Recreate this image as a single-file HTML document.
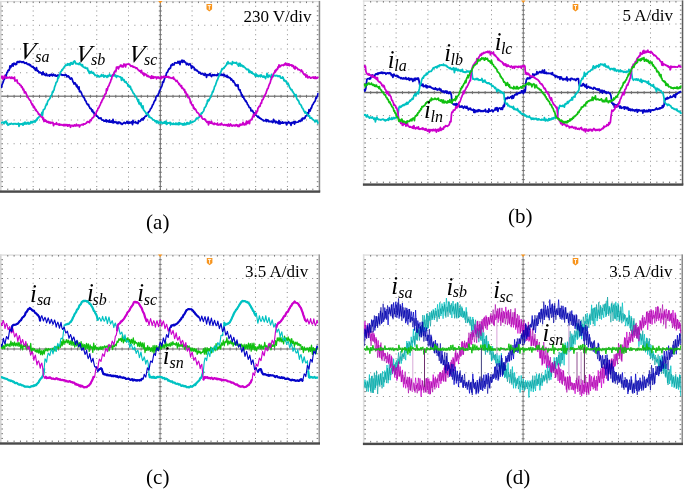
<!DOCTYPE html><html><head><meta charset="utf-8"><style>html,body{margin:0;padding:0;background:#fff;}svg{display:block}</style></head><body>
<svg width="685" height="490" viewBox="0 0 685 490">
<rect width="685" height="490" fill="#fff"/>
<defs><clipPath id="cpa"><rect x="0.9" y="1.5" width="317.8" height="188.7"/></clipPath><clipPath id="cpb"><rect x="363.8" y="1" width="318" height="182.2"/></clipPath><clipPath id="cpc"><rect x="0.9" y="255" width="317.6" height="187.1"/></clipPath><clipPath id="cpd"><rect x="363.8" y="255" width="317.7" height="187.5"/></clipPath></defs>
<path d="M32.68 5.74h1v1h-1zM32.68 10.48h1v1h-1zM32.68 15.23h1v1h-1zM32.68 19.97h1v1h-1zM32.68 24.71h1v1h-1zM32.68 29.45h1v1h-1zM32.68 34.2h1v1h-1zM32.68 38.94h1v1h-1zM32.68 43.68h1v1h-1zM32.68 48.42h1v1h-1zM32.68 53.17h1v1h-1zM32.68 57.91h1v1h-1zM32.68 62.65h1v1h-1zM32.68 67.39h1v1h-1zM32.68 72.14h1v1h-1zM32.68 76.88h1v1h-1zM32.68 81.62h1v1h-1zM32.68 86.36h1v1h-1zM32.68 91.11h1v1h-1zM32.68 95.85h1v1h-1zM32.68 100.59h1v1h-1zM32.68 105.33h1v1h-1zM32.68 110.08h1v1h-1zM32.68 114.82h1v1h-1zM32.68 119.56h1v1h-1zM32.68 124.3h1v1h-1zM32.68 129.05h1v1h-1zM32.68 133.79h1v1h-1zM32.68 138.53h1v1h-1zM32.68 143.28h1v1h-1zM32.68 148.02h1v1h-1zM32.68 152.76h1v1h-1zM32.68 157.5h1v1h-1zM32.68 162.24h1v1h-1zM32.68 166.99h1v1h-1zM32.68 171.73h1v1h-1zM32.68 176.47h1v1h-1zM32.68 181.21h1v1h-1zM32.68 185.96h1v1h-1zM64.46 5.74h1v1h-1zM64.46 10.48h1v1h-1zM64.46 15.23h1v1h-1zM64.46 19.97h1v1h-1zM64.46 24.71h1v1h-1zM64.46 29.45h1v1h-1zM64.46 34.2h1v1h-1zM64.46 38.94h1v1h-1zM64.46 43.68h1v1h-1zM64.46 48.42h1v1h-1zM64.46 53.17h1v1h-1zM64.46 57.91h1v1h-1zM64.46 62.65h1v1h-1zM64.46 67.39h1v1h-1zM64.46 72.14h1v1h-1zM64.46 76.88h1v1h-1zM64.46 81.62h1v1h-1zM64.46 86.36h1v1h-1zM64.46 91.11h1v1h-1zM64.46 95.85h1v1h-1zM64.46 100.59h1v1h-1zM64.46 105.33h1v1h-1zM64.46 110.08h1v1h-1zM64.46 114.82h1v1h-1zM64.46 119.56h1v1h-1zM64.46 124.3h1v1h-1zM64.46 129.05h1v1h-1zM64.46 133.79h1v1h-1zM64.46 138.53h1v1h-1zM64.46 143.28h1v1h-1zM64.46 148.02h1v1h-1zM64.46 152.76h1v1h-1zM64.46 157.5h1v1h-1zM64.46 162.24h1v1h-1zM64.46 166.99h1v1h-1zM64.46 171.73h1v1h-1zM64.46 176.47h1v1h-1zM64.46 181.21h1v1h-1zM64.46 185.96h1v1h-1zM96.24 5.74h1v1h-1zM96.24 10.48h1v1h-1zM96.24 15.23h1v1h-1zM96.24 19.97h1v1h-1zM96.24 24.71h1v1h-1zM96.24 29.45h1v1h-1zM96.24 34.2h1v1h-1zM96.24 38.94h1v1h-1zM96.24 43.68h1v1h-1zM96.24 48.42h1v1h-1zM96.24 53.17h1v1h-1zM96.24 57.91h1v1h-1zM96.24 62.65h1v1h-1zM96.24 67.39h1v1h-1zM96.24 72.14h1v1h-1zM96.24 76.88h1v1h-1zM96.24 81.62h1v1h-1zM96.24 86.36h1v1h-1zM96.24 91.11h1v1h-1zM96.24 95.85h1v1h-1zM96.24 100.59h1v1h-1zM96.24 105.33h1v1h-1zM96.24 110.08h1v1h-1zM96.24 114.82h1v1h-1zM96.24 119.56h1v1h-1zM96.24 124.3h1v1h-1zM96.24 129.05h1v1h-1zM96.24 133.79h1v1h-1zM96.24 138.53h1v1h-1zM96.24 143.28h1v1h-1zM96.24 148.02h1v1h-1zM96.24 152.76h1v1h-1zM96.24 157.5h1v1h-1zM96.24 162.24h1v1h-1zM96.24 166.99h1v1h-1zM96.24 171.73h1v1h-1zM96.24 176.47h1v1h-1zM96.24 181.21h1v1h-1zM96.24 185.96h1v1h-1zM128.02 5.74h1v1h-1zM128.02 10.48h1v1h-1zM128.02 15.23h1v1h-1zM128.02 19.97h1v1h-1zM128.02 24.71h1v1h-1zM128.02 29.45h1v1h-1zM128.02 34.2h1v1h-1zM128.02 38.94h1v1h-1zM128.02 43.68h1v1h-1zM128.02 48.42h1v1h-1zM128.02 53.17h1v1h-1zM128.02 57.91h1v1h-1zM128.02 62.65h1v1h-1zM128.02 67.39h1v1h-1zM128.02 72.14h1v1h-1zM128.02 76.88h1v1h-1zM128.02 81.62h1v1h-1zM128.02 86.36h1v1h-1zM128.02 91.11h1v1h-1zM128.02 95.85h1v1h-1zM128.02 100.59h1v1h-1zM128.02 105.33h1v1h-1zM128.02 110.08h1v1h-1zM128.02 114.82h1v1h-1zM128.02 119.56h1v1h-1zM128.02 124.3h1v1h-1zM128.02 129.05h1v1h-1zM128.02 133.79h1v1h-1zM128.02 138.53h1v1h-1zM128.02 143.28h1v1h-1zM128.02 148.02h1v1h-1zM128.02 152.76h1v1h-1zM128.02 157.5h1v1h-1zM128.02 162.24h1v1h-1zM128.02 166.99h1v1h-1zM128.02 171.73h1v1h-1zM128.02 176.47h1v1h-1zM128.02 181.21h1v1h-1zM128.02 185.96h1v1h-1zM191.58 5.74h1v1h-1zM191.58 10.48h1v1h-1zM191.58 15.23h1v1h-1zM191.58 19.97h1v1h-1zM191.58 24.71h1v1h-1zM191.58 29.45h1v1h-1zM191.58 34.2h1v1h-1zM191.58 38.94h1v1h-1zM191.58 43.68h1v1h-1zM191.58 48.42h1v1h-1zM191.58 53.17h1v1h-1zM191.58 57.91h1v1h-1zM191.58 62.65h1v1h-1zM191.58 67.39h1v1h-1zM191.58 72.14h1v1h-1zM191.58 76.88h1v1h-1zM191.58 81.62h1v1h-1zM191.58 86.36h1v1h-1zM191.58 91.11h1v1h-1zM191.58 95.85h1v1h-1zM191.58 100.59h1v1h-1zM191.58 105.33h1v1h-1zM191.58 110.08h1v1h-1zM191.58 114.82h1v1h-1zM191.58 119.56h1v1h-1zM191.58 124.3h1v1h-1zM191.58 129.05h1v1h-1zM191.58 133.79h1v1h-1zM191.58 138.53h1v1h-1zM191.58 143.28h1v1h-1zM191.58 148.02h1v1h-1zM191.58 152.76h1v1h-1zM191.58 157.5h1v1h-1zM191.58 162.24h1v1h-1zM191.58 166.99h1v1h-1zM191.58 171.73h1v1h-1zM191.58 176.47h1v1h-1zM191.58 181.21h1v1h-1zM191.58 185.96h1v1h-1zM223.36 5.74h1v1h-1zM223.36 10.48h1v1h-1zM223.36 15.23h1v1h-1zM223.36 19.97h1v1h-1zM223.36 24.71h1v1h-1zM223.36 29.45h1v1h-1zM223.36 34.2h1v1h-1zM223.36 38.94h1v1h-1zM223.36 43.68h1v1h-1zM223.36 48.42h1v1h-1zM223.36 53.17h1v1h-1zM223.36 57.91h1v1h-1zM223.36 62.65h1v1h-1zM223.36 67.39h1v1h-1zM223.36 72.14h1v1h-1zM223.36 76.88h1v1h-1zM223.36 81.62h1v1h-1zM223.36 86.36h1v1h-1zM223.36 91.11h1v1h-1zM223.36 95.85h1v1h-1zM223.36 100.59h1v1h-1zM223.36 105.33h1v1h-1zM223.36 110.08h1v1h-1zM223.36 114.82h1v1h-1zM223.36 119.56h1v1h-1zM223.36 124.3h1v1h-1zM223.36 129.05h1v1h-1zM223.36 133.79h1v1h-1zM223.36 138.53h1v1h-1zM223.36 143.28h1v1h-1zM223.36 148.02h1v1h-1zM223.36 152.76h1v1h-1zM223.36 157.5h1v1h-1zM223.36 162.24h1v1h-1zM223.36 166.99h1v1h-1zM223.36 171.73h1v1h-1zM223.36 176.47h1v1h-1zM223.36 181.21h1v1h-1zM223.36 185.96h1v1h-1zM255.14 5.74h1v1h-1zM255.14 10.48h1v1h-1zM255.14 15.23h1v1h-1zM255.14 19.97h1v1h-1zM255.14 24.71h1v1h-1zM255.14 29.45h1v1h-1zM255.14 34.2h1v1h-1zM255.14 38.94h1v1h-1zM255.14 43.68h1v1h-1zM255.14 48.42h1v1h-1zM255.14 53.17h1v1h-1zM255.14 57.91h1v1h-1zM255.14 62.65h1v1h-1zM255.14 67.39h1v1h-1zM255.14 72.14h1v1h-1zM255.14 76.88h1v1h-1zM255.14 81.62h1v1h-1zM255.14 86.36h1v1h-1zM255.14 91.11h1v1h-1zM255.14 95.85h1v1h-1zM255.14 100.59h1v1h-1zM255.14 105.33h1v1h-1zM255.14 110.08h1v1h-1zM255.14 114.82h1v1h-1zM255.14 119.56h1v1h-1zM255.14 124.3h1v1h-1zM255.14 129.05h1v1h-1zM255.14 133.79h1v1h-1zM255.14 138.53h1v1h-1zM255.14 143.28h1v1h-1zM255.14 148.02h1v1h-1zM255.14 152.76h1v1h-1zM255.14 157.5h1v1h-1zM255.14 162.24h1v1h-1zM255.14 166.99h1v1h-1zM255.14 171.73h1v1h-1zM255.14 176.47h1v1h-1zM255.14 181.21h1v1h-1zM255.14 185.96h1v1h-1zM286.92 5.74h1v1h-1zM286.92 10.48h1v1h-1zM286.92 15.23h1v1h-1zM286.92 19.97h1v1h-1zM286.92 24.71h1v1h-1zM286.92 29.45h1v1h-1zM286.92 34.2h1v1h-1zM286.92 38.94h1v1h-1zM286.92 43.68h1v1h-1zM286.92 48.42h1v1h-1zM286.92 53.17h1v1h-1zM286.92 57.91h1v1h-1zM286.92 62.65h1v1h-1zM286.92 67.39h1v1h-1zM286.92 72.14h1v1h-1zM286.92 76.88h1v1h-1zM286.92 81.62h1v1h-1zM286.92 86.36h1v1h-1zM286.92 91.11h1v1h-1zM286.92 95.85h1v1h-1zM286.92 100.59h1v1h-1zM286.92 105.33h1v1h-1zM286.92 110.08h1v1h-1zM286.92 114.82h1v1h-1zM286.92 119.56h1v1h-1zM286.92 124.3h1v1h-1zM286.92 129.05h1v1h-1zM286.92 133.79h1v1h-1zM286.92 138.53h1v1h-1zM286.92 143.28h1v1h-1zM286.92 148.02h1v1h-1zM286.92 152.76h1v1h-1zM286.92 157.5h1v1h-1zM286.92 162.24h1v1h-1zM286.92 166.99h1v1h-1zM286.92 171.73h1v1h-1zM286.92 176.47h1v1h-1zM286.92 181.21h1v1h-1zM286.92 185.96h1v1h-1zM7.26 24.71h1v1h-1zM13.61 24.71h1v1h-1zM19.97 24.71h1v1h-1zM26.32 24.71h1v1h-1zM32.68 24.71h1v1h-1zM39.04 24.71h1v1h-1zM45.39 24.71h1v1h-1zM51.75 24.71h1v1h-1zM58.1 24.71h1v1h-1zM64.46 24.71h1v1h-1zM70.82 24.71h1v1h-1zM77.17 24.71h1v1h-1zM83.53 24.71h1v1h-1zM89.88 24.71h1v1h-1zM96.24 24.71h1v1h-1zM102.6 24.71h1v1h-1zM108.95 24.71h1v1h-1zM115.31 24.71h1v1h-1zM121.66 24.71h1v1h-1zM128.02 24.71h1v1h-1zM134.38 24.71h1v1h-1zM140.73 24.71h1v1h-1zM147.09 24.71h1v1h-1zM153.44 24.71h1v1h-1zM159.8 24.71h1v1h-1zM166.16 24.71h1v1h-1zM172.51 24.71h1v1h-1zM178.87 24.71h1v1h-1zM185.22 24.71h1v1h-1zM191.58 24.71h1v1h-1zM197.94 24.71h1v1h-1zM204.29 24.71h1v1h-1zM210.65 24.71h1v1h-1zM217 24.71h1v1h-1zM223.36 24.71h1v1h-1zM229.72 24.71h1v1h-1zM236.07 24.71h1v1h-1zM242.43 24.71h1v1h-1zM248.78 24.71h1v1h-1zM255.14 24.71h1v1h-1zM261.5 24.71h1v1h-1zM267.85 24.71h1v1h-1zM274.21 24.71h1v1h-1zM280.56 24.71h1v1h-1zM286.92 24.71h1v1h-1zM293.28 24.71h1v1h-1zM299.63 24.71h1v1h-1zM305.99 24.71h1v1h-1zM312.34 24.71h1v1h-1zM7.26 48.42h1v1h-1zM13.61 48.42h1v1h-1zM19.97 48.42h1v1h-1zM26.32 48.42h1v1h-1zM32.68 48.42h1v1h-1zM39.04 48.42h1v1h-1zM45.39 48.42h1v1h-1zM51.75 48.42h1v1h-1zM58.1 48.42h1v1h-1zM64.46 48.42h1v1h-1zM70.82 48.42h1v1h-1zM77.17 48.42h1v1h-1zM83.53 48.42h1v1h-1zM89.88 48.42h1v1h-1zM96.24 48.42h1v1h-1zM102.6 48.42h1v1h-1zM108.95 48.42h1v1h-1zM115.31 48.42h1v1h-1zM121.66 48.42h1v1h-1zM128.02 48.42h1v1h-1zM134.38 48.42h1v1h-1zM140.73 48.42h1v1h-1zM147.09 48.42h1v1h-1zM153.44 48.42h1v1h-1zM159.8 48.42h1v1h-1zM166.16 48.42h1v1h-1zM172.51 48.42h1v1h-1zM178.87 48.42h1v1h-1zM185.22 48.42h1v1h-1zM191.58 48.42h1v1h-1zM197.94 48.42h1v1h-1zM204.29 48.42h1v1h-1zM210.65 48.42h1v1h-1zM217 48.42h1v1h-1zM223.36 48.42h1v1h-1zM229.72 48.42h1v1h-1zM236.07 48.42h1v1h-1zM242.43 48.42h1v1h-1zM248.78 48.42h1v1h-1zM255.14 48.42h1v1h-1zM261.5 48.42h1v1h-1zM267.85 48.42h1v1h-1zM274.21 48.42h1v1h-1zM280.56 48.42h1v1h-1zM286.92 48.42h1v1h-1zM293.28 48.42h1v1h-1zM299.63 48.42h1v1h-1zM305.99 48.42h1v1h-1zM312.34 48.42h1v1h-1zM7.26 72.14h1v1h-1zM13.61 72.14h1v1h-1zM19.97 72.14h1v1h-1zM26.32 72.14h1v1h-1zM32.68 72.14h1v1h-1zM39.04 72.14h1v1h-1zM45.39 72.14h1v1h-1zM51.75 72.14h1v1h-1zM58.1 72.14h1v1h-1zM64.46 72.14h1v1h-1zM70.82 72.14h1v1h-1zM77.17 72.14h1v1h-1zM83.53 72.14h1v1h-1zM89.88 72.14h1v1h-1zM96.24 72.14h1v1h-1zM102.6 72.14h1v1h-1zM108.95 72.14h1v1h-1zM115.31 72.14h1v1h-1zM121.66 72.14h1v1h-1zM128.02 72.14h1v1h-1zM134.38 72.14h1v1h-1zM140.73 72.14h1v1h-1zM147.09 72.14h1v1h-1zM153.44 72.14h1v1h-1zM159.8 72.14h1v1h-1zM166.16 72.14h1v1h-1zM172.51 72.14h1v1h-1zM178.87 72.14h1v1h-1zM185.22 72.14h1v1h-1zM191.58 72.14h1v1h-1zM197.94 72.14h1v1h-1zM204.29 72.14h1v1h-1zM210.65 72.14h1v1h-1zM217 72.14h1v1h-1zM223.36 72.14h1v1h-1zM229.72 72.14h1v1h-1zM236.07 72.14h1v1h-1zM242.43 72.14h1v1h-1zM248.78 72.14h1v1h-1zM255.14 72.14h1v1h-1zM261.5 72.14h1v1h-1zM267.85 72.14h1v1h-1zM274.21 72.14h1v1h-1zM280.56 72.14h1v1h-1zM286.92 72.14h1v1h-1zM293.28 72.14h1v1h-1zM299.63 72.14h1v1h-1zM305.99 72.14h1v1h-1zM312.34 72.14h1v1h-1zM7.26 119.56h1v1h-1zM13.61 119.56h1v1h-1zM19.97 119.56h1v1h-1zM26.32 119.56h1v1h-1zM32.68 119.56h1v1h-1zM39.04 119.56h1v1h-1zM45.39 119.56h1v1h-1zM51.75 119.56h1v1h-1zM58.1 119.56h1v1h-1zM64.46 119.56h1v1h-1zM70.82 119.56h1v1h-1zM77.17 119.56h1v1h-1zM83.53 119.56h1v1h-1zM89.88 119.56h1v1h-1zM96.24 119.56h1v1h-1zM102.6 119.56h1v1h-1zM108.95 119.56h1v1h-1zM115.31 119.56h1v1h-1zM121.66 119.56h1v1h-1zM128.02 119.56h1v1h-1zM134.38 119.56h1v1h-1zM140.73 119.56h1v1h-1zM147.09 119.56h1v1h-1zM153.44 119.56h1v1h-1zM159.8 119.56h1v1h-1zM166.16 119.56h1v1h-1zM172.51 119.56h1v1h-1zM178.87 119.56h1v1h-1zM185.22 119.56h1v1h-1zM191.58 119.56h1v1h-1zM197.94 119.56h1v1h-1zM204.29 119.56h1v1h-1zM210.65 119.56h1v1h-1zM217 119.56h1v1h-1zM223.36 119.56h1v1h-1zM229.72 119.56h1v1h-1zM236.07 119.56h1v1h-1zM242.43 119.56h1v1h-1zM248.78 119.56h1v1h-1zM255.14 119.56h1v1h-1zM261.5 119.56h1v1h-1zM267.85 119.56h1v1h-1zM274.21 119.56h1v1h-1zM280.56 119.56h1v1h-1zM286.92 119.56h1v1h-1zM293.28 119.56h1v1h-1zM299.63 119.56h1v1h-1zM305.99 119.56h1v1h-1zM312.34 119.56h1v1h-1zM7.26 143.27h1v1h-1zM13.61 143.27h1v1h-1zM19.97 143.27h1v1h-1zM26.32 143.27h1v1h-1zM32.68 143.27h1v1h-1zM39.04 143.27h1v1h-1zM45.39 143.27h1v1h-1zM51.75 143.27h1v1h-1zM58.1 143.27h1v1h-1zM64.46 143.27h1v1h-1zM70.82 143.27h1v1h-1zM77.17 143.27h1v1h-1zM83.53 143.27h1v1h-1zM89.88 143.27h1v1h-1zM96.24 143.27h1v1h-1zM102.6 143.27h1v1h-1zM108.95 143.27h1v1h-1zM115.31 143.27h1v1h-1zM121.66 143.27h1v1h-1zM128.02 143.27h1v1h-1zM134.38 143.27h1v1h-1zM140.73 143.27h1v1h-1zM147.09 143.27h1v1h-1zM153.44 143.27h1v1h-1zM159.8 143.27h1v1h-1zM166.16 143.27h1v1h-1zM172.51 143.27h1v1h-1zM178.87 143.27h1v1h-1zM185.22 143.27h1v1h-1zM191.58 143.27h1v1h-1zM197.94 143.27h1v1h-1zM204.29 143.27h1v1h-1zM210.65 143.27h1v1h-1zM217 143.27h1v1h-1zM223.36 143.27h1v1h-1zM229.72 143.27h1v1h-1zM236.07 143.27h1v1h-1zM242.43 143.27h1v1h-1zM248.78 143.27h1v1h-1zM255.14 143.27h1v1h-1zM261.5 143.27h1v1h-1zM267.85 143.27h1v1h-1zM274.21 143.27h1v1h-1zM280.56 143.27h1v1h-1zM286.92 143.27h1v1h-1zM293.28 143.27h1v1h-1zM299.63 143.27h1v1h-1zM305.99 143.27h1v1h-1zM312.34 143.27h1v1h-1zM7.26 166.99h1v1h-1zM13.61 166.99h1v1h-1zM19.97 166.99h1v1h-1zM26.32 166.99h1v1h-1zM32.68 166.99h1v1h-1zM39.04 166.99h1v1h-1zM45.39 166.99h1v1h-1zM51.75 166.99h1v1h-1zM58.1 166.99h1v1h-1zM64.46 166.99h1v1h-1zM70.82 166.99h1v1h-1zM77.17 166.99h1v1h-1zM83.53 166.99h1v1h-1zM89.88 166.99h1v1h-1zM96.24 166.99h1v1h-1zM102.6 166.99h1v1h-1zM108.95 166.99h1v1h-1zM115.31 166.99h1v1h-1zM121.66 166.99h1v1h-1zM128.02 166.99h1v1h-1zM134.38 166.99h1v1h-1zM140.73 166.99h1v1h-1zM147.09 166.99h1v1h-1zM153.44 166.99h1v1h-1zM159.8 166.99h1v1h-1zM166.16 166.99h1v1h-1zM172.51 166.99h1v1h-1zM178.87 166.99h1v1h-1zM185.22 166.99h1v1h-1zM191.58 166.99h1v1h-1zM197.94 166.99h1v1h-1zM204.29 166.99h1v1h-1zM210.65 166.99h1v1h-1zM217 166.99h1v1h-1zM223.36 166.99h1v1h-1zM229.72 166.99h1v1h-1zM236.07 166.99h1v1h-1zM242.43 166.99h1v1h-1zM248.78 166.99h1v1h-1zM255.14 166.99h1v1h-1zM261.5 166.99h1v1h-1zM267.85 166.99h1v1h-1zM274.21 166.99h1v1h-1zM280.56 166.99h1v1h-1zM286.92 166.99h1v1h-1zM293.28 166.99h1v1h-1zM299.63 166.99h1v1h-1zM305.99 166.99h1v1h-1zM312.34 166.99h1v1h-1z" fill="#8a8a8a"/>
<rect x="0" y="0.9" width="1.6" height="190.3" fill="#d4d4d4"/>
<rect x="0" y="0.9" width="319.2" height="1.3" fill="#dcdcdc"/>
<rect x="318.7" y="0.9" width="1.5" height="190.9" fill="#888"/>
<rect x="0" y="190.4" width="320.2" height="2.4" fill="#4a4a4a"/>
<path d="M7.76 1.5v1.6M7.76 190.2v-1.6M14.11 1.5v1.6M14.11 190.2v-1.6M20.47 1.5v1.6M20.47 190.2v-1.6M26.82 1.5v1.6M26.82 190.2v-1.6M33.18 1.5v1.6M33.18 190.2v-1.6M39.54 1.5v1.6M39.54 190.2v-1.6M45.89 1.5v1.6M45.89 190.2v-1.6M52.25 1.5v1.6M52.25 190.2v-1.6M58.6 1.5v1.6M58.6 190.2v-1.6M64.96 1.5v1.6M64.96 190.2v-1.6M71.32 1.5v1.6M71.32 190.2v-1.6M77.67 1.5v1.6M77.67 190.2v-1.6M84.03 1.5v1.6M84.03 190.2v-1.6M90.38 1.5v1.6M90.38 190.2v-1.6M96.74 1.5v1.6M96.74 190.2v-1.6M103.1 1.5v1.6M103.1 190.2v-1.6M109.45 1.5v1.6M109.45 190.2v-1.6M115.81 1.5v1.6M115.81 190.2v-1.6M122.16 1.5v1.6M122.16 190.2v-1.6M128.52 1.5v1.6M128.52 190.2v-1.6M134.88 1.5v1.6M134.88 190.2v-1.6M141.23 1.5v1.6M141.23 190.2v-1.6M147.59 1.5v1.6M147.59 190.2v-1.6M153.94 1.5v1.6M153.94 190.2v-1.6M160.3 1.5v1.6M160.3 190.2v-1.6M166.66 1.5v1.6M166.66 190.2v-1.6M173.01 1.5v1.6M173.01 190.2v-1.6M179.37 1.5v1.6M179.37 190.2v-1.6M185.72 1.5v1.6M185.72 190.2v-1.6M192.08 1.5v1.6M192.08 190.2v-1.6M198.44 1.5v1.6M198.44 190.2v-1.6M204.79 1.5v1.6M204.79 190.2v-1.6M211.15 1.5v1.6M211.15 190.2v-1.6M217.5 1.5v1.6M217.5 190.2v-1.6M223.86 1.5v1.6M223.86 190.2v-1.6M230.22 1.5v1.6M230.22 190.2v-1.6M236.57 1.5v1.6M236.57 190.2v-1.6M242.93 1.5v1.6M242.93 190.2v-1.6M249.28 1.5v1.6M249.28 190.2v-1.6M255.64 1.5v1.6M255.64 190.2v-1.6M262 1.5v1.6M262 190.2v-1.6M268.35 1.5v1.6M268.35 190.2v-1.6M274.71 1.5v1.6M274.71 190.2v-1.6M281.06 1.5v1.6M281.06 190.2v-1.6M287.42 1.5v1.6M287.42 190.2v-1.6M293.78 1.5v1.6M293.78 190.2v-1.6M300.13 1.5v1.6M300.13 190.2v-1.6M306.49 1.5v1.6M306.49 190.2v-1.6M312.84 1.5v1.6M312.84 190.2v-1.6M1.4 6.24h1.6M318.4 6.24h-1.6M1.4 10.98h1.6M318.4 10.98h-1.6M1.4 15.73h1.6M318.4 15.73h-1.6M1.4 20.47h1.6M318.4 20.47h-1.6M1.4 25.21h1.6M318.4 25.21h-1.6M1.4 29.95h1.6M318.4 29.95h-1.6M1.4 34.7h1.6M318.4 34.7h-1.6M1.4 39.44h1.6M318.4 39.44h-1.6M1.4 44.18h1.6M318.4 44.18h-1.6M1.4 48.92h1.6M318.4 48.92h-1.6M1.4 53.67h1.6M318.4 53.67h-1.6M1.4 58.41h1.6M318.4 58.41h-1.6M1.4 63.15h1.6M318.4 63.15h-1.6M1.4 67.89h1.6M318.4 67.89h-1.6M1.4 72.64h1.6M318.4 72.64h-1.6M1.4 77.38h1.6M318.4 77.38h-1.6M1.4 82.12h1.6M318.4 82.12h-1.6M1.4 86.86h1.6M318.4 86.86h-1.6M1.4 91.61h1.6M318.4 91.61h-1.6M1.4 96.35h1.6M318.4 96.35h-1.6M1.4 101.09h1.6M318.4 101.09h-1.6M1.4 105.83h1.6M318.4 105.83h-1.6M1.4 110.58h1.6M318.4 110.58h-1.6M1.4 115.32h1.6M318.4 115.32h-1.6M1.4 120.06h1.6M318.4 120.06h-1.6M1.4 124.8h1.6M318.4 124.8h-1.6M1.4 129.55h1.6M318.4 129.55h-1.6M1.4 134.29h1.6M318.4 134.29h-1.6M1.4 139.03h1.6M318.4 139.03h-1.6M1.4 143.78h1.6M318.4 143.78h-1.6M1.4 148.52h1.6M318.4 148.52h-1.6M1.4 153.26h1.6M318.4 153.26h-1.6M1.4 158h1.6M318.4 158h-1.6M1.4 162.74h1.6M318.4 162.74h-1.6M1.4 167.49h1.6M318.4 167.49h-1.6M1.4 172.23h1.6M318.4 172.23h-1.6M1.4 176.97h1.6M318.4 176.97h-1.6M1.4 181.71h1.6M318.4 181.71h-1.6M1.4 186.46h1.6M318.4 186.46h-1.6" stroke="#777" stroke-width="1" fill="none"/>
<line x1="160.3" y1="1.5" x2="160.3" y2="190.2" stroke="#666" stroke-width="1"/>
<line x1="1.4" y1="96.35" x2="318.4" y2="96.35" stroke="#888" stroke-width="1.5"/>
<path d="M7.76 94.85v3M14.11 94.85v3M20.47 94.85v3M26.82 94.85v3M33.18 94.85v3M39.54 94.85v3M45.89 94.85v3M52.25 94.85v3M58.6 94.85v3M64.96 94.85v3M71.32 94.85v3M77.67 94.85v3M84.03 94.85v3M90.38 94.85v3M96.74 94.85v3M103.1 94.85v3M109.45 94.85v3M115.81 94.85v3M122.16 94.85v3M128.52 94.85v3M134.88 94.85v3M141.23 94.85v3M147.59 94.85v3M153.94 94.85v3M160.3 94.85v3M166.66 94.85v3M173.01 94.85v3M179.37 94.85v3M185.72 94.85v3M192.08 94.85v3M198.44 94.85v3M204.79 94.85v3M211.15 94.85v3M217.5 94.85v3M223.86 94.85v3M230.22 94.85v3M236.57 94.85v3M242.93 94.85v3M249.28 94.85v3M255.64 94.85v3M262 94.85v3M268.35 94.85v3M274.71 94.85v3M281.06 94.85v3M287.42 94.85v3M293.78 94.85v3M300.13 94.85v3M306.49 94.85v3M312.84 94.85v3M158.8 6.24h3M158.8 10.98h3M158.8 15.73h3M158.8 20.47h3M158.8 25.21h3M158.8 29.95h3M158.8 34.7h3M158.8 39.44h3M158.8 44.18h3M158.8 48.92h3M158.8 53.67h3M158.8 58.41h3M158.8 63.15h3M158.8 67.89h3M158.8 72.64h3M158.8 77.38h3M158.8 82.12h3M158.8 86.86h3M158.8 91.61h3M158.8 96.35h3M158.8 101.09h3M158.8 105.83h3M158.8 110.58h3M158.8 115.32h3M158.8 120.06h3M158.8 124.8h3M158.8 129.55h3M158.8 134.29h3M158.8 139.03h3M158.8 143.78h3M158.8 148.52h3M158.8 153.26h3M158.8 158h3M158.8 162.74h3M158.8 167.49h3M158.8 172.23h3M158.8 176.97h3M158.8 181.71h3M158.8 186.46h3" stroke="#707070" stroke-width="1" fill="none"/>
<path d="M158.1 1.1h4.4l-2.2 2.4z" fill="#f7941d"/>
<g clip-path="url(#cpa)">
<polyline points="1,87.22 1.5,87.34 2,84.78 2.5,83.74 3,82.52 3.5,80.9 4,79.29 4.5,79.13 5,77.7 5.5,75.18 6,76.33 6.5,74.4 7,72.36 7.5,72.25 8,70.58 8.5,69.98 9,70.43 9.5,69.25 10,65.82 10.5,67.7 11,66.99 11.5,65.5 12,65.65 12.5,63.83 13,66.18 13.5,64.38 14,63.14 14.5,63.59 15,64.35 15.5,64.62 16,63.39 16.5,64.46 17,62.06 17.5,61.75 18,61.49 18.5,62.44 19,62.44 19.5,61.58 20,61.19 20.5,61.97 21,61.97 21.5,61.74 22,62.56 22.5,61.9 23,62.04 23.5,61.63 24,62.49 24.5,63.34 25,62.84 25.5,63.04 26,63.44 26.5,62.73 27,63.92 27.5,64.18 28,64.49 28.5,64 29,64.9 29.5,64.17 30,65.52 30.5,65.01 31,65.99 31.5,66.63 32,66.47 32.5,67.09 33,66.47 33.5,67.26 34,68.49 34.5,67.86 35,69.25 35.5,70.24 36,69.21 36.5,67.67 37,70.5 37.5,71.17 38,70.65 38.5,71.47 39,72.78 39.5,72 40,72.02 40.5,72.98 41,72.95 41.5,72.98 42,74.68 42.5,74.38 43,71.87 43.5,74.41 44,74.03 44.5,73.67 45,75.31 45.5,75.52 46,74.96 46.5,73.74 47,75.57 47.5,75.68 48,75.31 48.5,75.13 49,74.99 49.5,76.13 50,74.7 50.5,75.44 51,75.13 51.5,74.18 52,75.2 52.5,75.88 53,75.14 53.5,74.28 54,75.23 54.5,75.71 55,75.36 55.5,74.96 56,76.14 56.5,76.1 57,76.18 57.5,75.34 58,75.03 58.5,75.17 59,75.48 59.5,75.09 60,74.66 60.5,74.24 61,74.17 61.5,74.64 62,75.34 62.5,74.94 63,74.9 63.5,75.11 64,75.11 64.5,75.52 65,74.74 65.5,74.42 66,75.43 66.5,75.2 67,76.89 67.5,76.12 68,76.34 68.5,75.95 69,77.33 69.5,77.25 70,78.67 70.5,79.01 71,78.64 71.5,77.92 72,78.65 72.5,80.33 73,81.94 73.5,82.23 74,84.1 74.5,82.94 75,82.8 75.5,83.48 76,85.03 76.5,86.57 77,85.13 77.5,87.4 78,88.13 78.5,89.08 79,86.78 79.5,91.75 80,91.05 80.5,91.34 81,92.12 81.5,93.21 82,94.55 82.5,95.68 83,96.32 83.5,97.22 84,97.65 84.5,98.48 85,100.34 85.5,100.55 86,101.38 86.5,102.77 87,103.77 87.5,104.6 88,104.92 88.5,104.31 89,106.39 89.5,107.06 90,108.44 90.5,108.54 91,108.47 91.5,109.77 92,111.23 92.5,110.02 93,112.02 93.5,112.86 94,112.42 94.5,114.83 95,114.12 95.5,114.64 96,114.61 96.5,116.15 97,116.24 97.5,116.23 98,117.11 98.5,117.78 99,118.48 99.5,118.31 100,118.02 100.5,118.58 101,117.93 101.5,119.07 102,120.13 102.5,120.18 103,120.04 103.5,120.08 104,121.29 104.5,120.72 105,121.2 105.5,121.04 106,119.76 106.5,121.91 107,120.48 107.5,120.61 108,121.12 108.5,121.95 109,121.23 109.5,119.97 110,122.23 110.5,121.79 111,122.02 111.5,121.02 112,121.49 112.5,122.61 113,119.32 113.5,122.78 114,121.62 114.5,122.4 115,121.82 115.5,122.44 116,121.88 116.5,122.27 117,123.38 117.5,122.29 118,123.65 118.5,122.31 119,121.95 119.5,122.67 120,122.44 120.5,123.67 121,123.21 121.5,123.42 122,124.4 122.5,124.19 123,123.3 123.5,123.18 124,122.46 124.5,122.44 125,123.06 125.5,123.52 126,122.76 126.5,122.48 127,121.31 127.5,123.1 128,122.38 128.5,123.26 129,121.71 129.5,123.08 130,122.84 130.5,122.32 131,122.86 131.5,121.76 132,122.35 132.5,124.68 133,120.4 133.5,122.59 134,122.36 134.5,122.29 135,122.54 135.5,121.7 136,122.96 136.5,122.63 137,123.24 137.5,122.64 138,123.57 138.5,120.62 139,121.63 139.5,121.48 140,121.31 140.5,120.82 141,119.53 141.5,119.82 142,118.54 142.5,119.27 143,120.11 143.5,117.82 144,118.6 144.5,117.39 145,116.61 145.5,116.05 146,116.16 146.5,115.93 147,114.59 147.5,114.92 148,112.69 148.5,112.12 149,111.77 149.5,111.18 150,110.33 150.5,108.76 151,108.7 151.5,107.55 152,106.81 152.5,104.99 153,104.67 153.5,103.6 154,102.07 154.5,101.29 155,100.1 155.5,100.17 156,96.76 156.5,96.73 157,95.65 157.5,95.43 158,95.79 158.5,93.47 159,93.07 159.5,90.72 160,90.03 160.5,89.17 161,87.34 161.5,86.84 162,85.44 162.5,83.49 163,81.58 163.5,82.18 164,80.3 164.5,79 165,77.54 165.5,76.25 166,75.49 166.5,73 167,72.43 167.5,72.15 168,70.87 168.5,69.58 169,68.7 169.5,69.05 170,67.99 170.5,68.01 171,65.05 171.5,65.26 172,65.37 172.5,63.85 173,64.73 173.5,64.37 174,64.92 174.5,63.23 175,62.71 175.5,62.77 176,62.79 176.5,62.97 177,63.15 177.5,62.64 178,61.43 178.5,61.69 179,63.08 179.5,61.49 180,64.52 180.5,61.31 181,61.99 181.5,61.84 182,60.06 182.5,62.37 183,61.96 183.5,60.71 184,60.59 184.5,61.89 185,62.4 185.5,62.11 186,63.2 186.5,64.63 187,64.04 187.5,63.41 188,63.76 188.5,64.97 189,64.48 189.5,64.16 190,63.76 190.5,65.12 191,65.47 191.5,68.3 192,66.74 192.5,66.22 193,67.07 193.5,67.1 194,67.44 194.5,69.77 195,69.86 195.5,69.13 196,70.02 196.5,70.58 197,70.28 197.5,71.17 198,71.53 198.5,71.69 199,73.08 199.5,72.33 200,72.34 200.5,73.13 201,74.05 201.5,73.92 202,73.4 202.5,73.46 203,73.67 203.5,74.94 204,74.83 204.5,75.24 205,73.65 205.5,74.97 206,74.41 206.5,77.33 207,75.59 207.5,74.69 208,74.89 208.5,74.64 209,75.4 209.5,74.32 210,73.59 210.5,74.87 211,75.94 211.5,76.59 212,75.29 212.5,74.61 213,75.34 213.5,74.82 214,75.55 214.5,74.67 215,75.04 215.5,75.19 216,75.41 216.5,75.01 217,75.67 217.5,74.96 218,73.82 218.5,75.25 219,74.52 219.5,74.27 220,75.44 220.5,74.05 221,74.66 221.5,74.26 222,75.45 222.5,74.58 223,75 223.5,74.21 224,75.88 224.5,74.63 225,75.86 225.5,76.12 226,76.34 226.5,76.83 227,75.36 227.5,77.29 228,76.55 228.5,77.03 229,77.78 229.5,77.66 230,77.61 230.5,78.49 231,79.91 231.5,78.95 232,80.19 232.5,80.16 233,81.86 233.5,80.89 234,82.17 234.5,82.88 235,83.64 235.5,85.53 236,85.76 236.5,85.04 237,85.96 237.5,86.4 238,84.75 238.5,88.99 239,89.45 239.5,90.46 240,89.81 240.5,92.15 241,92.65 241.5,95.21 242,94.38 242.5,97.21 243,96.64 243.5,96.53 244,98.82 244.5,98.99 245,100.13 245.5,101.27 246,100.88 246.5,102.21 247,102.63 247.5,104.5 248,104.84 248.5,105.66 249,106.96 249.5,107.72 250,107.66 250.5,107.92 251,110.85 251.5,110.97 252,110.42 252.5,110.64 253,111.58 253.5,112.6 254,113.68 254.5,114.18 255,112.92 255.5,114.59 256,115.3 256.5,115.49 257,116.15 257.5,116.5 258,117.28 258.5,116.37 259,117.62 259.5,118.03 260,117.93 260.5,118.79 261,118.62 261.5,119.11 262,119.56 262.5,119.79 263,119.79 263.5,120.87 264,120.53 264.5,120.74 265,120.82 265.5,120.46 266,119.51 266.5,121.52 267,119.92 267.5,120.29 268,120.15 268.5,121.57 269,121.13 269.5,121.57 270,121.39 270.5,121.53 271,121.73 271.5,121.21 272,121.94 272.5,122.56 273,122.46 273.5,119.28 274,121.44 274.5,121.5 275,121.04 275.5,122.8 276,122.55 276.5,121.45 277,122.49 277.5,122.94 278,122.28 278.5,123.61 279,120.5 279.5,123.28 280,123.96 280.5,122 281,122.56 281.5,123.09 282,123.14 282.5,121.85 283,123.17 283.5,123.05 284,122.68 284.5,122.48 285,122.67 285.5,122.81 286,122.29 286.5,124.82 287,123.7 287.5,122.76 288,122.63 288.5,121.65 289,123.01 289.5,122.52 290,122.78 290.5,123.83 291,125.31 291.5,122.65 292,123.26 292.5,122.29 293,122.79 293.5,121.83 294,121.93 294.5,124.08 295,121.36 295.5,122.5 296,122.58 296.5,122.25 297,122.23 297.5,122.1 298,122.1 298.5,121.57 299,120.76 299.5,120.59 300,121.44 300.5,121.29 301,120.55 301.5,119.06 302,120.55 302.5,118.04 303,118.95 303.5,118.59 304,117.94 304.5,118.63 305,118.09 305.5,116.05 306,115.99 306.5,115.7 307,115.64 307.5,112.96 308,114.1 308.5,113.76 309,109.71 309.5,111.21 310,111.08 310.5,109.73 311,107.86 311.5,108.04 312,106.04 312.5,104.79 313,104.52 313.5,103.19 314,102.45 314.5,101.79 315,101.38 315.5,99.54 316,97.44 316.5,98.29 317,96.52 317.5,96.28 318,93.51 318.5,93.85" fill="none" stroke="#0404c8" stroke-width="1.75" stroke-linejoin="round" stroke-opacity="1.0"/>
<polyline points="1,122.76 1.5,122.98 2,122.32 2.5,122.33 3,122.14 3.5,122.97 4,123.76 4.5,121.81 5,122.58 5.5,122.57 6,121.08 6.5,122.23 7,124.14 7.5,123.28 8,125.27 8.5,124.57 9,124.64 9.5,124.24 10,123.61 10.5,124.11 11,123.58 11.5,123.37 12,123.83 12.5,124.03 13,124.27 13.5,123.82 14,123.6 14.5,123.57 15,123.98 15.5,123.57 16,123.69 16.5,124.2 17,124.25 17.5,124.22 18,123.55 18.5,123.19 19,126.32 19.5,124.07 20,123.8 20.5,124.12 21,124.46 21.5,123.87 22,124.19 22.5,123.41 23,125.15 23.5,123.43 24,123.05 24.5,124.05 25,122.21 25.5,123.69 26,124.1 26.5,123.84 27,122.71 27.5,123.64 28,122.43 28.5,122.89 29,124.07 29.5,123.26 30,123.68 30.5,122.26 31,121.54 31.5,122.07 32,122.97 32.5,121.59 33,122.37 33.5,121.44 34,121.2 34.5,120.86 35,122.28 35.5,120.41 36,120.97 36.5,119.49 37,119.9 37.5,118.08 38,117.89 38.5,117.84 39,116.78 39.5,116.31 40,115.86 40.5,115 41,115.45 41.5,114.47 42,112.29 42.5,115.31 43,111.39 43.5,109.61 44,109.51 44.5,109.11 45,108.02 45.5,106.3 46,105.57 46.5,103.77 47,104.47 47.5,101.95 48,100.93 48.5,100.04 49,99.56 49.5,98.96 50,98.31 50.5,96.67 51,95.51 51.5,95.42 52,93.82 52.5,91.7 53,92.33 53.5,90.5 54,90.08 54.5,87.32 55,86 55.5,84.81 56,82.8 56.5,82.12 57,81.75 57.5,80.18 58,77.2 58.5,77.98 59,76.25 59.5,75.34 60,73.82 60.5,71.85 61,71.89 61.5,71.06 62,69.65 62.5,70 63,68.78 63.5,68.16 64,67.47 64.5,66.52 65,66.14 65.5,65.01 66,65.56 66.5,65.31 67,64.77 67.5,63.71 68,65.16 68.5,64.1 69,63.97 69.5,63.62 70,65.42 70.5,63.22 71,62.68 71.5,62.84 72,64.19 72.5,63.61 73,63.99 73.5,61.59 74,61.78 74.5,61.02 75,61.43 75.5,63.57 76,63.78 76.5,63.32 77,63.64 77.5,63.83 78,63.76 78.5,64.43 79,63.66 79.5,62.86 80,64.57 80.5,63.97 81,64.62 81.5,65.7 82,65.95 82.5,64.71 83,66.9 83.5,66.91 84,67.48 84.5,67.35 85,68.05 85.5,67.34 86,68.27 86.5,68.16 87,68.84 87.5,68.08 88,70.81 88.5,70.34 89,72.59 89.5,73.43 90,71.77 90.5,72.95 91,72.6 91.5,71.3 92,72.94 92.5,73.02 93,73.05 93.5,72.52 94,74.12 94.5,74.2 95,75.51 95.5,75.16 96,75.43 96.5,75.52 97,76.3 97.5,75.19 98,76.59 98.5,75.87 99,76.86 99.5,76.86 100,76.38 100.5,75.88 101,76.32 101.5,74.54 102,75.41 102.5,76.05 103,75.87 103.5,74.95 104,77.22 104.5,75.89 105,76.01 105.5,75.59 106,76.46 106.5,76.76 107,77.3 107.5,75.6 108,76.78 108.5,76.13 109,75.75 109.5,74.16 110,75.57 110.5,76.16 111,75.83 111.5,76.41 112,75.41 112.5,74.63 113,75.08 113.5,75.8 114,72.89 114.5,75.26 115,76.02 115.5,75.04 116,76.35 116.5,77.44 117,75.78 117.5,76.21 118,76.1 118.5,76.31 119,76.5 119.5,76.85 120,76.96 120.5,76.81 121,77.81 121.5,80.38 122,77.59 122.5,78.53 123,79.73 123.5,80.1 124,79.68 124.5,81.71 125,82.13 125.5,81.54 126,81.59 126.5,83.16 127,83.27 127.5,83.81 128,86.15 128.5,84.91 129,86.01 129.5,87.11 130,86.2 130.5,86.76 131,89.34 131.5,89.1 132,90.73 132.5,91.24 133,92.72 133.5,93.42 134,93.66 134.5,94.62 135,95.78 135.5,95.84 136,97 136.5,97.35 137,99.09 137.5,99.86 138,101.63 138.5,99.61 139,103.99 139.5,102.32 140,103.83 140.5,104.81 141,103.18 141.5,106.71 142,107.49 142.5,108.21 143,105.95 143.5,109.95 144,110.18 144.5,111.07 145,111.66 145.5,112.2 146,113.5 146.5,114.25 147,113.06 147.5,114.24 148,115.13 148.5,114.55 149,117.03 149.5,116.26 150,117.44 150.5,117.69 151,117.89 151.5,117.87 152,118.63 152.5,119.26 153,120 153.5,119.8 154,120 154.5,120.36 155,121.45 155.5,121.11 156,120.75 156.5,122.75 157,121.21 157.5,121.08 158,121.49 158.5,123.42 159,122.34 159.5,122.2 160,122.41 160.5,123.23 161,121.75 161.5,122.71 162,122.44 162.5,123.68 163,122.75 163.5,122.6 164,123.14 164.5,121.73 165,123.13 165.5,123.41 166,121.17 166.5,124.44 167,124.25 167.5,122.76 168,123.09 168.5,122.92 169,123.06 169.5,123.07 170,122.32 170.5,124.82 171,123.15 171.5,123.79 172,123.57 172.5,124.39 173,124.06 173.5,123.16 174,124.39 174.5,124.25 175,123.84 175.5,124.35 176,123.01 176.5,124.39 177,124.32 177.5,124.12 178,123.25 178.5,124.72 179,122.68 179.5,124.36 180,123.01 180.5,123.92 181,123.65 181.5,123.57 182,123.61 182.5,124.93 183,123.91 183.5,124.08 184,125.03 184.5,123.04 185,124.62 185.5,124.5 186,124.67 186.5,123.4 187,122.58 187.5,122.68 188,124.13 188.5,123.08 189,123.69 189.5,123.78 190,122.84 190.5,121 191,122.93 191.5,122.37 192,122.4 192.5,121.72 193,122.09 193.5,121.41 194,121.28 194.5,121.12 195,120.78 195.5,119.98 196,119.26 196.5,118.13 197,118.84 197.5,118.39 198,118.12 198.5,117.26 199,117.35 199.5,116.76 200,115.46 200.5,115.51 201,114.08 201.5,112.81 202,113.4 202.5,112.24 203,111.9 203.5,111.09 204,109.85 204.5,107.63 205,107.69 205.5,106.7 206,105.98 206.5,103.95 207,103.83 207.5,100.48 208,101.63 208.5,99.76 209,100.56 209.5,99.16 210,98.05 210.5,96.6 211,96.28 211.5,94.85 212,93.45 212.5,91.76 213,92.06 213.5,90.23 214,89.13 214.5,86.66 215,85.96 215.5,85.05 216,83.43 216.5,81.9 217,80.44 217.5,79.89 218,78.3 218.5,77.07 219,75.88 219.5,74.52 220,73.59 220.5,72.42 221,71.85 221.5,70.26 222,68.71 222.5,69.42 223,68.55 223.5,68.01 224,68.36 224.5,67.07 225,66.76 225.5,65.95 226,65.33 226.5,64.7 227,63.02 227.5,63.86 228,61.71 228.5,63.56 229,63.1 229.5,63.24 230,63.57 230.5,63.19 231,63.75 231.5,63.63 232,64.71 232.5,61.7 233,63.01 233.5,62.54 234,63.05 234.5,62.67 235,62.75 235.5,63.17 236,62.48 236.5,62.35 237,63.59 237.5,64.57 238,64.41 238.5,66.05 239,63.43 239.5,65.62 240,63.38 240.5,64.41 241,66.18 241.5,65.12 242,65.18 242.5,65.87 243,66.77 243.5,65.97 244,66.9 244.5,67.19 245,67.75 245.5,68.18 246,68.75 246.5,69.48 247,69.06 247.5,69.38 248,69.9 248.5,69.32 249,72.41 249.5,70.56 250,71.21 250.5,72.28 251,71.67 251.5,73.01 252,72.12 252.5,73.5 253,73.79 253.5,73.66 254,74.06 254.5,74.24 255,75.57 255.5,76.28 256,73.81 256.5,75.62 257,76.22 257.5,75.07 258,75.82 258.5,76.54 259,75.61 259.5,75.63 260,75.41 260.5,76.77 261,74.94 261.5,75.46 262,76.32 262.5,76.43 263,77.17 263.5,76.48 264,75.99 264.5,77.02 265,76.86 265.5,78.61 266,76.88 266.5,76.58 267,73.33 267.5,75.71 268,77.32 268.5,76.22 269,75.13 269.5,76.08 270,76.5 270.5,76.11 271,77.89 271.5,74.48 272,75.71 272.5,75.56 273,76.52 273.5,75.6 274,75.59 274.5,75.41 275,75.64 275.5,75.92 276,75.59 276.5,75.49 277,75.41 277.5,76.28 278,76.16 278.5,76.33 279,75.84 279.5,76.39 280,75.97 280.5,77.72 281,78.11 281.5,78.02 282,78.11 282.5,76.96 283,77.4 283.5,78.82 284,80.7 284.5,80.03 285,81.11 285.5,81.33 286,80.92 286.5,82.43 287,83.8 287.5,84.66 288,83.2 288.5,84.37 289,85.58 289.5,87.14 290,87.98 290.5,88.91 291,89.71 291.5,89.31 292,89.8 292.5,91.66 293,91.88 293.5,92.92 294,93.6 294.5,94.48 295,96.08 295.5,95.92 296,94.55 296.5,97.78 297,99.07 297.5,99.7 298,100.64 298.5,100.48 299,101.93 299.5,103.83 300,103.98 300.5,104.51 301,105.11 301.5,106.15 302,107.62 302.5,108.06 303,108.87 303.5,109.93 304,111.3 304.5,111.46 305,113.06 305.5,111.53 306,112.61 306.5,113.33 307,114.42 307.5,114.64 308,115.29 308.5,116.04 309,116.16 309.5,115.61 310,118.02 310.5,117.96 311,118.02 311.5,117.74 312,118.78 312.5,119.17 313,119.45 313.5,119.95 314,120.45 314.5,120.69 315,121.91 315.5,120.37 316,120.22 316.5,121.45 317,120.72 317.5,121.42 318,123.4 318.5,121.35" fill="none" stroke="#00c2c2" stroke-width="1.75" stroke-linejoin="round" stroke-opacity="1.0"/>
<polyline points="1,77.35 1.5,77.84 2,76.17 2.5,77.51 3,79.2 3.5,77.48 4,78.13 4.5,75.73 5,76.84 5.5,77.28 6,77.62 6.5,78.06 7,77.54 7.5,77.24 8,77.95 8.5,77.75 9,77.43 9.5,77.09 10,77.62 10.5,78.22 11,77.26 11.5,77.12 12,78.43 12.5,77.47 13,77.77 13.5,78.57 14,78.82 14.5,77.2 15,81.12 15.5,80.36 16,80.48 16.5,80.57 17,79.99 17.5,82.75 18,83.05 18.5,83.51 19,83.71 19.5,83.79 20,85.09 20.5,85.38 21,85.3 21.5,87.26 22,86.59 22.5,87.83 23,89.75 23.5,89.07 24,90.36 24.5,92.97 25,91.8 25.5,91.86 26,93.22 26.5,94.34 27,95.53 27.5,96.94 28,97.22 28.5,98.32 29,98.93 29.5,99.83 30,100.28 30.5,100.52 31,102.54 31.5,103.04 32,104.73 32.5,104.07 33,105.62 33.5,107.54 34,106.41 34.5,107.27 35,108.8 35.5,110.33 36,109.46 36.5,110.86 37,111.43 37.5,111.92 38,112.78 38.5,114.26 39,114.33 39.5,114.17 40,115.16 40.5,116.14 41,116.7 41.5,116.78 42,117.42 42.5,116.95 43,119.56 43.5,118.1 44,121.5 44.5,120.98 45,119.91 45.5,121.29 46,121.02 46.5,120.86 47,122.27 47.5,122.21 48,121.58 48.5,121.52 49,123.02 49.5,122.62 50,122.04 50.5,123.29 51,122.34 51.5,122.88 52,122.93 52.5,122.4 53,122.61 53.5,125.62 54,124.14 54.5,124.11 55,123.82 55.5,124.01 56,124.27 56.5,122.74 57,123.99 57.5,124.35 58,124.28 58.5,124.76 59,123.85 59.5,125.18 60,124.39 60.5,124.42 61,125.11 61.5,124.64 62,124.71 62.5,125.13 63,125.13 63.5,125.69 64,124.33 64.5,125.65 65,124.81 65.5,125.48 66,124.43 66.5,125.1 67,124.87 67.5,126.22 68,124.76 68.5,125.94 69,124.9 69.5,124.76 70,125.57 70.5,127.23 71,125.41 71.5,125.79 72,125.6 72.5,125.45 73,126.25 73.5,125.49 74,125.96 74.5,124.83 75,125.35 75.5,125.95 76,125.15 76.5,124.19 77,125.75 77.5,125.62 78,125.1 78.5,125.27 79,124.98 79.5,126.94 80,125.66 80.5,125.17 81,124.89 81.5,124.61 82,124.7 82.5,124.39 83,125.06 83.5,123.79 84,123.86 84.5,124.18 85,123.95 85.5,123.67 86,123.05 86.5,123.13 87,121.97 87.5,121.64 88,121.48 88.5,122.07 89,122.25 89.5,122.64 90,120.34 90.5,120.02 91,120.68 91.5,119.27 92,118.67 92.5,117.74 93,117.73 93.5,117.53 94,116.22 94.5,114.92 95,115.3 95.5,113.75 96,113.9 96.5,111.47 97,111.04 97.5,110.29 98,108.17 98.5,108.16 99,107.39 99.5,105.93 100,105.2 100.5,104.03 101,102.46 101.5,102.34 102,100.58 102.5,99.88 103,98.7 103.5,98.51 104,96.94 104.5,95.95 105,94.01 105.5,93.97 106,93.56 106.5,88.87 107,90.71 107.5,89.13 108,86.81 108.5,86.17 109,85.59 109.5,83.81 110,82.75 110.5,81.89 111,79.83 111.5,79.24 112,76.86 112.5,75.91 113,74.7 113.5,75.01 114,73.86 114.5,71.7 115,71.59 115.5,70.43 116,71.21 116.5,67.1 117,68.08 117.5,67.01 118,67.85 118.5,68.87 119,66.75 119.5,66.82 120,66.42 120.5,65.13 121,65.23 121.5,66.59 122,65.51 122.5,66.28 123,67.12 123.5,65.55 124,63.98 124.5,65.51 125,64.31 125.5,66.96 126,64.73 126.5,64.69 127,64.13 127.5,64.04 128,64.27 128.5,64.22 129,64.16 129.5,64.2 130,65.07 130.5,65.81 131,66.43 131.5,65.98 132,65.7 132.5,66.3 133,67.13 133.5,66.52 134,67.27 134.5,67.22 135,67.38 135.5,67.31 136,68.33 136.5,67.82 137,68.06 137.5,69.13 138,69.81 138.5,70.11 139,70.4 139.5,71.15 140,70.61 140.5,71.68 141,72.59 141.5,70.41 142,72.94 142.5,72.8 143,74.14 143.5,73.04 144,75.55 144.5,73.48 145,74.6 145.5,74.21 146,74.93 146.5,74.51 147,76.28 147.5,76.3 148,75.58 148.5,76.74 149,76.53 149.5,76.5 150,77.21 150.5,77.79 151,78.28 151.5,75.9 152,78.21 152.5,76.57 153,76.32 153.5,78.2 154,76.95 154.5,77.5 155,76.94 155.5,77.03 156,77.32 156.5,78.83 157,77.25 157.5,77.89 158,76.8 158.5,77.68 159,78.35 159.5,78.31 160,77.46 160.5,78.78 161,78.85 161.5,76.28 162,77.58 162.5,77.7 163,76.9 163.5,77.55 164,76.14 164.5,76.99 165,76.71 165.5,76.76 166,77.07 166.5,77.24 167,76.71 167.5,77.16 168,76.38 168.5,77.07 169,77.87 169.5,77.09 170,77.41 170.5,77.69 171,78.28 171.5,78.19 172,78.06 172.5,77.77 173,78.61 173.5,77.12 174,79.18 174.5,78.87 175,80 175.5,80.04 176,81.26 176.5,80.68 177,80.47 177.5,82.09 178,82.36 178.5,83.12 179,84.37 179.5,83.79 180,85.2 180.5,85.91 181,86.63 181.5,85.62 182,88.29 182.5,87.7 183,88.67 183.5,89.09 184,90.09 184.5,89.39 185,92.74 185.5,91.48 186,92.84 186.5,95.06 187,95.69 187.5,94.41 188,97.68 188.5,97.63 189,97.46 189.5,98.36 190,99.87 190.5,102.86 191,101.91 191.5,104 192,104.89 192.5,105.58 193,105.01 193.5,108.31 194,107.34 194.5,109.41 195,108.81 195.5,109.14 196,110.22 196.5,111.34 197,112.41 197.5,112.58 198,112.97 198.5,113.38 199,114.12 199.5,115.81 200,115.92 200.5,116.25 201,115.79 201.5,116.25 202,118.06 202.5,118.49 203,119.2 203.5,119.14 204,119.11 204.5,118.96 205,119.79 205.5,119.42 206,121.19 206.5,121.63 207,122.43 207.5,122.42 208,121.43 208.5,124.81 209,122.76 209.5,121.65 210,122.51 210.5,123.09 211,122.96 211.5,121.32 212,123.44 212.5,123.23 213,123.85 213.5,123.7 214,124.47 214.5,123.13 215,123.88 215.5,123.71 216,124.03 216.5,124.45 217,124.65 217.5,123.2 218,125.06 218.5,124.78 219,124.83 219.5,124.64 220,123.91 220.5,124.93 221,123.77 221.5,123.21 222,124.71 222.5,124.69 223,124.68 223.5,125.3 224,125.23 224.5,124.63 225,124.53 225.5,125.09 226,125.38 226.5,124.68 227,125.42 227.5,124.94 228,126.04 228.5,124.08 229,125.32 229.5,125.99 230,125.19 230.5,124 231,124.95 231.5,125.75 232,125.16 232.5,126.05 233,125.5 233.5,125.17 234,125.22 234.5,125.71 235,125.99 235.5,124.97 236,124.74 236.5,124.72 237,125.58 237.5,126.29 238,124.96 238.5,125.57 239,126.57 239.5,125.61 240,124.23 240.5,125.31 241,124.21 241.5,124.39 242,124.95 242.5,124.52 243,122.44 243.5,124.64 244,124.28 244.5,124.78 245,124.16 245.5,123.04 246,124.72 246.5,121.01 247,122.51 247.5,123.44 248,121.74 248.5,121.12 249,122.31 249.5,123.61 250,120.64 250.5,120.3 251,119.82 251.5,118.93 252,119.56 252.5,116.92 253,116.17 253.5,114.45 254,116.74 254.5,114.76 255,114.16 255.5,113.74 256,111.56 256.5,113.08 257,111.01 257.5,111.11 258,107.82 258.5,107.79 259,106.39 259.5,106.1 260,106.39 260.5,104.16 261,102.89 261.5,103.19 262,100.23 262.5,99.75 263,99.56 263.5,97.92 264,97.25 264.5,95.33 265,95.56 265.5,94.03 266,93.3 266.5,91.27 267,90.18 267.5,88.64 268,88.66 268.5,86.61 269,85.27 269.5,83.92 270,83.23 270.5,81.4 271,79.41 271.5,79.01 272,76.55 272.5,76.93 273,75.19 273.5,73.82 274,73.03 274.5,72.81 275,70.74 275.5,71.83 276,69.73 276.5,70.25 277,68.83 277.5,69.21 278,66.95 278.5,67.69 279,64.89 279.5,66.26 280,66.82 280.5,65.98 281,65.46 281.5,65.53 282,65 282.5,65.11 283,65.03 283.5,65.49 284,64.69 284.5,64.18 285,64.92 285.5,63.04 286,63.8 286.5,63.62 287,65.25 287.5,64.22 288,65.23 288.5,63.87 289,63.96 289.5,65.66 290,64.74 290.5,64.96 291,65.14 291.5,64.89 292,66.24 292.5,65.19 293,66.52 293.5,65.75 294,68.08 294.5,67.31 295,68.98 295.5,66.57 296,68.03 296.5,67.81 297,68.01 297.5,68.36 298,69.63 298.5,69.52 299,69.56 299.5,69.86 300,70.21 300.5,70.66 301,71.2 301.5,70.01 302,71.66 302.5,71.33 303,72.94 303.5,73.66 304,74.38 304.5,74.81 305,73.92 305.5,74.66 306,77.11 306.5,75.37 307,75.09 307.5,76.04 308,77.92 308.5,77.02 309,77.08 309.5,76.76 310,77.37 310.5,78.21 311,78 311.5,77.93 312,77.39 312.5,77.2 313,77.13 313.5,78.16 314,77.01 314.5,77.86 315,78.55 315.5,76.8 316,77.9 316.5,78.43 317,77.66 317.5,78.03 318,77.2 318.5,77.89" fill="none" stroke="#cc00cc" stroke-width="1.75" stroke-linejoin="round" stroke-opacity="1.0"/>
</g>
<path d="M395.6 5.08h1v1h-1zM395.6 9.66h1v1h-1zM395.6 14.24h1v1h-1zM395.6 18.82h1v1h-1zM395.6 23.4h1v1h-1zM395.6 27.98h1v1h-1zM395.6 32.56h1v1h-1zM395.6 37.14h1v1h-1zM395.6 41.72h1v1h-1zM395.6 46.3h1v1h-1zM395.6 50.88h1v1h-1zM395.6 55.46h1v1h-1zM395.6 60.04h1v1h-1zM395.6 64.62h1v1h-1zM395.6 69.2h1v1h-1zM395.6 73.78h1v1h-1zM395.6 78.36h1v1h-1zM395.6 82.94h1v1h-1zM395.6 87.52h1v1h-1zM395.6 92.1h1v1h-1zM395.6 96.68h1v1h-1zM395.6 101.26h1v1h-1zM395.6 105.84h1v1h-1zM395.6 110.42h1v1h-1zM395.6 115h1v1h-1zM395.6 119.58h1v1h-1zM395.6 124.16h1v1h-1zM395.6 128.74h1v1h-1zM395.6 133.32h1v1h-1zM395.6 137.9h1v1h-1zM395.6 142.48h1v1h-1zM395.6 147.06h1v1h-1zM395.6 151.64h1v1h-1zM395.6 156.22h1v1h-1zM395.6 160.8h1v1h-1zM395.6 165.38h1v1h-1zM395.6 169.96h1v1h-1zM395.6 174.54h1v1h-1zM395.6 179.12h1v1h-1zM427.4 5.08h1v1h-1zM427.4 9.66h1v1h-1zM427.4 14.24h1v1h-1zM427.4 18.82h1v1h-1zM427.4 23.4h1v1h-1zM427.4 27.98h1v1h-1zM427.4 32.56h1v1h-1zM427.4 37.14h1v1h-1zM427.4 41.72h1v1h-1zM427.4 46.3h1v1h-1zM427.4 50.88h1v1h-1zM427.4 55.46h1v1h-1zM427.4 60.04h1v1h-1zM427.4 64.62h1v1h-1zM427.4 69.2h1v1h-1zM427.4 73.78h1v1h-1zM427.4 78.36h1v1h-1zM427.4 82.94h1v1h-1zM427.4 87.52h1v1h-1zM427.4 92.1h1v1h-1zM427.4 96.68h1v1h-1zM427.4 101.26h1v1h-1zM427.4 105.84h1v1h-1zM427.4 110.42h1v1h-1zM427.4 115h1v1h-1zM427.4 119.58h1v1h-1zM427.4 124.16h1v1h-1zM427.4 128.74h1v1h-1zM427.4 133.32h1v1h-1zM427.4 137.9h1v1h-1zM427.4 142.48h1v1h-1zM427.4 147.06h1v1h-1zM427.4 151.64h1v1h-1zM427.4 156.22h1v1h-1zM427.4 160.8h1v1h-1zM427.4 165.38h1v1h-1zM427.4 169.96h1v1h-1zM427.4 174.54h1v1h-1zM427.4 179.12h1v1h-1zM459.2 5.08h1v1h-1zM459.2 9.66h1v1h-1zM459.2 14.24h1v1h-1zM459.2 18.82h1v1h-1zM459.2 23.4h1v1h-1zM459.2 27.98h1v1h-1zM459.2 32.56h1v1h-1zM459.2 37.14h1v1h-1zM459.2 41.72h1v1h-1zM459.2 46.3h1v1h-1zM459.2 50.88h1v1h-1zM459.2 55.46h1v1h-1zM459.2 60.04h1v1h-1zM459.2 64.62h1v1h-1zM459.2 69.2h1v1h-1zM459.2 73.78h1v1h-1zM459.2 78.36h1v1h-1zM459.2 82.94h1v1h-1zM459.2 87.52h1v1h-1zM459.2 92.1h1v1h-1zM459.2 96.68h1v1h-1zM459.2 101.26h1v1h-1zM459.2 105.84h1v1h-1zM459.2 110.42h1v1h-1zM459.2 115h1v1h-1zM459.2 119.58h1v1h-1zM459.2 124.16h1v1h-1zM459.2 128.74h1v1h-1zM459.2 133.32h1v1h-1zM459.2 137.9h1v1h-1zM459.2 142.48h1v1h-1zM459.2 147.06h1v1h-1zM459.2 151.64h1v1h-1zM459.2 156.22h1v1h-1zM459.2 160.8h1v1h-1zM459.2 165.38h1v1h-1zM459.2 169.96h1v1h-1zM459.2 174.54h1v1h-1zM459.2 179.12h1v1h-1zM491 5.08h1v1h-1zM491 9.66h1v1h-1zM491 14.24h1v1h-1zM491 18.82h1v1h-1zM491 23.4h1v1h-1zM491 27.98h1v1h-1zM491 32.56h1v1h-1zM491 37.14h1v1h-1zM491 41.72h1v1h-1zM491 46.3h1v1h-1zM491 50.88h1v1h-1zM491 55.46h1v1h-1zM491 60.04h1v1h-1zM491 64.62h1v1h-1zM491 69.2h1v1h-1zM491 73.78h1v1h-1zM491 78.36h1v1h-1zM491 82.94h1v1h-1zM491 87.52h1v1h-1zM491 92.1h1v1h-1zM491 96.68h1v1h-1zM491 101.26h1v1h-1zM491 105.84h1v1h-1zM491 110.42h1v1h-1zM491 115h1v1h-1zM491 119.58h1v1h-1zM491 124.16h1v1h-1zM491 128.74h1v1h-1zM491 133.32h1v1h-1zM491 137.9h1v1h-1zM491 142.48h1v1h-1zM491 147.06h1v1h-1zM491 151.64h1v1h-1zM491 156.22h1v1h-1zM491 160.8h1v1h-1zM491 165.38h1v1h-1zM491 169.96h1v1h-1zM491 174.54h1v1h-1zM491 179.12h1v1h-1zM554.6 5.08h1v1h-1zM554.6 9.66h1v1h-1zM554.6 14.24h1v1h-1zM554.6 18.82h1v1h-1zM554.6 23.4h1v1h-1zM554.6 27.98h1v1h-1zM554.6 32.56h1v1h-1zM554.6 37.14h1v1h-1zM554.6 41.72h1v1h-1zM554.6 46.3h1v1h-1zM554.6 50.88h1v1h-1zM554.6 55.46h1v1h-1zM554.6 60.04h1v1h-1zM554.6 64.62h1v1h-1zM554.6 69.2h1v1h-1zM554.6 73.78h1v1h-1zM554.6 78.36h1v1h-1zM554.6 82.94h1v1h-1zM554.6 87.52h1v1h-1zM554.6 92.1h1v1h-1zM554.6 96.68h1v1h-1zM554.6 101.26h1v1h-1zM554.6 105.84h1v1h-1zM554.6 110.42h1v1h-1zM554.6 115h1v1h-1zM554.6 119.58h1v1h-1zM554.6 124.16h1v1h-1zM554.6 128.74h1v1h-1zM554.6 133.32h1v1h-1zM554.6 137.9h1v1h-1zM554.6 142.48h1v1h-1zM554.6 147.06h1v1h-1zM554.6 151.64h1v1h-1zM554.6 156.22h1v1h-1zM554.6 160.8h1v1h-1zM554.6 165.38h1v1h-1zM554.6 169.96h1v1h-1zM554.6 174.54h1v1h-1zM554.6 179.12h1v1h-1zM586.4 5.08h1v1h-1zM586.4 9.66h1v1h-1zM586.4 14.24h1v1h-1zM586.4 18.82h1v1h-1zM586.4 23.4h1v1h-1zM586.4 27.98h1v1h-1zM586.4 32.56h1v1h-1zM586.4 37.14h1v1h-1zM586.4 41.72h1v1h-1zM586.4 46.3h1v1h-1zM586.4 50.88h1v1h-1zM586.4 55.46h1v1h-1zM586.4 60.04h1v1h-1zM586.4 64.62h1v1h-1zM586.4 69.2h1v1h-1zM586.4 73.78h1v1h-1zM586.4 78.36h1v1h-1zM586.4 82.94h1v1h-1zM586.4 87.52h1v1h-1zM586.4 92.1h1v1h-1zM586.4 96.68h1v1h-1zM586.4 101.26h1v1h-1zM586.4 105.84h1v1h-1zM586.4 110.42h1v1h-1zM586.4 115h1v1h-1zM586.4 119.58h1v1h-1zM586.4 124.16h1v1h-1zM586.4 128.74h1v1h-1zM586.4 133.32h1v1h-1zM586.4 137.9h1v1h-1zM586.4 142.48h1v1h-1zM586.4 147.06h1v1h-1zM586.4 151.64h1v1h-1zM586.4 156.22h1v1h-1zM586.4 160.8h1v1h-1zM586.4 165.38h1v1h-1zM586.4 169.96h1v1h-1zM586.4 174.54h1v1h-1zM586.4 179.12h1v1h-1zM618.2 5.08h1v1h-1zM618.2 9.66h1v1h-1zM618.2 14.24h1v1h-1zM618.2 18.82h1v1h-1zM618.2 23.4h1v1h-1zM618.2 27.98h1v1h-1zM618.2 32.56h1v1h-1zM618.2 37.14h1v1h-1zM618.2 41.72h1v1h-1zM618.2 46.3h1v1h-1zM618.2 50.88h1v1h-1zM618.2 55.46h1v1h-1zM618.2 60.04h1v1h-1zM618.2 64.62h1v1h-1zM618.2 69.2h1v1h-1zM618.2 73.78h1v1h-1zM618.2 78.36h1v1h-1zM618.2 82.94h1v1h-1zM618.2 87.52h1v1h-1zM618.2 92.1h1v1h-1zM618.2 96.68h1v1h-1zM618.2 101.26h1v1h-1zM618.2 105.84h1v1h-1zM618.2 110.42h1v1h-1zM618.2 115h1v1h-1zM618.2 119.58h1v1h-1zM618.2 124.16h1v1h-1zM618.2 128.74h1v1h-1zM618.2 133.32h1v1h-1zM618.2 137.9h1v1h-1zM618.2 142.48h1v1h-1zM618.2 147.06h1v1h-1zM618.2 151.64h1v1h-1zM618.2 156.22h1v1h-1zM618.2 160.8h1v1h-1zM618.2 165.38h1v1h-1zM618.2 169.96h1v1h-1zM618.2 174.54h1v1h-1zM618.2 179.12h1v1h-1zM650 5.08h1v1h-1zM650 9.66h1v1h-1zM650 14.24h1v1h-1zM650 18.82h1v1h-1zM650 23.4h1v1h-1zM650 27.98h1v1h-1zM650 32.56h1v1h-1zM650 37.14h1v1h-1zM650 41.72h1v1h-1zM650 46.3h1v1h-1zM650 50.88h1v1h-1zM650 55.46h1v1h-1zM650 60.04h1v1h-1zM650 64.62h1v1h-1zM650 69.2h1v1h-1zM650 73.78h1v1h-1zM650 78.36h1v1h-1zM650 82.94h1v1h-1zM650 87.52h1v1h-1zM650 92.1h1v1h-1zM650 96.68h1v1h-1zM650 101.26h1v1h-1zM650 105.84h1v1h-1zM650 110.42h1v1h-1zM650 115h1v1h-1zM650 119.58h1v1h-1zM650 124.16h1v1h-1zM650 128.74h1v1h-1zM650 133.32h1v1h-1zM650 137.9h1v1h-1zM650 142.48h1v1h-1zM650 147.06h1v1h-1zM650 151.64h1v1h-1zM650 156.22h1v1h-1zM650 160.8h1v1h-1zM650 165.38h1v1h-1zM650 169.96h1v1h-1zM650 174.54h1v1h-1zM650 179.12h1v1h-1zM370.16 23.4h1v1h-1zM376.52 23.4h1v1h-1zM382.88 23.4h1v1h-1zM389.24 23.4h1v1h-1zM395.6 23.4h1v1h-1zM401.96 23.4h1v1h-1zM408.32 23.4h1v1h-1zM414.68 23.4h1v1h-1zM421.04 23.4h1v1h-1zM427.4 23.4h1v1h-1zM433.76 23.4h1v1h-1zM440.12 23.4h1v1h-1zM446.48 23.4h1v1h-1zM452.84 23.4h1v1h-1zM459.2 23.4h1v1h-1zM465.56 23.4h1v1h-1zM471.92 23.4h1v1h-1zM478.28 23.4h1v1h-1zM484.64 23.4h1v1h-1zM491 23.4h1v1h-1zM497.36 23.4h1v1h-1zM503.72 23.4h1v1h-1zM510.08 23.4h1v1h-1zM516.44 23.4h1v1h-1zM522.8 23.4h1v1h-1zM529.16 23.4h1v1h-1zM535.52 23.4h1v1h-1zM541.88 23.4h1v1h-1zM548.24 23.4h1v1h-1zM554.6 23.4h1v1h-1zM560.96 23.4h1v1h-1zM567.32 23.4h1v1h-1zM573.68 23.4h1v1h-1zM580.04 23.4h1v1h-1zM586.4 23.4h1v1h-1zM592.76 23.4h1v1h-1zM599.12 23.4h1v1h-1zM605.48 23.4h1v1h-1zM611.84 23.4h1v1h-1zM618.2 23.4h1v1h-1zM624.56 23.4h1v1h-1zM630.92 23.4h1v1h-1zM637.28 23.4h1v1h-1zM643.64 23.4h1v1h-1zM650 23.4h1v1h-1zM656.36 23.4h1v1h-1zM662.72 23.4h1v1h-1zM669.08 23.4h1v1h-1zM675.44 23.4h1v1h-1zM370.16 46.3h1v1h-1zM376.52 46.3h1v1h-1zM382.88 46.3h1v1h-1zM389.24 46.3h1v1h-1zM395.6 46.3h1v1h-1zM401.96 46.3h1v1h-1zM408.32 46.3h1v1h-1zM414.68 46.3h1v1h-1zM421.04 46.3h1v1h-1zM427.4 46.3h1v1h-1zM433.76 46.3h1v1h-1zM440.12 46.3h1v1h-1zM446.48 46.3h1v1h-1zM452.84 46.3h1v1h-1zM459.2 46.3h1v1h-1zM465.56 46.3h1v1h-1zM471.92 46.3h1v1h-1zM478.28 46.3h1v1h-1zM484.64 46.3h1v1h-1zM491 46.3h1v1h-1zM497.36 46.3h1v1h-1zM503.72 46.3h1v1h-1zM510.08 46.3h1v1h-1zM516.44 46.3h1v1h-1zM522.8 46.3h1v1h-1zM529.16 46.3h1v1h-1zM535.52 46.3h1v1h-1zM541.88 46.3h1v1h-1zM548.24 46.3h1v1h-1zM554.6 46.3h1v1h-1zM560.96 46.3h1v1h-1zM567.32 46.3h1v1h-1zM573.68 46.3h1v1h-1zM580.04 46.3h1v1h-1zM586.4 46.3h1v1h-1zM592.76 46.3h1v1h-1zM599.12 46.3h1v1h-1zM605.48 46.3h1v1h-1zM611.84 46.3h1v1h-1zM618.2 46.3h1v1h-1zM624.56 46.3h1v1h-1zM630.92 46.3h1v1h-1zM637.28 46.3h1v1h-1zM643.64 46.3h1v1h-1zM650 46.3h1v1h-1zM656.36 46.3h1v1h-1zM662.72 46.3h1v1h-1zM669.08 46.3h1v1h-1zM675.44 46.3h1v1h-1zM370.16 69.2h1v1h-1zM376.52 69.2h1v1h-1zM382.88 69.2h1v1h-1zM389.24 69.2h1v1h-1zM395.6 69.2h1v1h-1zM401.96 69.2h1v1h-1zM408.32 69.2h1v1h-1zM414.68 69.2h1v1h-1zM421.04 69.2h1v1h-1zM427.4 69.2h1v1h-1zM433.76 69.2h1v1h-1zM440.12 69.2h1v1h-1zM446.48 69.2h1v1h-1zM452.84 69.2h1v1h-1zM459.2 69.2h1v1h-1zM465.56 69.2h1v1h-1zM471.92 69.2h1v1h-1zM478.28 69.2h1v1h-1zM484.64 69.2h1v1h-1zM491 69.2h1v1h-1zM497.36 69.2h1v1h-1zM503.72 69.2h1v1h-1zM510.08 69.2h1v1h-1zM516.44 69.2h1v1h-1zM522.8 69.2h1v1h-1zM529.16 69.2h1v1h-1zM535.52 69.2h1v1h-1zM541.88 69.2h1v1h-1zM548.24 69.2h1v1h-1zM554.6 69.2h1v1h-1zM560.96 69.2h1v1h-1zM567.32 69.2h1v1h-1zM573.68 69.2h1v1h-1zM580.04 69.2h1v1h-1zM586.4 69.2h1v1h-1zM592.76 69.2h1v1h-1zM599.12 69.2h1v1h-1zM605.48 69.2h1v1h-1zM611.84 69.2h1v1h-1zM618.2 69.2h1v1h-1zM624.56 69.2h1v1h-1zM630.92 69.2h1v1h-1zM637.28 69.2h1v1h-1zM643.64 69.2h1v1h-1zM650 69.2h1v1h-1zM656.36 69.2h1v1h-1zM662.72 69.2h1v1h-1zM669.08 69.2h1v1h-1zM675.44 69.2h1v1h-1zM370.16 115h1v1h-1zM376.52 115h1v1h-1zM382.88 115h1v1h-1zM389.24 115h1v1h-1zM395.6 115h1v1h-1zM401.96 115h1v1h-1zM408.32 115h1v1h-1zM414.68 115h1v1h-1zM421.04 115h1v1h-1zM427.4 115h1v1h-1zM433.76 115h1v1h-1zM440.12 115h1v1h-1zM446.48 115h1v1h-1zM452.84 115h1v1h-1zM459.2 115h1v1h-1zM465.56 115h1v1h-1zM471.92 115h1v1h-1zM478.28 115h1v1h-1zM484.64 115h1v1h-1zM491 115h1v1h-1zM497.36 115h1v1h-1zM503.72 115h1v1h-1zM510.08 115h1v1h-1zM516.44 115h1v1h-1zM522.8 115h1v1h-1zM529.16 115h1v1h-1zM535.52 115h1v1h-1zM541.88 115h1v1h-1zM548.24 115h1v1h-1zM554.6 115h1v1h-1zM560.96 115h1v1h-1zM567.32 115h1v1h-1zM573.68 115h1v1h-1zM580.04 115h1v1h-1zM586.4 115h1v1h-1zM592.76 115h1v1h-1zM599.12 115h1v1h-1zM605.48 115h1v1h-1zM611.84 115h1v1h-1zM618.2 115h1v1h-1zM624.56 115h1v1h-1zM630.92 115h1v1h-1zM637.28 115h1v1h-1zM643.64 115h1v1h-1zM650 115h1v1h-1zM656.36 115h1v1h-1zM662.72 115h1v1h-1zM669.08 115h1v1h-1zM675.44 115h1v1h-1zM370.16 137.9h1v1h-1zM376.52 137.9h1v1h-1zM382.88 137.9h1v1h-1zM389.24 137.9h1v1h-1zM395.6 137.9h1v1h-1zM401.96 137.9h1v1h-1zM408.32 137.9h1v1h-1zM414.68 137.9h1v1h-1zM421.04 137.9h1v1h-1zM427.4 137.9h1v1h-1zM433.76 137.9h1v1h-1zM440.12 137.9h1v1h-1zM446.48 137.9h1v1h-1zM452.84 137.9h1v1h-1zM459.2 137.9h1v1h-1zM465.56 137.9h1v1h-1zM471.92 137.9h1v1h-1zM478.28 137.9h1v1h-1zM484.64 137.9h1v1h-1zM491 137.9h1v1h-1zM497.36 137.9h1v1h-1zM503.72 137.9h1v1h-1zM510.08 137.9h1v1h-1zM516.44 137.9h1v1h-1zM522.8 137.9h1v1h-1zM529.16 137.9h1v1h-1zM535.52 137.9h1v1h-1zM541.88 137.9h1v1h-1zM548.24 137.9h1v1h-1zM554.6 137.9h1v1h-1zM560.96 137.9h1v1h-1zM567.32 137.9h1v1h-1zM573.68 137.9h1v1h-1zM580.04 137.9h1v1h-1zM586.4 137.9h1v1h-1zM592.76 137.9h1v1h-1zM599.12 137.9h1v1h-1zM605.48 137.9h1v1h-1zM611.84 137.9h1v1h-1zM618.2 137.9h1v1h-1zM624.56 137.9h1v1h-1zM630.92 137.9h1v1h-1zM637.28 137.9h1v1h-1zM643.64 137.9h1v1h-1zM650 137.9h1v1h-1zM656.36 137.9h1v1h-1zM662.72 137.9h1v1h-1zM669.08 137.9h1v1h-1zM675.44 137.9h1v1h-1zM370.16 160.8h1v1h-1zM376.52 160.8h1v1h-1zM382.88 160.8h1v1h-1zM389.24 160.8h1v1h-1zM395.6 160.8h1v1h-1zM401.96 160.8h1v1h-1zM408.32 160.8h1v1h-1zM414.68 160.8h1v1h-1zM421.04 160.8h1v1h-1zM427.4 160.8h1v1h-1zM433.76 160.8h1v1h-1zM440.12 160.8h1v1h-1zM446.48 160.8h1v1h-1zM452.84 160.8h1v1h-1zM459.2 160.8h1v1h-1zM465.56 160.8h1v1h-1zM471.92 160.8h1v1h-1zM478.28 160.8h1v1h-1zM484.64 160.8h1v1h-1zM491 160.8h1v1h-1zM497.36 160.8h1v1h-1zM503.72 160.8h1v1h-1zM510.08 160.8h1v1h-1zM516.44 160.8h1v1h-1zM522.8 160.8h1v1h-1zM529.16 160.8h1v1h-1zM535.52 160.8h1v1h-1zM541.88 160.8h1v1h-1zM548.24 160.8h1v1h-1zM554.6 160.8h1v1h-1zM560.96 160.8h1v1h-1zM567.32 160.8h1v1h-1zM573.68 160.8h1v1h-1zM580.04 160.8h1v1h-1zM586.4 160.8h1v1h-1zM592.76 160.8h1v1h-1zM599.12 160.8h1v1h-1zM605.48 160.8h1v1h-1zM611.84 160.8h1v1h-1zM618.2 160.8h1v1h-1zM624.56 160.8h1v1h-1zM630.92 160.8h1v1h-1zM637.28 160.8h1v1h-1zM643.64 160.8h1v1h-1zM650 160.8h1v1h-1zM656.36 160.8h1v1h-1zM662.72 160.8h1v1h-1zM669.08 160.8h1v1h-1zM675.44 160.8h1v1h-1z" fill="#8a8a8a"/>
<rect x="362.9" y="0.4" width="1.6" height="183.8" fill="#e6e6e6"/>
<rect x="362.9" y="0.4" width="319.4" height="1.3" fill="#dcdcdc"/>
<rect x="681.8" y="0.4" width="1.5" height="184.4" fill="#5c5c5c"/>
<rect x="362.9" y="183.4" width="320.4" height="2.4" fill="#4a4a4a"/>
<path d="M370.66 1v1.6M370.66 183.2v-1.6M377.02 1v1.6M377.02 183.2v-1.6M383.38 1v1.6M383.38 183.2v-1.6M389.74 1v1.6M389.74 183.2v-1.6M396.1 1v1.6M396.1 183.2v-1.6M402.46 1v1.6M402.46 183.2v-1.6M408.82 1v1.6M408.82 183.2v-1.6M415.18 1v1.6M415.18 183.2v-1.6M421.54 1v1.6M421.54 183.2v-1.6M427.9 1v1.6M427.9 183.2v-1.6M434.26 1v1.6M434.26 183.2v-1.6M440.62 1v1.6M440.62 183.2v-1.6M446.98 1v1.6M446.98 183.2v-1.6M453.34 1v1.6M453.34 183.2v-1.6M459.7 1v1.6M459.7 183.2v-1.6M466.06 1v1.6M466.06 183.2v-1.6M472.42 1v1.6M472.42 183.2v-1.6M478.78 1v1.6M478.78 183.2v-1.6M485.14 1v1.6M485.14 183.2v-1.6M491.5 1v1.6M491.5 183.2v-1.6M497.86 1v1.6M497.86 183.2v-1.6M504.22 1v1.6M504.22 183.2v-1.6M510.58 1v1.6M510.58 183.2v-1.6M516.94 1v1.6M516.94 183.2v-1.6M523.3 1v1.6M523.3 183.2v-1.6M529.66 1v1.6M529.66 183.2v-1.6M536.02 1v1.6M536.02 183.2v-1.6M542.38 1v1.6M542.38 183.2v-1.6M548.74 1v1.6M548.74 183.2v-1.6M555.1 1v1.6M555.1 183.2v-1.6M561.46 1v1.6M561.46 183.2v-1.6M567.82 1v1.6M567.82 183.2v-1.6M574.18 1v1.6M574.18 183.2v-1.6M580.54 1v1.6M580.54 183.2v-1.6M586.9 1v1.6M586.9 183.2v-1.6M593.26 1v1.6M593.26 183.2v-1.6M599.62 1v1.6M599.62 183.2v-1.6M605.98 1v1.6M605.98 183.2v-1.6M612.34 1v1.6M612.34 183.2v-1.6M618.7 1v1.6M618.7 183.2v-1.6M625.06 1v1.6M625.06 183.2v-1.6M631.42 1v1.6M631.42 183.2v-1.6M637.78 1v1.6M637.78 183.2v-1.6M644.14 1v1.6M644.14 183.2v-1.6M650.5 1v1.6M650.5 183.2v-1.6M656.86 1v1.6M656.86 183.2v-1.6M663.22 1v1.6M663.22 183.2v-1.6M669.58 1v1.6M669.58 183.2v-1.6M675.94 1v1.6M675.94 183.2v-1.6M364.3 5.58h1.6M681.5 5.58h-1.6M364.3 10.16h1.6M681.5 10.16h-1.6M364.3 14.74h1.6M681.5 14.74h-1.6M364.3 19.32h1.6M681.5 19.32h-1.6M364.3 23.9h1.6M681.5 23.9h-1.6M364.3 28.48h1.6M681.5 28.48h-1.6M364.3 33.06h1.6M681.5 33.06h-1.6M364.3 37.64h1.6M681.5 37.64h-1.6M364.3 42.22h1.6M681.5 42.22h-1.6M364.3 46.8h1.6M681.5 46.8h-1.6M364.3 51.38h1.6M681.5 51.38h-1.6M364.3 55.96h1.6M681.5 55.96h-1.6M364.3 60.54h1.6M681.5 60.54h-1.6M364.3 65.12h1.6M681.5 65.12h-1.6M364.3 69.7h1.6M681.5 69.7h-1.6M364.3 74.28h1.6M681.5 74.28h-1.6M364.3 78.86h1.6M681.5 78.86h-1.6M364.3 83.44h1.6M681.5 83.44h-1.6M364.3 88.02h1.6M681.5 88.02h-1.6M364.3 92.6h1.6M681.5 92.6h-1.6M364.3 97.18h1.6M681.5 97.18h-1.6M364.3 101.76h1.6M681.5 101.76h-1.6M364.3 106.34h1.6M681.5 106.34h-1.6M364.3 110.92h1.6M681.5 110.92h-1.6M364.3 115.5h1.6M681.5 115.5h-1.6M364.3 120.08h1.6M681.5 120.08h-1.6M364.3 124.66h1.6M681.5 124.66h-1.6M364.3 129.24h1.6M681.5 129.24h-1.6M364.3 133.82h1.6M681.5 133.82h-1.6M364.3 138.4h1.6M681.5 138.4h-1.6M364.3 142.98h1.6M681.5 142.98h-1.6M364.3 147.56h1.6M681.5 147.56h-1.6M364.3 152.14h1.6M681.5 152.14h-1.6M364.3 156.72h1.6M681.5 156.72h-1.6M364.3 161.3h1.6M681.5 161.3h-1.6M364.3 165.88h1.6M681.5 165.88h-1.6M364.3 170.46h1.6M681.5 170.46h-1.6M364.3 175.04h1.6M681.5 175.04h-1.6M364.3 179.62h1.6M681.5 179.62h-1.6" stroke="#777" stroke-width="1" fill="none"/>
<line x1="523.3" y1="1" x2="523.3" y2="183.2" stroke="#777" stroke-width="1"/>
<line x1="364.3" y1="92.6" x2="681.5" y2="92.6" stroke="#6a6a6a" stroke-width="1.5"/>
<path d="M370.66 91.1v3M377.02 91.1v3M383.38 91.1v3M389.74 91.1v3M396.1 91.1v3M402.46 91.1v3M408.82 91.1v3M415.18 91.1v3M421.54 91.1v3M427.9 91.1v3M434.26 91.1v3M440.62 91.1v3M446.98 91.1v3M453.34 91.1v3M459.7 91.1v3M466.06 91.1v3M472.42 91.1v3M478.78 91.1v3M485.14 91.1v3M491.5 91.1v3M497.86 91.1v3M504.22 91.1v3M510.58 91.1v3M516.94 91.1v3M523.3 91.1v3M529.66 91.1v3M536.02 91.1v3M542.38 91.1v3M548.74 91.1v3M555.1 91.1v3M561.46 91.1v3M567.82 91.1v3M574.18 91.1v3M580.54 91.1v3M586.9 91.1v3M593.26 91.1v3M599.62 91.1v3M605.98 91.1v3M612.34 91.1v3M618.7 91.1v3M625.06 91.1v3M631.42 91.1v3M637.78 91.1v3M644.14 91.1v3M650.5 91.1v3M656.86 91.1v3M663.22 91.1v3M669.58 91.1v3M675.94 91.1v3M521.8 5.58h3M521.8 10.16h3M521.8 14.74h3M521.8 19.32h3M521.8 23.9h3M521.8 28.48h3M521.8 33.06h3M521.8 37.64h3M521.8 42.22h3M521.8 46.8h3M521.8 51.38h3M521.8 55.96h3M521.8 60.54h3M521.8 65.12h3M521.8 69.7h3M521.8 74.28h3M521.8 78.86h3M521.8 83.44h3M521.8 88.02h3M521.8 92.6h3M521.8 97.18h3M521.8 101.76h3M521.8 106.34h3M521.8 110.92h3M521.8 115.5h3M521.8 120.08h3M521.8 124.66h3M521.8 129.24h3M521.8 133.82h3M521.8 138.4h3M521.8 142.98h3M521.8 147.56h3M521.8 152.14h3M521.8 156.72h3M521.8 161.3h3M521.8 165.88h3M521.8 170.46h3M521.8 175.04h3M521.8 179.62h3" stroke="#707070" stroke-width="1" fill="none"/>
<path d="M521.1 0.6h4.4l-2.2 2.4z" fill="#f7941d"/>
<g clip-path="url(#cpb)">
<polyline points="363.9,88.94 364.4,90.43 364.9,91.13 365.4,89.94 365.9,88.01 366.4,83.39 366.9,79.48 367.4,78.75 367.9,78.71 368.4,78.56 368.9,78.67 369.4,78.98 369.9,77.98 370.4,78.85 370.9,77.71 371.4,76.16 371.9,75.11 372.4,74.94 372.9,76.89 373.4,75.58 373.9,75.62 374.4,76.63 374.9,75.22 375.4,74.39 375.9,73.81 376.4,74.14 376.9,74.32 377.4,73.25 377.9,74.36 378.4,72.96 378.9,73.21 379.4,73.33 379.9,72.84 380.4,72.57 380.9,73.33 381.4,72.27 381.9,72.99 382.4,72.32 382.9,73.54 383.4,72.67 383.9,72.72 384.4,73.07 384.9,72.75 385.4,73.1 385.9,74.26 386.4,73.31 386.9,73.06 387.4,72.79 387.9,73.48 388.4,73.52 388.9,72.8 389.4,73.36 389.9,72.75 390.4,73.89 390.9,73.33 391.4,75.5 391.9,74.5 392.4,75.1 392.9,77.31 393.4,75.32 393.9,74.12 394.4,75.1 394.9,75.76 395.4,75.95 395.9,76.06 396.4,75.71 396.9,75.4 397.4,76.86 397.9,75.74 398.4,76.86 398.9,77.65 399.4,77.27 399.9,77.68 400.4,77.62 400.9,78.55 401.4,77.72 401.9,78.41 402.4,78.91 402.9,78.49 403.4,77.91 403.9,78.87 404.4,78.63 404.9,78.1 405.4,78.76 405.9,77.53 406.4,79.29 406.9,78.72 407.4,79.05 407.9,79.34 408.4,77.97 408.9,79.54 409.4,80.2 409.9,78.46 410.4,79.08 410.9,79.57 411.4,78.63 411.9,78.7 412.4,79.75 412.9,81.38 413.4,80.09 413.9,79 414.4,78.43 414.9,80.55 415.4,78.68 415.9,78.26 416.4,78.99 416.9,79.4 417.4,78.08 417.9,79.44 418.4,78.12 418.9,80.18 419.4,83.3 419.9,85.59 420.4,85.26 420.9,85.39 421.4,83.84 421.9,85.13 422.4,85.66 422.9,84.03 423.4,86.68 423.9,85.87 424.4,86.4 424.9,85.75 425.4,86.53 425.9,85.1 426.4,87.7 426.9,85.87 427.4,87.73 427.9,86.15 428.4,86.98 428.9,86.83 429.4,87.1 429.9,86.29 430.4,87.34 430.9,86.99 431.4,87.67 431.9,88.06 432.4,88.08 432.9,88.12 433.4,89.07 433.9,88.61 434.4,88.88 434.9,89.42 435.4,87.94 435.9,88.99 436.4,89.43 436.9,89.05 437.4,90.02 437.9,89.14 438.4,89.51 438.9,89.71 439.4,88.3 439.9,90.11 440.4,90.04 440.9,89.19 441.4,91.32 441.9,90.66 442.4,91.51 442.9,91.9 443.4,91.84 443.9,91.02 444.4,92.72 444.9,92.05 445.4,92.06 445.9,90.88 446.4,91.32 446.9,93.2 447.4,91.46 447.9,92.49 448.4,92.66 448.9,93.59 449.4,93.01 449.9,91.92 450.4,93.31 450.9,93.47 451.4,95.53 451.9,102.41 452.4,103.26 452.9,103.96 453.4,104.1 453.9,104.7 454.4,104.83 454.9,103.83 455.4,104.2 455.9,105.25 456.4,103.65 456.9,105.28 457.4,104.59 457.9,103.91 458.4,104.22 458.9,105.22 459.4,105.54 459.9,107.25 460.4,106.55 460.9,106.71 461.4,107.01 461.9,105.8 462.4,106.89 462.9,106.97 463.4,108.27 463.9,106.97 464.4,106.7 464.9,106.25 465.4,107.69 465.9,107.99 466.4,108.2 466.9,106.45 467.4,107.99 467.9,108.23 468.4,109.87 468.9,108.38 469.4,109.12 469.9,108.41 470.4,108.13 470.9,109.68 471.4,109.4 471.9,110.12 472.4,110.07 472.9,109.73 473.4,109.27 473.9,112.31 474.4,109.91 474.9,112.41 475.4,110.44 475.9,110.64 476.4,111.64 476.9,110.55 477.4,110.26 477.9,111.72 478.4,110.02 478.9,109.73 479.4,110.77 479.9,110.3 480.4,111.24 480.9,110.66 481.4,111.45 481.9,110.9 482.4,111.32 482.9,110.76 483.4,111.35 483.9,110.67 484.4,110.58 484.9,110.97 485.4,109.33 485.9,111.77 486.4,111.34 486.9,111.58 487.4,111 487.9,112.1 488.4,112.26 488.9,108.78 489.4,111.12 489.9,110.87 490.4,111.06 490.9,110.65 491.4,110.38 491.9,109.99 492.4,110.34 492.9,111.8 493.4,110.97 493.9,110.58 494.4,109.9 494.9,109.61 495.4,107.98 495.9,110.01 496.4,109.51 496.9,107.53 497.4,108.47 497.9,111.41 498.4,108.72 498.9,108.49 499.4,107.99 499.9,108.09 500.4,108.57 500.9,109.45 501.4,107.87 501.9,108.05 502.4,109.46 502.9,107.51 503.4,105.38 503.9,106.76 504.4,105.89 504.9,99.74 505.4,99.86 505.9,98.07 506.4,98.45 506.9,98.31 507.4,98.63 507.9,97.12 508.4,97.89 508.9,97.57 509.4,98.04 509.9,97.57 510.4,97.14 510.9,96.57 511.4,96.59 511.9,98.54 512.4,95.72 512.9,96.39 513.4,98.09 513.9,96.43 514.4,95.16 514.9,94.74 515.4,94.95 515.9,94.52 516.4,93.04 516.9,94.83 517.4,94.02 517.9,93.67 518.4,92.85 518.9,93.2 519.4,92.55 519.9,93.29 520.4,92.53 520.9,92.66 521.4,90.96 521.9,90.93 522.4,92.38 522.9,90.8 523.4,93.65 523.9,91.04 524.4,90.01 524.9,91.96 525.4,89.92 525.9,82.61 526.4,79.56 526.9,78.75 527.4,77.89 527.9,78.85 528.4,78.56 528.9,78.49 529.4,77.43 529.9,78.61 530.4,76.7 530.9,77.35 531.4,77.37 531.9,76.79 532.4,76.96 532.9,73.83 533.4,75.49 533.9,74.99 534.4,75.67 534.9,74.23 535.4,74.45 535.9,74.4 536.4,74.49 536.9,71.63 537.4,73.13 537.9,73.72 538.4,72.56 538.9,72.59 539.4,71.72 539.9,71.7 540.4,72.68 540.9,71.61 541.4,72.44 541.9,72.88 542.4,70.3 542.9,71.7 543.4,72.6 543.9,73.02 544.4,69.81 544.9,73.25 545.4,72.8 545.9,73.4 546.4,72.39 546.9,73.53 547.4,73.27 547.9,73.61 548.4,73.34 548.9,73.11 549.4,73.5 549.9,73.51 550.4,73.35 550.9,73.23 551.4,74.29 551.9,74.24 552.4,72.56 552.9,74.67 553.4,75.23 553.9,75.28 554.4,75.15 554.9,76.1 555.4,77.04 555.9,75.63 556.4,76.09 556.9,76.86 557.4,76.4 557.9,77.58 558.4,76.88 558.9,76.82 559.4,77.16 559.9,79.3 560.4,76.92 560.9,78.23 561.4,77.1 561.9,78.76 562.4,78.67 562.9,79.86 563.4,79.79 563.9,78.67 564.4,79.41 564.9,79.17 565.4,79.48 565.9,78.54 566.4,79.6 566.9,77 567.4,80.93 567.9,79.56 568.4,79.08 568.9,79.38 569.4,79.35 569.9,79.19 570.4,80.53 570.9,78.61 571.4,78.33 571.9,78.35 572.4,78.94 572.9,79.05 573.4,79.43 573.9,79.57 574.4,79.13 574.9,79.03 575.4,80.26 575.9,80.58 576.4,79.56 576.9,78.7 577.4,79.12 577.9,78.36 578.4,78.69 578.9,83.16 579.4,85.73 579.9,84.58 580.4,85.49 580.9,86 581.4,85.73 581.9,85.94 582.4,84.25 582.9,85.2 583.4,83.62 583.9,85.44 584.4,84.67 584.9,86.66 585.4,86.33 585.9,87.13 586.4,84.49 586.9,88.28 587.4,87.27 587.9,87.26 588.4,86.48 588.9,86.83 589.4,87.46 589.9,88.02 590.4,87.38 590.9,87.42 591.4,88.21 591.9,88.1 592.4,88.91 592.9,88.54 593.4,88.95 593.9,87.44 594.4,87.9 594.9,87.93 595.4,88.52 595.9,89.21 596.4,89 596.9,89.57 597.4,89.01 597.9,90.11 598.4,90.19 598.9,88.93 599.4,89.46 599.9,89.89 600.4,92.2 600.9,91.05 601.4,91.81 601.9,90.19 602.4,93.13 602.9,91.43 603.4,91.49 603.9,90.59 604.4,90.9 604.9,92.39 605.4,92.15 605.9,91.81 606.4,93.39 606.9,92.31 607.4,92.91 607.9,92.5 608.4,92.15 608.9,92.92 609.4,93.55 609.9,93.08 610.4,94.25 610.9,95.55 611.4,98.99 611.9,103.2 612.4,103.29 612.9,104.51 613.4,103.45 613.9,103.81 614.4,107.3 614.9,104.83 615.4,104.98 615.9,104.64 616.4,106.5 616.9,106.8 617.4,105.15 617.9,104.13 618.4,105.43 618.9,106.03 619.4,106.7 619.9,108.05 620.4,106.19 620.9,106.73 621.4,108.27 621.9,107.4 622.4,107.83 622.9,107.52 623.4,107.3 623.9,106.9 624.4,109.03 624.9,106.87 625.4,107.33 625.9,107.58 626.4,108.62 626.9,107.41 627.4,108.71 627.9,107.49 628.4,110.18 628.9,108.52 629.4,109.04 629.9,110.05 630.4,109.07 630.9,110.68 631.4,109.46 631.9,109.79 632.4,109.29 632.9,110.64 633.4,110.39 633.9,109.92 634.4,110.61 634.9,111.3 635.4,109.79 635.9,110.1 636.4,110.5 636.9,109.43 637.4,112.25 637.9,110.68 638.4,109.86 638.9,110.72 639.4,109.96 639.9,110.74 640.4,110.63 640.9,110.91 641.4,110.35 641.9,110.71 642.4,110.31 642.9,112.99 643.4,110.1 643.9,110.46 644.4,110.05 644.9,111.79 645.4,111.43 645.9,111.52 646.4,110.39 646.9,111.61 647.4,110.59 647.9,111.69 648.4,110.91 648.9,109.61 649.4,110.81 649.9,110.31 650.4,112.12 650.9,109.94 651.4,110.46 651.9,110.39 652.4,109.98 652.9,109.93 653.4,110.18 653.9,110.27 654.4,109.67 654.9,109.6 655.4,109.58 655.9,108.87 656.4,107.99 656.9,109.07 657.4,109.46 657.9,109.1 658.4,108.87 658.9,108.99 659.4,107.93 659.9,108.91 660.4,107.95 660.9,107.95 661.4,107.65 661.9,108.05 662.4,105.63 662.9,107.46 663.4,106.56 663.9,106.02 664.4,101.99 664.9,98.93 665.4,99.7 665.9,98.33 666.4,98.25 666.9,99.03 667.4,97.39 667.9,98.63 668.4,98.05 668.9,97.95 669.4,97.86 669.9,97.03 670.4,96.13 670.9,97.39 671.4,97.21 671.9,97.06 672.4,96.89 672.9,96.27 673.4,95.31 673.9,94.85 674.4,96.56 674.9,94.79 675.4,97.36 675.9,93.78 676.4,94.03 676.9,94.27 677.4,93.45 677.9,93.2 678.4,92.45 678.9,92.85 679.4,92.14 679.9,91.79 680.4,91.69 680.9,91.87 681.4,91.98" fill="none" stroke="#0404c8" stroke-width="1.75" stroke-linejoin="round" stroke-opacity="1.0"/>
<polyline points="363.9,114.59 364.4,114.74 364.9,115.2 365.4,114.79 365.9,115.72 366.4,116.87 366.9,115.68 367.4,114.97 367.9,116.73 368.4,116.79 368.9,117.1 369.4,118.12 369.9,117.29 370.4,117.71 370.9,117.11 371.4,117.56 371.9,117.98 372.4,117.04 372.9,117.86 373.4,118.24 373.9,119.37 374.4,119.52 374.9,117.96 375.4,121.83 375.9,118.57 376.4,119.47 376.9,117.08 377.4,118.97 377.9,118.8 378.4,119.68 378.9,119.4 379.4,119.58 379.9,119.6 380.4,119.54 380.9,119.98 381.4,119.59 381.9,119.51 382.4,119.25 382.9,119.14 383.4,119.38 383.9,119.9 384.4,120.29 384.9,119.69 385.4,120.87 385.9,120.48 386.4,119.83 386.9,120.01 387.4,119.81 387.9,118.81 388.4,120.24 388.9,119.87 389.4,117.38 389.9,119.05 390.4,119.24 390.9,119.31 391.4,119.34 391.9,117.66 392.4,119.28 392.9,118.65 393.4,118.7 393.9,117.48 394.4,118.6 394.9,118.06 395.4,117.83 395.9,117.97 396.4,117.81 396.9,116.67 397.4,116.45 397.9,115.92 398.4,111.53 398.9,107.96 399.4,106.45 399.9,107.08 400.4,107.28 400.9,106.17 401.4,106.76 401.9,105.54 402.4,105.92 402.9,104.74 403.4,104.66 403.9,105.54 404.4,104.36 404.9,104.93 405.4,104.01 405.9,103.39 406.4,104.36 406.9,102.37 407.4,102.72 407.9,104.01 408.4,102.41 408.9,102.17 409.4,101.53 409.9,100.37 410.4,101.06 410.9,100.09 411.4,99.8 411.9,99.11 412.4,98.3 412.9,99.28 413.4,97.67 413.9,95.57 414.4,95.4 414.9,93.94 415.4,95.26 415.9,95.94 416.4,93.46 416.9,93.51 417.4,92.08 417.9,92.34 418.4,93.96 418.9,90.51 419.4,88.76 419.9,85.68 420.4,83.48 420.9,83.91 421.4,81.13 421.9,79.2 422.4,78.18 422.9,77.38 423.4,78.01 423.9,76.27 424.4,75.44 424.9,75.51 425.4,75.18 425.9,74.88 426.4,73.22 426.9,74.49 427.4,73.73 427.9,72.94 428.4,72.41 428.9,71.47 429.4,71.84 429.9,71.4 430.4,71.44 430.9,71.47 431.4,71.2 431.9,70.14 432.4,69.61 432.9,68.66 433.4,67.66 433.9,68.39 434.4,67.51 434.9,67.38 435.4,66.98 435.9,67.24 436.4,66.56 436.9,67.91 437.4,66.88 437.9,65.91 438.4,66.21 438.9,66.6 439.4,64.98 439.9,65.6 440.4,65.04 440.9,65.25 441.4,64.83 441.9,65.13 442.4,65.23 442.9,65.3 443.4,64.15 443.9,65.45 444.4,65.21 444.9,65.02 445.4,65.55 445.9,65.26 446.4,66.01 446.9,65.9 447.4,67.07 447.9,66.85 448.4,67.63 448.9,67.65 449.4,68.5 449.9,67.59 450.4,67.89 450.9,68.88 451.4,69.37 451.9,68.69 452.4,69.39 452.9,69.12 453.4,67.76 453.9,68.21 454.4,72.62 454.9,70.07 455.4,68.3 455.9,70.16 456.4,68.39 456.9,69.46 457.4,69.87 457.9,70.75 458.4,69.34 458.9,70.51 459.4,70.68 459.9,70.68 460.4,71.31 460.9,70 461.4,70.53 461.9,71.31 462.4,69.33 462.9,71.74 463.4,71.55 463.9,72.07 464.4,71.82 464.9,72.29 465.4,71.97 465.9,72.36 466.4,71.72 466.9,70.87 467.4,71.78 467.9,71.69 468.4,71.28 468.9,71.99 469.4,71.59 469.9,72.01 470.4,70.79 470.9,70.51 471.4,70.66 471.9,71.04 472.4,76.6 472.9,79.08 473.4,78.89 473.9,78.82 474.4,79.54 474.9,79.56 475.4,79.5 475.9,78.78 476.4,79.2 476.9,78.36 477.4,79.7 477.9,78.8 478.4,79.5 478.9,80.25 479.4,79.78 479.9,80.13 480.4,79.81 480.9,80.16 481.4,79.74 481.9,78.49 482.4,80.56 482.9,82.21 483.4,80.56 483.9,81.04 484.4,81.6 484.9,80.14 485.4,82.02 485.9,81.96 486.4,82.86 486.9,83.14 487.4,82.85 487.9,83.48 488.4,82.79 488.9,82.8 489.4,83.59 489.9,84.12 490.4,84.13 490.9,83.96 491.4,85.27 491.9,86.21 492.4,85.47 492.9,85.64 493.4,86.52 493.9,86.77 494.4,87.37 494.9,88.41 495.4,87.41 495.9,88.69 496.4,89.41 496.9,91.65 497.4,89.47 497.9,89.45 498.4,90.61 498.9,90.16 499.4,90.67 499.9,90.65 500.4,92.63 500.9,91.51 501.4,91.61 501.9,92.18 502.4,93.27 502.9,93.21 503.4,92.77 503.9,93.5 504.4,99.39 504.9,101.13 505.4,102.93 505.9,103.1 506.4,104.13 506.9,104 507.4,103.41 507.9,105.76 508.4,105.19 508.9,105.34 509.4,106.53 509.9,106.32 510.4,106.87 510.9,106.47 511.4,106.96 511.9,107.44 512.4,107.14 512.9,108.22 513.4,106.39 513.9,109.28 514.4,108.37 514.9,109.36 515.4,109.08 515.9,109.7 516.4,109.95 516.9,110 517.4,108.65 517.9,109.56 518.4,111.51 518.9,111.04 519.4,111.35 519.9,112.54 520.4,111.73 520.9,113.42 521.4,113.39 521.9,114.19 522.4,113.76 522.9,114.22 523.4,114.68 523.9,113.97 524.4,114.6 524.9,115.96 525.4,115.21 525.9,115.29 526.4,116.22 526.9,117 527.4,116.4 527.9,116.47 528.4,116.78 528.9,117.2 529.4,116.26 529.9,117.49 530.4,117.67 530.9,118.18 531.4,119.38 531.9,118.27 532.4,119.17 532.9,118.22 533.4,118.3 533.9,119.39 534.4,118.69 534.9,118.43 535.4,118.56 535.9,118.97 536.4,118.33 536.9,119.71 537.4,119.42 537.9,120.03 538.4,118.83 538.9,119.25 539.4,119.14 539.9,119.83 540.4,119.8 540.9,120.04 541.4,120.06 541.9,119.12 542.4,119.9 542.9,119.83 543.4,119.81 543.9,120.12 544.4,117.73 544.9,119.51 545.4,120.93 545.9,119.46 546.4,119.29 546.9,120.44 547.4,120.4 547.9,120.84 548.4,119.36 548.9,118.55 549.4,120.1 549.9,119.47 550.4,118.96 550.9,119.72 551.4,119.25 551.9,118.21 552.4,119.04 552.9,117.92 553.4,118.92 553.9,117.74 554.4,117.37 554.9,117.08 555.4,118.24 555.9,117.25 556.4,116.27 556.9,116.52 557.4,115.28 557.9,113.33 558.4,108.1 558.9,108.69 559.4,106.78 559.9,105.39 560.4,105.99 560.9,106.06 561.4,105.91 561.9,106.3 562.4,105.81 562.9,105.29 563.4,106.41 563.9,105.31 564.4,107.12 564.9,104.37 565.4,103.58 565.9,104.3 566.4,103.5 566.9,103.47 567.4,101.68 567.9,103.38 568.4,102.05 568.9,102.02 569.4,100.53 569.9,100.69 570.4,100.24 570.9,100.27 571.4,99.6 571.9,97.56 572.4,99.97 572.9,97.66 573.4,96.84 573.9,96.54 574.4,96.14 574.9,97.09 575.4,93.99 575.9,94.49 576.4,93.42 576.9,93.23 577.4,91.92 577.9,91.98 578.4,90.61 578.9,90.07 579.4,85.53 579.9,83.97 580.4,83 580.9,80.66 581.4,80.36 581.9,78.47 582.4,78.78 582.9,78.88 583.4,76.4 583.9,76.31 584.4,72.34 584.9,75.65 585.4,76.08 585.9,73.87 586.4,74.08 586.9,74.2 587.4,72.58 587.9,72.69 588.4,71.75 588.9,71.5 589.4,71.37 589.9,71.43 590.4,70.67 590.9,70.13 591.4,69.66 591.9,69.96 592.4,69.27 592.9,67.43 593.4,65.86 593.9,67.83 594.4,67.06 594.9,68.32 595.4,66.38 595.9,67.68 596.4,66.23 596.9,65.65 597.4,65.85 597.9,66.45 598.4,67.02 598.9,64.73 599.4,66.31 599.9,65.24 600.4,64.07 600.9,63.98 601.4,64.42 601.9,64.71 602.4,64.83 602.9,64.24 603.4,64.89 603.9,65.79 604.4,65.85 604.9,63.96 605.4,65.33 605.9,66.88 606.4,66.74 606.9,66.11 607.4,67.49 607.9,67.04 608.4,66.21 608.9,67.95 609.4,68.27 609.9,68.95 610.4,69.67 610.9,68.66 611.4,68.67 611.9,68.72 612.4,69.14 612.9,69.36 613.4,68.46 613.9,69.37 614.4,70.72 614.9,68.5 615.4,70.36 615.9,69.89 616.4,71.26 616.9,70.56 617.4,70.22 617.9,70.13 618.4,70.95 618.9,71.8 619.4,70.6 619.9,70.54 620.4,69.93 620.9,71.72 621.4,70.87 621.9,71.18 622.4,71.12 622.9,71.33 623.4,72.33 623.9,71.55 624.4,72.11 624.9,71.63 625.4,71.81 625.9,72.34 626.4,72.27 626.9,71.19 627.4,71.75 627.9,71.1 628.4,71.88 628.9,69.32 629.4,70.69 629.9,71.51 630.4,70.5 630.9,70.52 631.4,70.62 631.9,75.04 632.4,78.6 632.9,79.22 633.4,80.22 633.9,79.35 634.4,79.46 634.9,79.1 635.4,79.1 635.9,80 636.4,78.86 636.9,78.98 637.4,80.3 637.9,79.18 638.4,79.05 638.9,80.14 639.4,80.56 639.9,81.11 640.4,81.48 640.9,79.13 641.4,80.38 641.9,82.44 642.4,80.91 642.9,80.35 643.4,80.97 643.9,81.25 644.4,81.36 644.9,80.97 645.4,81.8 645.9,81.43 646.4,81.71 646.9,82.32 647.4,83.19 647.9,81.92 648.4,81.17 648.9,84.36 649.4,83.97 649.9,83.88 650.4,84.61 650.9,85.65 651.4,85 651.9,85.02 652.4,86.17 652.9,85.95 653.4,84.61 653.9,87.33 654.4,86.81 654.9,87.52 655.4,88.83 655.9,88.56 656.4,91.55 656.9,88.18 657.4,88.63 657.9,89.3 658.4,89.93 658.9,89.2 659.4,90.67 659.9,90.55 660.4,90.9 660.9,90.55 661.4,91.8 661.9,92.75 662.4,92.63 662.9,92.74 663.4,95.06 663.9,97.32 664.4,101.64 664.9,102.26 665.4,103.32 665.9,103.97 666.4,104.2 666.9,104.03 667.4,105.51 667.9,105.11 668.4,104.31 668.9,104.33 669.4,105.22 669.9,105.51 670.4,105.56 670.9,106.26 671.4,107.28 671.9,108.08 672.4,107.8 672.9,108.14 673.4,108.86 673.9,108.54 674.4,109.43 674.9,109.42 675.4,109.31 675.9,109.14 676.4,110.25 676.9,109.15 677.4,110.82 677.9,110.67 678.4,111.62 678.9,111.58 679.4,111.63 679.9,111.2 680.4,112.93 680.9,112.61 681.4,113.97" fill="none" stroke="#00c2c2" stroke-width="1.75" stroke-linejoin="round" stroke-opacity="1.0"/>
<polyline points="363.9,65.2 364.4,65.67 364.9,67.22 365.4,66.19 365.9,71.42 366.4,72.77 366.9,73.43 367.4,74.49 367.9,74.46 368.4,74.76 368.9,73.71 369.4,75.16 369.9,74.58 370.4,74.96 370.9,75.98 371.4,76.23 371.9,76.84 372.4,76.43 372.9,75.2 373.4,76.89 373.9,77.15 374.4,77.87 374.9,77.77 375.4,76.8 375.9,78.81 376.4,77.7 376.9,79.54 377.4,77.52 377.9,80.65 378.4,81.38 378.9,81.4 379.4,82.34 379.9,82.21 380.4,82.22 380.9,83.39 381.4,83.65 381.9,85.56 382.4,85.82 382.9,85.11 383.4,86.94 383.9,85.52 384.4,86.82 384.9,88.95 385.4,89.35 385.9,90.17 386.4,92.55 386.9,93.67 387.4,92.64 387.9,91.47 388.4,94.03 388.9,95.17 389.4,95.45 389.9,94.92 390.4,96.33 390.9,96.58 391.4,99.17 391.9,100.45 392.4,100.35 392.9,101.74 393.4,103.01 393.9,105.22 394.4,104.54 394.9,105.49 395.4,105.58 395.9,107.87 396.4,107.51 396.9,108.67 397.4,110.33 397.9,112.19 398.4,116.97 398.9,119.28 399.4,120.05 399.9,121.73 400.4,121.47 400.9,123.41 401.4,122.7 401.9,122.47 402.4,125.25 402.9,125.4 403.4,121.96 403.9,124.31 404.4,124.22 404.9,124.18 405.4,123.36 405.9,126.05 406.4,123.36 406.9,125.52 407.4,123.41 407.9,125.6 408.4,126.33 408.9,126.14 409.4,127.13 409.9,127.19 410.4,126.56 410.9,126.9 411.4,127.46 411.9,127.43 412.4,128.02 412.9,126.49 413.4,128.36 413.9,125.56 414.4,127.93 414.9,127.56 415.4,128.86 415.9,128.1 416.4,128.35 416.9,127.25 417.4,128.18 417.9,128.48 418.4,126.92 418.9,129.05 419.4,128.64 419.9,129.38 420.4,128.83 420.9,128.87 421.4,129.03 421.9,128.19 422.4,127.96 422.9,129.34 423.4,128.35 423.9,129.03 424.4,129.76 424.9,129.15 425.4,130.21 425.9,128.62 426.4,129.84 426.9,130.18 427.4,131.11 427.9,130.8 428.4,129.66 428.9,129.63 429.4,132.42 429.9,129.53 430.4,129.92 430.9,130.78 431.4,130.04 431.9,129.68 432.4,129.85 432.9,130.83 433.4,129.31 433.9,130.35 434.4,130.39 434.9,130.68 435.4,129.26 435.9,129.46 436.4,132.04 436.9,130.1 437.4,129.9 437.9,129.31 438.4,131.06 438.9,129.12 439.4,130.68 439.9,130.19 440.4,127.38 440.9,130.34 441.4,128.93 441.9,129.56 442.4,129.04 442.9,128.4 443.4,128.99 443.9,126.98 444.4,127.31 444.9,126.93 445.4,125.77 445.9,125.59 446.4,126.21 446.9,126.05 447.4,126.29 447.9,125.75 448.4,125.41 448.9,125.21 449.4,124.2 449.9,122.09 450.4,121.35 450.9,121.77 451.4,114.92 451.9,112.1 452.4,112.22 452.9,112.13 453.4,110.02 453.9,110.3 454.4,110.21 454.9,110 455.4,108.74 455.9,106.69 456.4,107.7 456.9,107.87 457.4,106.09 457.9,106.46 458.4,106.52 458.9,102.36 459.4,102.55 459.9,101.83 460.4,100.47 460.9,98.93 461.4,97.55 461.9,96.39 462.4,94.97 462.9,94.41 463.4,91.07 463.9,93.57 464.4,91.65 464.9,90.48 465.4,89.58 465.9,88.82 466.4,87.09 466.9,87.12 467.4,85.97 467.9,85.3 468.4,83.88 468.9,82.91 469.4,81.91 469.9,80.49 470.4,80.66 470.9,75.67 471.4,71.93 471.9,69.44 472.4,67.24 472.9,65.95 473.4,64.87 473.9,65.32 474.4,63.54 474.9,63.17 475.4,62 475.9,61.81 476.4,61.57 476.9,58.56 477.4,59.39 477.9,58.49 478.4,59.29 478.9,57.07 479.4,56.44 479.9,55.82 480.4,54.38 480.9,55.42 481.4,55.28 481.9,53.51 482.4,54 482.9,53.2 483.4,53.68 483.9,52.42 484.4,52.74 484.9,53.01 485.4,52.43 485.9,52.1 486.4,51.84 486.9,52.29 487.4,51.79 487.9,51.2 488.4,52.61 488.9,52.12 489.4,51.86 489.9,51.3 490.4,54.84 490.9,53.15 491.4,52.89 491.9,53.33 492.4,53.6 492.9,53.47 493.4,51.99 493.9,54.43 494.4,55.5 494.9,55.06 495.4,55.03 495.9,56.39 496.4,56.87 496.9,57.28 497.4,57.95 497.9,59.77 498.4,58.49 498.9,60.32 499.4,59.93 499.9,60.71 500.4,61.26 500.9,61.43 501.4,61.69 501.9,61.7 502.4,62.39 502.9,63.74 503.4,63.09 503.9,64.99 504.4,64.52 504.9,64.05 505.4,65.51 505.9,63.98 506.4,65.74 506.9,66.65 507.4,65.83 507.9,64.8 508.4,66.12 508.9,65.95 509.4,66.49 509.9,66.73 510.4,67.22 510.9,66.18 511.4,65.96 511.9,66.63 512.4,68.09 512.9,67.12 513.4,67.3 513.9,66.43 514.4,68.25 514.9,66.38 515.4,66.48 515.9,66.8 516.4,66.89 516.9,66.38 517.4,66.79 517.9,67.49 518.4,67.45 518.9,66.2 519.4,66.43 519.9,67 520.4,67.19 520.9,66.04 521.4,68.2 521.9,66.25 522.4,66.18 522.9,65.82 523.4,66.7 523.9,65.43 524.4,65.88 524.9,66.02 525.4,72.86 525.9,74 526.4,72.76 526.9,74.46 527.4,73.32 527.9,73.13 528.4,74.65 528.9,73.97 529.4,74.81 529.9,75.4 530.4,76.56 530.9,76.09 531.4,76.51 531.9,76.14 532.4,76.48 532.9,76.22 533.4,77.06 533.9,77.41 534.4,77.8 534.9,77.7 535.4,78.34 535.9,78.54 536.4,79.26 536.9,79.16 537.4,79.58 537.9,79.86 538.4,80.43 538.9,81.13 539.4,81.26 539.9,82.99 540.4,83.43 540.9,83.65 541.4,84.46 541.9,84.05 542.4,85.03 542.9,85.82 543.4,86.92 543.9,87.95 544.4,88.73 544.9,88.26 545.4,88.93 545.9,91.14 546.4,91.21 546.9,92.39 547.4,92.07 547.9,93.8 548.4,94.47 548.9,94.39 549.4,96.7 549.9,97.86 550.4,98.42 550.9,99.99 551.4,97.97 551.9,100.28 552.4,101.84 552.9,102.68 553.4,104.1 553.9,104.14 554.4,105.36 554.9,105.47 555.4,106 555.9,107.28 556.4,107.95 556.9,107.15 557.4,112.33 557.9,116.95 558.4,118.66 558.9,119.71 559.4,120.83 559.9,121.11 560.4,122.34 560.9,123.71 561.4,121.99 561.9,122.55 562.4,125.13 562.9,124.69 563.4,124.16 563.9,123.45 564.4,123.96 564.9,124.78 565.4,124.85 565.9,125.25 566.4,126.46 566.9,125.07 567.4,125.3 567.9,125.98 568.4,126.21 568.9,126.48 569.4,127.96 569.9,126.68 570.4,127.4 570.9,127.08 571.4,127.33 571.9,126.35 572.4,126.93 572.9,127.3 573.4,127.97 573.9,127.4 574.4,127.34 574.9,127.56 575.4,128.96 575.9,127.37 576.4,128.37 576.9,128.37 577.4,129.18 577.9,128.88 578.4,128.42 578.9,129.12 579.4,129.44 579.9,128.64 580.4,128.02 580.9,128.34 581.4,127.47 581.9,129.52 582.4,129.25 582.9,129.84 583.4,129.43 583.9,130.54 584.4,129.4 584.9,128.91 585.4,131.93 585.9,130.25 586.4,129.08 586.9,130.13 587.4,130.84 587.9,130.14 588.4,131.05 588.9,129.34 589.4,130.47 589.9,129.31 590.4,129.27 590.9,129.42 591.4,130.74 591.9,130.34 592.4,130.91 592.9,129.71 593.4,129.25 593.9,128.45 594.4,129.75 594.9,129.29 595.4,130.48 595.9,130.6 596.4,129.62 596.9,130.08 597.4,130.26 597.9,129.44 598.4,129.47 598.9,130.02 599.4,130.7 599.9,129.27 600.4,130.14 600.9,129.86 601.4,129.43 601.9,128.94 602.4,128.27 602.9,128.72 603.4,127.93 603.9,126.27 604.4,127.39 604.9,126.42 605.4,126.43 605.9,126.34 606.4,126.18 606.9,124.65 607.4,125.3 607.9,124.64 608.4,125.45 608.9,122.68 609.4,124.21 609.9,123.22 610.4,122.11 610.9,117.23 611.4,113.98 611.9,110.17 612.4,111.29 612.9,111.13 613.4,110.62 613.9,109.83 614.4,109.6 614.9,108.81 615.4,105.72 615.9,106.45 616.4,107.14 616.9,106.84 617.4,105.87 617.9,105.69 618.4,104 618.9,102.62 619.4,103.4 619.9,100.34 620.4,99.01 620.9,98.57 621.4,96.78 621.9,95.64 622.4,94.31 622.9,92.88 623.4,92.66 623.9,94.79 624.4,91.99 624.9,89.66 625.4,89.07 625.9,88.79 626.4,86.4 626.9,85.8 627.4,84.39 627.9,85.12 628.4,82.88 628.9,81.87 629.4,80.7 629.9,78.64 630.4,77.94 630.9,73.51 631.4,71.25 631.9,66.85 632.4,67.01 632.9,65.48 633.4,64.13 633.9,64.08 634.4,64.25 634.9,63.31 635.4,61.62 635.9,63 636.4,60.92 636.9,59.04 637.4,58.24 637.9,57.6 638.4,57.21 638.9,56.34 639.4,55.72 639.9,56.07 640.4,52.67 640.9,54.61 641.4,53.73 641.9,53.52 642.4,53.95 642.9,51.13 643.4,53.2 643.9,50.44 644.4,53 644.9,52.19 645.4,52.68 645.9,51.2 646.4,52.43 646.9,51.99 647.4,51.21 647.9,50.2 648.4,52.21 648.9,51.76 649.4,52.15 649.9,51.92 650.4,52.97 650.9,51.39 651.4,52.67 651.9,52.35 652.4,53.09 652.9,54.24 653.4,54.21 653.9,55.52 654.4,55 654.9,55.33 655.4,56.02 655.9,55.83 656.4,56.68 656.9,57.64 657.4,58.73 657.9,58.2 658.4,58.78 658.9,58.91 659.4,59.49 659.9,60.67 660.4,61.16 660.9,61.76 661.4,61.87 661.9,65.08 662.4,61.9 662.9,65.38 663.4,64.03 663.9,63.88 664.4,64.66 664.9,64.63 665.4,64.85 665.9,65.42 666.4,65.21 666.9,65.77 667.4,66.34 667.9,65.61 668.4,66.8 668.9,67.27 669.4,67.71 669.9,66.79 670.4,69.75 670.9,66.19 671.4,66.53 671.9,67.35 672.4,66.7 672.9,66.79 673.4,66.72 673.9,67.08 674.4,66.86 674.9,66.65 675.4,67.1 675.9,66.78 676.4,67.02 676.9,67.13 677.4,67.2 677.9,66.71 678.4,66.53 678.9,65.33 679.4,66.02 679.9,66.79 680.4,66.42 680.9,66.92 681.4,66.39" fill="none" stroke="#cc00cc" stroke-width="1.75" stroke-linejoin="round" stroke-opacity="1.0"/>
<polyline points="363.9,85.58 364.4,84.26 364.9,85.35 365.4,86.88 365.9,84.52 366.4,84.91 366.9,84.29 367.4,84.79 367.9,83.46 368.4,83.89 368.9,83.03 369.4,83.82 369.9,84.31 370.4,84.27 370.9,84.12 371.4,83.07 371.9,84.55 372.4,84.5 372.9,85.3 373.4,84.44 373.9,84.71 374.4,86 374.9,85.04 375.4,86.41 375.9,86.29 376.4,85.09 376.9,86.55 377.4,86.91 377.9,86.81 378.4,86.89 378.9,88.37 379.4,86.7 379.9,88.85 380.4,89.17 380.9,90.06 381.4,90.04 381.9,91.7 382.4,92.1 382.9,92.19 383.4,92.88 383.9,93.92 384.4,94.95 384.9,94.92 385.4,94.98 385.9,96.59 386.4,97.53 386.9,97.68 387.4,99.34 387.9,99.17 388.4,100.18 388.9,101.97 389.4,102.6 389.9,101.87 390.4,103.66 390.9,104.68 391.4,105.13 391.9,106.75 392.4,106.84 392.9,107.58 393.4,108.55 393.9,111.19 394.4,110.65 394.9,112.62 395.4,113.5 395.9,113.05 396.4,116.64 396.9,116.96 397.4,116.85 397.9,117.53 398.4,119.19 398.9,121.41 399.4,119.72 399.9,120.72 400.4,121.34 400.9,121.07 401.4,119.27 401.9,119.06 402.4,120.88 402.9,122.17 403.4,121.63 403.9,121.24 404.4,121.72 404.9,121.94 405.4,122.74 405.9,121.8 406.4,123.1 406.9,121.11 407.4,121.97 407.9,120.95 408.4,121.57 408.9,121.26 409.4,121.29 409.9,120.26 410.4,120.51 410.9,119.25 411.4,119.23 411.9,120.74 412.4,118.83 412.9,118.28 413.4,118.81 413.9,117.8 414.4,120.65 414.9,116.98 415.4,116.77 415.9,115.62 416.4,115.77 416.9,114.5 417.4,115.35 417.9,112.79 418.4,112.83 418.9,112.38 419.4,110.72 419.9,110.44 420.4,110.65 420.9,108.57 421.4,109.06 421.9,106.67 422.4,106.94 422.9,106.4 423.4,106.55 423.9,105.67 424.4,105.7 424.9,105.18 425.4,104.02 425.9,102.85 426.4,103.31 426.9,102.04 427.4,101.82 427.9,101.59 428.4,102.02 428.9,102.34 429.4,101.29 429.9,100.14 430.4,100.74 430.9,100.76 431.4,98.12 431.9,99.82 432.4,99.23 432.9,99.15 433.4,99.46 433.9,99.44 434.4,98.9 434.9,98.29 435.4,98.67 435.9,99.3 436.4,99.53 436.9,99.24 437.4,98.71 437.9,99.21 438.4,98.2 438.9,100.3 439.4,100.38 439.9,100.5 440.4,101.01 440.9,99.9 441.4,100.89 441.9,99.91 442.4,102.56 442.9,101.1 443.4,100.11 443.9,102.94 444.4,101.45 444.9,102.65 445.4,101.3 445.9,101.69 446.4,102.31 446.9,103.15 447.4,102.27 447.9,100.91 448.4,101.07 448.9,102.32 449.4,102.02 449.9,99.71 450.4,102.46 450.9,101.78 451.4,101.42 451.9,103.05 452.4,99.33 452.9,100.44 453.4,100.62 453.9,99.73 454.4,99.79 454.9,98.91 455.4,100.61 455.9,96.36 456.4,98.84 456.9,97.42 457.4,96.25 457.9,95.82 458.4,95.36 458.9,94.27 459.4,93.46 459.9,91.14 460.4,90.66 460.9,88.3 461.4,88.73 461.9,86.71 462.4,87.32 462.9,85.96 463.4,84.82 463.9,83.76 464.4,83.37 464.9,82.07 465.4,80.75 465.9,82.51 466.4,79.35 466.9,77.82 467.4,77.61 467.9,75.1 468.4,77.65 468.9,75.86 469.4,75.27 469.9,73.47 470.4,72.53 470.9,71.46 471.4,71.49 471.9,69.77 472.4,68.56 472.9,67.66 473.4,66.94 473.9,65.59 474.4,65.45 474.9,64.79 475.4,64.87 475.9,64.08 476.4,63.46 476.9,63.62 477.4,62.02 477.9,59.41 478.4,60.32 478.9,60.79 479.4,60.62 479.9,60.71 480.4,59.12 480.9,58.94 481.4,59.33 481.9,57.75 482.4,58.27 482.9,58.8 483.4,58.08 483.9,58.67 484.4,60.16 484.9,59.39 485.4,57.78 485.9,59.23 486.4,58.79 486.9,59.11 487.4,58.36 487.9,60.17 488.4,61.02 488.9,60.75 489.4,60.92 489.9,61.64 490.4,62.66 490.9,63.11 491.4,60.17 491.9,62.56 492.4,64.23 492.9,64.36 493.4,64.88 493.9,66.35 494.4,66.67 494.9,66.81 495.4,68.12 495.9,68.06 496.4,68.91 496.9,69.88 497.4,71.8 497.9,71.92 498.4,72.31 498.9,73.13 499.4,73.54 499.9,74.35 500.4,76.49 500.9,76.27 501.4,77.65 501.9,78.31 502.4,78.39 502.9,79.36 503.4,80.93 503.9,82.22 504.4,81.81 504.9,82.28 505.4,83.27 505.9,85.44 506.4,83.31 506.9,85.16 507.4,82.54 507.9,84.91 508.4,84.29 508.9,86.43 509.4,84.94 509.9,87.48 510.4,87.77 510.9,87.5 511.4,87.49 511.9,88 512.4,88.28 512.9,87.83 513.4,88.71 513.9,86.48 514.4,88.5 514.9,88.48 515.4,88.61 515.9,88.01 516.4,86.58 516.9,88.77 517.4,86.66 517.9,88.26 518.4,88.9 518.9,88.19 519.4,87.8 519.9,87.95 520.4,87.14 520.9,86.75 521.4,87.04 521.9,88.04 522.4,86.73 522.9,85.71 523.4,86.07 523.9,85.73 524.4,86.32 524.9,85.39 525.4,84.82 525.9,84.77 526.4,83.96 526.9,84.33 527.4,83.21 527.9,83.38 528.4,84.77 528.9,82.76 529.4,84.73 529.9,83.22 530.4,84.6 530.9,84.4 531.4,84.14 531.9,86.74 532.4,84.97 532.9,84.35 533.4,84.27 533.9,83.78 534.4,85.03 534.9,87.91 535.4,85.13 535.9,86.3 536.4,85.06 536.9,87.44 537.4,87.87 537.9,88.05 538.4,88.67 538.9,88.36 539.4,89.34 539.9,89.92 540.4,89.6 540.9,89.75 541.4,91.3 541.9,91.96 542.4,92.13 542.9,92.82 543.4,93.74 543.9,94.19 544.4,95.14 544.9,94.79 545.4,96.81 545.9,96.58 546.4,98.36 546.9,99.24 547.4,98.93 547.9,100.16 548.4,101 548.9,101.29 549.4,101.84 549.9,103.53 550.4,104.64 550.9,104.5 551.4,105.3 551.9,106.65 552.4,107.93 552.9,108.04 553.4,109.46 553.9,111.4 554.4,111.67 554.9,112.79 555.4,115.26 555.9,116.14 556.4,117.54 556.9,117.58 557.4,118.32 557.9,118.81 558.4,118.66 558.9,118.65 559.4,120.08 559.9,119.95 560.4,120.97 560.9,121.37 561.4,120.17 561.9,120.43 562.4,121.52 562.9,122.37 563.4,122.64 563.9,121.53 564.4,122.08 564.9,122.92 565.4,121.72 565.9,121.53 566.4,122.73 566.9,122.78 567.4,120.95 567.9,122.29 568.4,120.93 568.9,120.72 569.4,121.04 569.9,119.12 570.4,120.62 570.9,120.01 571.4,118.74 571.9,119.43 572.4,118.98 572.9,117.46 573.4,118.19 573.9,116.83 574.4,116.67 574.9,116.6 575.4,115.86 575.9,115.5 576.4,114.63 576.9,114.26 577.4,114.37 577.9,112.12 578.4,112.74 578.9,112.55 579.4,110.66 579.9,110.09 580.4,109.61 580.9,109.31 581.4,107.1 581.9,107.63 582.4,107.19 582.9,106.61 583.4,106.73 583.9,105.02 584.4,105.14 584.9,104.54 585.4,105.74 585.9,103.14 586.4,102.15 586.9,103.04 587.4,101.92 587.9,101.46 588.4,100.83 588.9,101.34 589.4,100.57 589.9,100.34 590.4,100.04 590.9,100.55 591.4,100.11 591.9,98.75 592.4,97.05 592.9,100.4 593.4,98.63 593.9,97.67 594.4,98.71 594.9,98.52 595.4,95.8 595.9,99.52 596.4,99.66 596.9,99.35 597.4,99.35 597.9,98.92 598.4,99.71 598.9,99.66 599.4,100.07 599.9,99.73 600.4,99.91 600.9,99.58 601.4,98.82 601.9,99.69 602.4,101.59 602.9,101.25 603.4,100.47 603.9,101.74 604.4,101.58 604.9,101.75 605.4,99.38 605.9,100.7 606.4,97.94 606.9,101.53 607.4,101.37 607.9,101.16 608.4,102.68 608.9,101.85 609.4,100.77 609.9,101.52 610.4,101.79 610.9,100.64 611.4,101.21 611.9,100.61 612.4,99.66 612.9,100.37 613.4,100.18 613.9,98 614.4,99.28 614.9,98.25 615.4,97.86 615.9,96.57 616.4,96.34 616.9,97.23 617.4,95.97 617.9,94.77 618.4,94.05 618.9,92.53 619.4,91.83 619.9,90.31 620.4,89.85 620.9,88.09 621.4,87.9 621.9,87.32 622.4,85.83 622.9,85.25 623.4,82.66 623.9,83.13 624.4,81.79 624.9,82.3 625.4,80.89 625.9,79.83 626.4,79.85 626.9,77.86 627.4,77.18 627.9,76.21 628.4,74.03 628.9,74.72 629.4,73.48 629.9,73.55 630.4,71.33 630.9,71.3 631.4,69.1 631.9,68.5 632.4,67.88 632.9,66.58 633.4,66.68 633.9,67.28 634.4,64.52 634.9,64.63 635.4,63.24 635.9,63.46 636.4,63.21 636.9,62.59 637.4,62.49 637.9,59.03 638.4,60.18 638.9,60.26 639.4,59.32 639.9,59.86 640.4,60.8 640.9,58.95 641.4,60.25 641.9,58.3 642.4,58.24 642.9,59.11 643.4,58.57 643.9,57.62 644.4,61.03 644.9,61.05 645.4,59.6 645.9,60.09 646.4,59.36 646.9,61.16 647.4,60.81 647.9,60.16 648.4,62.1 648.9,61.26 649.4,63.37 649.9,62.51 650.4,62.01 650.9,62.45 651.4,63.32 651.9,62.15 652.4,64.35 652.9,65.81 653.4,65.05 653.9,66.37 654.4,66.68 654.9,68.14 655.4,67.73 655.9,68.47 656.4,69.74 656.9,71.74 657.4,70.93 657.9,71.36 658.4,72.6 658.9,72.49 659.4,75.33 659.9,75.59 660.4,76.54 660.9,74.48 661.4,78.05 661.9,78.45 662.4,80.36 662.9,80.48 663.4,81.19 663.9,81.01 664.4,82.02 664.9,81.44 665.4,82.49 665.9,85.25 666.4,83.46 666.9,84.02 667.4,85.62 667.9,84.21 668.4,85.57 668.9,86.81 669.4,86.57 669.9,86.72 670.4,86.95 670.9,87.9 671.4,87.44 671.9,88.22 672.4,87.98 672.9,88.07 673.4,88.68 673.9,87.81 674.4,87.55 674.9,88.06 675.4,88.21 675.9,87.97 676.4,87.14 676.9,88.43 677.4,87.05 677.9,88.64 678.4,88.32 678.9,88.48 679.4,87.32 679.9,86.84 680.4,87.85 680.9,86.16 681.4,86.67" fill="none" stroke="#10c010" stroke-width="1.75" stroke-linejoin="round" stroke-opacity="1.0"/>
</g>
<path d="M32.66 259.2h1v1h-1zM32.66 263.9h1v1h-1zM32.66 268.61h1v1h-1zM32.66 273.31h1v1h-1zM32.66 278.01h1v1h-1zM32.66 282.72h1v1h-1zM32.66 287.42h1v1h-1zM32.66 292.12h1v1h-1zM32.66 296.82h1v1h-1zM32.66 301.52h1v1h-1zM32.66 306.23h1v1h-1zM32.66 310.93h1v1h-1zM32.66 315.63h1v1h-1zM32.66 320.34h1v1h-1zM32.66 325.04h1v1h-1zM32.66 329.74h1v1h-1zM32.66 334.44h1v1h-1zM32.66 339.14h1v1h-1zM32.66 343.85h1v1h-1zM32.66 348.55h1v1h-1zM32.66 353.25h1v1h-1zM32.66 357.96h1v1h-1zM32.66 362.66h1v1h-1zM32.66 367.36h1v1h-1zM32.66 372.06h1v1h-1zM32.66 376.76h1v1h-1zM32.66 381.47h1v1h-1zM32.66 386.17h1v1h-1zM32.66 390.87h1v1h-1zM32.66 395.58h1v1h-1zM32.66 400.28h1v1h-1zM32.66 404.98h1v1h-1zM32.66 409.68h1v1h-1zM32.66 414.38h1v1h-1zM32.66 419.09h1v1h-1zM32.66 423.79h1v1h-1zM32.66 428.49h1v1h-1zM32.66 433.2h1v1h-1zM32.66 437.9h1v1h-1zM64.42 259.2h1v1h-1zM64.42 263.9h1v1h-1zM64.42 268.61h1v1h-1zM64.42 273.31h1v1h-1zM64.42 278.01h1v1h-1zM64.42 282.72h1v1h-1zM64.42 287.42h1v1h-1zM64.42 292.12h1v1h-1zM64.42 296.82h1v1h-1zM64.42 301.52h1v1h-1zM64.42 306.23h1v1h-1zM64.42 310.93h1v1h-1zM64.42 315.63h1v1h-1zM64.42 320.34h1v1h-1zM64.42 325.04h1v1h-1zM64.42 329.74h1v1h-1zM64.42 334.44h1v1h-1zM64.42 339.14h1v1h-1zM64.42 343.85h1v1h-1zM64.42 348.55h1v1h-1zM64.42 353.25h1v1h-1zM64.42 357.96h1v1h-1zM64.42 362.66h1v1h-1zM64.42 367.36h1v1h-1zM64.42 372.06h1v1h-1zM64.42 376.76h1v1h-1zM64.42 381.47h1v1h-1zM64.42 386.17h1v1h-1zM64.42 390.87h1v1h-1zM64.42 395.58h1v1h-1zM64.42 400.28h1v1h-1zM64.42 404.98h1v1h-1zM64.42 409.68h1v1h-1zM64.42 414.38h1v1h-1zM64.42 419.09h1v1h-1zM64.42 423.79h1v1h-1zM64.42 428.49h1v1h-1zM64.42 433.2h1v1h-1zM64.42 437.9h1v1h-1zM96.18 259.2h1v1h-1zM96.18 263.9h1v1h-1zM96.18 268.61h1v1h-1zM96.18 273.31h1v1h-1zM96.18 278.01h1v1h-1zM96.18 282.72h1v1h-1zM96.18 287.42h1v1h-1zM96.18 292.12h1v1h-1zM96.18 296.82h1v1h-1zM96.18 301.52h1v1h-1zM96.18 306.23h1v1h-1zM96.18 310.93h1v1h-1zM96.18 315.63h1v1h-1zM96.18 320.34h1v1h-1zM96.18 325.04h1v1h-1zM96.18 329.74h1v1h-1zM96.18 334.44h1v1h-1zM96.18 339.14h1v1h-1zM96.18 343.85h1v1h-1zM96.18 348.55h1v1h-1zM96.18 353.25h1v1h-1zM96.18 357.96h1v1h-1zM96.18 362.66h1v1h-1zM96.18 367.36h1v1h-1zM96.18 372.06h1v1h-1zM96.18 376.76h1v1h-1zM96.18 381.47h1v1h-1zM96.18 386.17h1v1h-1zM96.18 390.87h1v1h-1zM96.18 395.58h1v1h-1zM96.18 400.28h1v1h-1zM96.18 404.98h1v1h-1zM96.18 409.68h1v1h-1zM96.18 414.38h1v1h-1zM96.18 419.09h1v1h-1zM96.18 423.79h1v1h-1zM96.18 428.49h1v1h-1zM96.18 433.2h1v1h-1zM96.18 437.9h1v1h-1zM127.94 259.2h1v1h-1zM127.94 263.9h1v1h-1zM127.94 268.61h1v1h-1zM127.94 273.31h1v1h-1zM127.94 278.01h1v1h-1zM127.94 282.72h1v1h-1zM127.94 287.42h1v1h-1zM127.94 292.12h1v1h-1zM127.94 296.82h1v1h-1zM127.94 301.52h1v1h-1zM127.94 306.23h1v1h-1zM127.94 310.93h1v1h-1zM127.94 315.63h1v1h-1zM127.94 320.34h1v1h-1zM127.94 325.04h1v1h-1zM127.94 329.74h1v1h-1zM127.94 334.44h1v1h-1zM127.94 339.14h1v1h-1zM127.94 343.85h1v1h-1zM127.94 348.55h1v1h-1zM127.94 353.25h1v1h-1zM127.94 357.96h1v1h-1zM127.94 362.66h1v1h-1zM127.94 367.36h1v1h-1zM127.94 372.06h1v1h-1zM127.94 376.76h1v1h-1zM127.94 381.47h1v1h-1zM127.94 386.17h1v1h-1zM127.94 390.87h1v1h-1zM127.94 395.58h1v1h-1zM127.94 400.28h1v1h-1zM127.94 404.98h1v1h-1zM127.94 409.68h1v1h-1zM127.94 414.38h1v1h-1zM127.94 419.09h1v1h-1zM127.94 423.79h1v1h-1zM127.94 428.49h1v1h-1zM127.94 433.2h1v1h-1zM127.94 437.9h1v1h-1zM191.46 259.2h1v1h-1zM191.46 263.9h1v1h-1zM191.46 268.61h1v1h-1zM191.46 273.31h1v1h-1zM191.46 278.01h1v1h-1zM191.46 282.72h1v1h-1zM191.46 287.42h1v1h-1zM191.46 292.12h1v1h-1zM191.46 296.82h1v1h-1zM191.46 301.52h1v1h-1zM191.46 306.23h1v1h-1zM191.46 310.93h1v1h-1zM191.46 315.63h1v1h-1zM191.46 320.34h1v1h-1zM191.46 325.04h1v1h-1zM191.46 329.74h1v1h-1zM191.46 334.44h1v1h-1zM191.46 339.14h1v1h-1zM191.46 343.85h1v1h-1zM191.46 348.55h1v1h-1zM191.46 353.25h1v1h-1zM191.46 357.96h1v1h-1zM191.46 362.66h1v1h-1zM191.46 367.36h1v1h-1zM191.46 372.06h1v1h-1zM191.46 376.76h1v1h-1zM191.46 381.47h1v1h-1zM191.46 386.17h1v1h-1zM191.46 390.87h1v1h-1zM191.46 395.58h1v1h-1zM191.46 400.28h1v1h-1zM191.46 404.98h1v1h-1zM191.46 409.68h1v1h-1zM191.46 414.38h1v1h-1zM191.46 419.09h1v1h-1zM191.46 423.79h1v1h-1zM191.46 428.49h1v1h-1zM191.46 433.2h1v1h-1zM191.46 437.9h1v1h-1zM223.22 259.2h1v1h-1zM223.22 263.9h1v1h-1zM223.22 268.61h1v1h-1zM223.22 273.31h1v1h-1zM223.22 278.01h1v1h-1zM223.22 282.72h1v1h-1zM223.22 287.42h1v1h-1zM223.22 292.12h1v1h-1zM223.22 296.82h1v1h-1zM223.22 301.52h1v1h-1zM223.22 306.23h1v1h-1zM223.22 310.93h1v1h-1zM223.22 315.63h1v1h-1zM223.22 320.34h1v1h-1zM223.22 325.04h1v1h-1zM223.22 329.74h1v1h-1zM223.22 334.44h1v1h-1zM223.22 339.14h1v1h-1zM223.22 343.85h1v1h-1zM223.22 348.55h1v1h-1zM223.22 353.25h1v1h-1zM223.22 357.96h1v1h-1zM223.22 362.66h1v1h-1zM223.22 367.36h1v1h-1zM223.22 372.06h1v1h-1zM223.22 376.76h1v1h-1zM223.22 381.47h1v1h-1zM223.22 386.17h1v1h-1zM223.22 390.87h1v1h-1zM223.22 395.58h1v1h-1zM223.22 400.28h1v1h-1zM223.22 404.98h1v1h-1zM223.22 409.68h1v1h-1zM223.22 414.38h1v1h-1zM223.22 419.09h1v1h-1zM223.22 423.79h1v1h-1zM223.22 428.49h1v1h-1zM223.22 433.2h1v1h-1zM223.22 437.9h1v1h-1zM254.98 259.2h1v1h-1zM254.98 263.9h1v1h-1zM254.98 268.61h1v1h-1zM254.98 273.31h1v1h-1zM254.98 278.01h1v1h-1zM254.98 282.72h1v1h-1zM254.98 287.42h1v1h-1zM254.98 292.12h1v1h-1zM254.98 296.82h1v1h-1zM254.98 301.52h1v1h-1zM254.98 306.23h1v1h-1zM254.98 310.93h1v1h-1zM254.98 315.63h1v1h-1zM254.98 320.34h1v1h-1zM254.98 325.04h1v1h-1zM254.98 329.74h1v1h-1zM254.98 334.44h1v1h-1zM254.98 339.14h1v1h-1zM254.98 343.85h1v1h-1zM254.98 348.55h1v1h-1zM254.98 353.25h1v1h-1zM254.98 357.96h1v1h-1zM254.98 362.66h1v1h-1zM254.98 367.36h1v1h-1zM254.98 372.06h1v1h-1zM254.98 376.76h1v1h-1zM254.98 381.47h1v1h-1zM254.98 386.17h1v1h-1zM254.98 390.87h1v1h-1zM254.98 395.58h1v1h-1zM254.98 400.28h1v1h-1zM254.98 404.98h1v1h-1zM254.98 409.68h1v1h-1zM254.98 414.38h1v1h-1zM254.98 419.09h1v1h-1zM254.98 423.79h1v1h-1zM254.98 428.49h1v1h-1zM254.98 433.2h1v1h-1zM254.98 437.9h1v1h-1zM286.74 259.2h1v1h-1zM286.74 263.9h1v1h-1zM286.74 268.61h1v1h-1zM286.74 273.31h1v1h-1zM286.74 278.01h1v1h-1zM286.74 282.72h1v1h-1zM286.74 287.42h1v1h-1zM286.74 292.12h1v1h-1zM286.74 296.82h1v1h-1zM286.74 301.52h1v1h-1zM286.74 306.23h1v1h-1zM286.74 310.93h1v1h-1zM286.74 315.63h1v1h-1zM286.74 320.34h1v1h-1zM286.74 325.04h1v1h-1zM286.74 329.74h1v1h-1zM286.74 334.44h1v1h-1zM286.74 339.14h1v1h-1zM286.74 343.85h1v1h-1zM286.74 348.55h1v1h-1zM286.74 353.25h1v1h-1zM286.74 357.96h1v1h-1zM286.74 362.66h1v1h-1zM286.74 367.36h1v1h-1zM286.74 372.06h1v1h-1zM286.74 376.76h1v1h-1zM286.74 381.47h1v1h-1zM286.74 386.17h1v1h-1zM286.74 390.87h1v1h-1zM286.74 395.58h1v1h-1zM286.74 400.28h1v1h-1zM286.74 404.98h1v1h-1zM286.74 409.68h1v1h-1zM286.74 414.38h1v1h-1zM286.74 419.09h1v1h-1zM286.74 423.79h1v1h-1zM286.74 428.49h1v1h-1zM286.74 433.2h1v1h-1zM286.74 437.9h1v1h-1zM7.25 278.01h1v1h-1zM13.6 278.01h1v1h-1zM19.96 278.01h1v1h-1zM26.31 278.01h1v1h-1zM32.66 278.01h1v1h-1zM39.01 278.01h1v1h-1zM45.36 278.01h1v1h-1zM51.72 278.01h1v1h-1zM58.07 278.01h1v1h-1zM64.42 278.01h1v1h-1zM70.77 278.01h1v1h-1zM77.12 278.01h1v1h-1zM83.48 278.01h1v1h-1zM89.83 278.01h1v1h-1zM96.18 278.01h1v1h-1zM102.53 278.01h1v1h-1zM108.88 278.01h1v1h-1zM115.24 278.01h1v1h-1zM121.59 278.01h1v1h-1zM127.94 278.01h1v1h-1zM134.29 278.01h1v1h-1zM140.64 278.01h1v1h-1zM147 278.01h1v1h-1zM153.35 278.01h1v1h-1zM159.7 278.01h1v1h-1zM166.05 278.01h1v1h-1zM172.4 278.01h1v1h-1zM178.76 278.01h1v1h-1zM185.11 278.01h1v1h-1zM191.46 278.01h1v1h-1zM197.81 278.01h1v1h-1zM204.16 278.01h1v1h-1zM210.52 278.01h1v1h-1zM216.87 278.01h1v1h-1zM223.22 278.01h1v1h-1zM229.57 278.01h1v1h-1zM235.92 278.01h1v1h-1zM242.28 278.01h1v1h-1zM248.63 278.01h1v1h-1zM254.98 278.01h1v1h-1zM261.33 278.01h1v1h-1zM267.68 278.01h1v1h-1zM274.04 278.01h1v1h-1zM280.39 278.01h1v1h-1zM286.74 278.01h1v1h-1zM293.09 278.01h1v1h-1zM299.44 278.01h1v1h-1zM305.8 278.01h1v1h-1zM312.15 278.01h1v1h-1zM7.25 301.52h1v1h-1zM13.6 301.52h1v1h-1zM19.96 301.52h1v1h-1zM26.31 301.52h1v1h-1zM32.66 301.52h1v1h-1zM39.01 301.52h1v1h-1zM45.36 301.52h1v1h-1zM51.72 301.52h1v1h-1zM58.07 301.52h1v1h-1zM64.42 301.52h1v1h-1zM70.77 301.52h1v1h-1zM77.12 301.52h1v1h-1zM83.48 301.52h1v1h-1zM89.83 301.52h1v1h-1zM96.18 301.52h1v1h-1zM102.53 301.52h1v1h-1zM108.88 301.52h1v1h-1zM115.24 301.52h1v1h-1zM121.59 301.52h1v1h-1zM127.94 301.52h1v1h-1zM134.29 301.52h1v1h-1zM140.64 301.52h1v1h-1zM147 301.52h1v1h-1zM153.35 301.52h1v1h-1zM159.7 301.52h1v1h-1zM166.05 301.52h1v1h-1zM172.4 301.52h1v1h-1zM178.76 301.52h1v1h-1zM185.11 301.52h1v1h-1zM191.46 301.52h1v1h-1zM197.81 301.52h1v1h-1zM204.16 301.52h1v1h-1zM210.52 301.52h1v1h-1zM216.87 301.52h1v1h-1zM223.22 301.52h1v1h-1zM229.57 301.52h1v1h-1zM235.92 301.52h1v1h-1zM242.28 301.52h1v1h-1zM248.63 301.52h1v1h-1zM254.98 301.52h1v1h-1zM261.33 301.52h1v1h-1zM267.68 301.52h1v1h-1zM274.04 301.52h1v1h-1zM280.39 301.52h1v1h-1zM286.74 301.52h1v1h-1zM293.09 301.52h1v1h-1zM299.44 301.52h1v1h-1zM305.8 301.52h1v1h-1zM312.15 301.52h1v1h-1zM7.25 325.04h1v1h-1zM13.6 325.04h1v1h-1zM19.96 325.04h1v1h-1zM26.31 325.04h1v1h-1zM32.66 325.04h1v1h-1zM39.01 325.04h1v1h-1zM45.36 325.04h1v1h-1zM51.72 325.04h1v1h-1zM58.07 325.04h1v1h-1zM64.42 325.04h1v1h-1zM70.77 325.04h1v1h-1zM77.12 325.04h1v1h-1zM83.48 325.04h1v1h-1zM89.83 325.04h1v1h-1zM96.18 325.04h1v1h-1zM102.53 325.04h1v1h-1zM108.88 325.04h1v1h-1zM115.24 325.04h1v1h-1zM121.59 325.04h1v1h-1zM127.94 325.04h1v1h-1zM134.29 325.04h1v1h-1zM140.64 325.04h1v1h-1zM147 325.04h1v1h-1zM153.35 325.04h1v1h-1zM159.7 325.04h1v1h-1zM166.05 325.04h1v1h-1zM172.4 325.04h1v1h-1zM178.76 325.04h1v1h-1zM185.11 325.04h1v1h-1zM191.46 325.04h1v1h-1zM197.81 325.04h1v1h-1zM204.16 325.04h1v1h-1zM210.52 325.04h1v1h-1zM216.87 325.04h1v1h-1zM223.22 325.04h1v1h-1zM229.57 325.04h1v1h-1zM235.92 325.04h1v1h-1zM242.28 325.04h1v1h-1zM248.63 325.04h1v1h-1zM254.98 325.04h1v1h-1zM261.33 325.04h1v1h-1zM267.68 325.04h1v1h-1zM274.04 325.04h1v1h-1zM280.39 325.04h1v1h-1zM286.74 325.04h1v1h-1zM293.09 325.04h1v1h-1zM299.44 325.04h1v1h-1zM305.8 325.04h1v1h-1zM312.15 325.04h1v1h-1zM7.25 372.06h1v1h-1zM13.6 372.06h1v1h-1zM19.96 372.06h1v1h-1zM26.31 372.06h1v1h-1zM32.66 372.06h1v1h-1zM39.01 372.06h1v1h-1zM45.36 372.06h1v1h-1zM51.72 372.06h1v1h-1zM58.07 372.06h1v1h-1zM64.42 372.06h1v1h-1zM70.77 372.06h1v1h-1zM77.12 372.06h1v1h-1zM83.48 372.06h1v1h-1zM89.83 372.06h1v1h-1zM96.18 372.06h1v1h-1zM102.53 372.06h1v1h-1zM108.88 372.06h1v1h-1zM115.24 372.06h1v1h-1zM121.59 372.06h1v1h-1zM127.94 372.06h1v1h-1zM134.29 372.06h1v1h-1zM140.64 372.06h1v1h-1zM147 372.06h1v1h-1zM153.35 372.06h1v1h-1zM159.7 372.06h1v1h-1zM166.05 372.06h1v1h-1zM172.4 372.06h1v1h-1zM178.76 372.06h1v1h-1zM185.11 372.06h1v1h-1zM191.46 372.06h1v1h-1zM197.81 372.06h1v1h-1zM204.16 372.06h1v1h-1zM210.52 372.06h1v1h-1zM216.87 372.06h1v1h-1zM223.22 372.06h1v1h-1zM229.57 372.06h1v1h-1zM235.92 372.06h1v1h-1zM242.28 372.06h1v1h-1zM248.63 372.06h1v1h-1zM254.98 372.06h1v1h-1zM261.33 372.06h1v1h-1zM267.68 372.06h1v1h-1zM274.04 372.06h1v1h-1zM280.39 372.06h1v1h-1zM286.74 372.06h1v1h-1zM293.09 372.06h1v1h-1zM299.44 372.06h1v1h-1zM305.8 372.06h1v1h-1zM312.15 372.06h1v1h-1zM7.25 395.58h1v1h-1zM13.6 395.58h1v1h-1zM19.96 395.58h1v1h-1zM26.31 395.58h1v1h-1zM32.66 395.58h1v1h-1zM39.01 395.58h1v1h-1zM45.36 395.58h1v1h-1zM51.72 395.58h1v1h-1zM58.07 395.58h1v1h-1zM64.42 395.58h1v1h-1zM70.77 395.58h1v1h-1zM77.12 395.58h1v1h-1zM83.48 395.58h1v1h-1zM89.83 395.58h1v1h-1zM96.18 395.58h1v1h-1zM102.53 395.58h1v1h-1zM108.88 395.58h1v1h-1zM115.24 395.58h1v1h-1zM121.59 395.58h1v1h-1zM127.94 395.58h1v1h-1zM134.29 395.58h1v1h-1zM140.64 395.58h1v1h-1zM147 395.58h1v1h-1zM153.35 395.58h1v1h-1zM159.7 395.58h1v1h-1zM166.05 395.58h1v1h-1zM172.4 395.58h1v1h-1zM178.76 395.58h1v1h-1zM185.11 395.58h1v1h-1zM191.46 395.58h1v1h-1zM197.81 395.58h1v1h-1zM204.16 395.58h1v1h-1zM210.52 395.58h1v1h-1zM216.87 395.58h1v1h-1zM223.22 395.58h1v1h-1zM229.57 395.58h1v1h-1zM235.92 395.58h1v1h-1zM242.28 395.58h1v1h-1zM248.63 395.58h1v1h-1zM254.98 395.58h1v1h-1zM261.33 395.58h1v1h-1zM267.68 395.58h1v1h-1zM274.04 395.58h1v1h-1zM280.39 395.58h1v1h-1zM286.74 395.58h1v1h-1zM293.09 395.58h1v1h-1zM299.44 395.58h1v1h-1zM305.8 395.58h1v1h-1zM312.15 395.58h1v1h-1zM7.25 419.09h1v1h-1zM13.6 419.09h1v1h-1zM19.96 419.09h1v1h-1zM26.31 419.09h1v1h-1zM32.66 419.09h1v1h-1zM39.01 419.09h1v1h-1zM45.36 419.09h1v1h-1zM51.72 419.09h1v1h-1zM58.07 419.09h1v1h-1zM64.42 419.09h1v1h-1zM70.77 419.09h1v1h-1zM77.12 419.09h1v1h-1zM83.48 419.09h1v1h-1zM89.83 419.09h1v1h-1zM96.18 419.09h1v1h-1zM102.53 419.09h1v1h-1zM108.88 419.09h1v1h-1zM115.24 419.09h1v1h-1zM121.59 419.09h1v1h-1zM127.94 419.09h1v1h-1zM134.29 419.09h1v1h-1zM140.64 419.09h1v1h-1zM147 419.09h1v1h-1zM153.35 419.09h1v1h-1zM159.7 419.09h1v1h-1zM166.05 419.09h1v1h-1zM172.4 419.09h1v1h-1zM178.76 419.09h1v1h-1zM185.11 419.09h1v1h-1zM191.46 419.09h1v1h-1zM197.81 419.09h1v1h-1zM204.16 419.09h1v1h-1zM210.52 419.09h1v1h-1zM216.87 419.09h1v1h-1zM223.22 419.09h1v1h-1zM229.57 419.09h1v1h-1zM235.92 419.09h1v1h-1zM242.28 419.09h1v1h-1zM248.63 419.09h1v1h-1zM254.98 419.09h1v1h-1zM261.33 419.09h1v1h-1zM267.68 419.09h1v1h-1zM274.04 419.09h1v1h-1zM280.39 419.09h1v1h-1zM286.74 419.09h1v1h-1zM293.09 419.09h1v1h-1zM299.44 419.09h1v1h-1zM305.8 419.09h1v1h-1zM312.15 419.09h1v1h-1z" fill="#8a8a8a"/>
<rect x="0" y="254.4" width="1.6" height="188.7" fill="#d4d4d4"/>
<rect x="0" y="254.4" width="319" height="1.3" fill="#dcdcdc"/>
<rect x="318.5" y="254.4" width="1.5" height="189.3" fill="#999"/>
<rect x="0" y="442.3" width="320" height="2.4" fill="#4a4a4a"/>
<path d="M7.75 255v1.6M7.75 442.1v-1.6M14.1 255v1.6M14.1 442.1v-1.6M20.46 255v1.6M20.46 442.1v-1.6M26.81 255v1.6M26.81 442.1v-1.6M33.16 255v1.6M33.16 442.1v-1.6M39.51 255v1.6M39.51 442.1v-1.6M45.86 255v1.6M45.86 442.1v-1.6M52.22 255v1.6M52.22 442.1v-1.6M58.57 255v1.6M58.57 442.1v-1.6M64.92 255v1.6M64.92 442.1v-1.6M71.27 255v1.6M71.27 442.1v-1.6M77.62 255v1.6M77.62 442.1v-1.6M83.98 255v1.6M83.98 442.1v-1.6M90.33 255v1.6M90.33 442.1v-1.6M96.68 255v1.6M96.68 442.1v-1.6M103.03 255v1.6M103.03 442.1v-1.6M109.38 255v1.6M109.38 442.1v-1.6M115.74 255v1.6M115.74 442.1v-1.6M122.09 255v1.6M122.09 442.1v-1.6M128.44 255v1.6M128.44 442.1v-1.6M134.79 255v1.6M134.79 442.1v-1.6M141.14 255v1.6M141.14 442.1v-1.6M147.5 255v1.6M147.5 442.1v-1.6M153.85 255v1.6M153.85 442.1v-1.6M160.2 255v1.6M160.2 442.1v-1.6M166.55 255v1.6M166.55 442.1v-1.6M172.9 255v1.6M172.9 442.1v-1.6M179.26 255v1.6M179.26 442.1v-1.6M185.61 255v1.6M185.61 442.1v-1.6M191.96 255v1.6M191.96 442.1v-1.6M198.31 255v1.6M198.31 442.1v-1.6M204.66 255v1.6M204.66 442.1v-1.6M211.02 255v1.6M211.02 442.1v-1.6M217.37 255v1.6M217.37 442.1v-1.6M223.72 255v1.6M223.72 442.1v-1.6M230.07 255v1.6M230.07 442.1v-1.6M236.42 255v1.6M236.42 442.1v-1.6M242.78 255v1.6M242.78 442.1v-1.6M249.13 255v1.6M249.13 442.1v-1.6M255.48 255v1.6M255.48 442.1v-1.6M261.83 255v1.6M261.83 442.1v-1.6M268.18 255v1.6M268.18 442.1v-1.6M274.54 255v1.6M274.54 442.1v-1.6M280.89 255v1.6M280.89 442.1v-1.6M287.24 255v1.6M287.24 442.1v-1.6M293.59 255v1.6M293.59 442.1v-1.6M299.94 255v1.6M299.94 442.1v-1.6M306.3 255v1.6M306.3 442.1v-1.6M312.65 255v1.6M312.65 442.1v-1.6M1.4 259.7h1.6M318.2 259.7h-1.6M1.4 264.4h1.6M318.2 264.4h-1.6M1.4 269.11h1.6M318.2 269.11h-1.6M1.4 273.81h1.6M318.2 273.81h-1.6M1.4 278.51h1.6M318.2 278.51h-1.6M1.4 283.22h1.6M318.2 283.22h-1.6M1.4 287.92h1.6M318.2 287.92h-1.6M1.4 292.62h1.6M318.2 292.62h-1.6M1.4 297.32h1.6M318.2 297.32h-1.6M1.4 302.02h1.6M318.2 302.02h-1.6M1.4 306.73h1.6M318.2 306.73h-1.6M1.4 311.43h1.6M318.2 311.43h-1.6M1.4 316.13h1.6M318.2 316.13h-1.6M1.4 320.84h1.6M318.2 320.84h-1.6M1.4 325.54h1.6M318.2 325.54h-1.6M1.4 330.24h1.6M318.2 330.24h-1.6M1.4 334.94h1.6M318.2 334.94h-1.6M1.4 339.64h1.6M318.2 339.64h-1.6M1.4 344.35h1.6M318.2 344.35h-1.6M1.4 349.05h1.6M318.2 349.05h-1.6M1.4 353.75h1.6M318.2 353.75h-1.6M1.4 358.46h1.6M318.2 358.46h-1.6M1.4 363.16h1.6M318.2 363.16h-1.6M1.4 367.86h1.6M318.2 367.86h-1.6M1.4 372.56h1.6M318.2 372.56h-1.6M1.4 377.26h1.6M318.2 377.26h-1.6M1.4 381.97h1.6M318.2 381.97h-1.6M1.4 386.67h1.6M318.2 386.67h-1.6M1.4 391.37h1.6M318.2 391.37h-1.6M1.4 396.08h1.6M318.2 396.08h-1.6M1.4 400.78h1.6M318.2 400.78h-1.6M1.4 405.48h1.6M318.2 405.48h-1.6M1.4 410.18h1.6M318.2 410.18h-1.6M1.4 414.88h1.6M318.2 414.88h-1.6M1.4 419.59h1.6M318.2 419.59h-1.6M1.4 424.29h1.6M318.2 424.29h-1.6M1.4 428.99h1.6M318.2 428.99h-1.6M1.4 433.7h1.6M318.2 433.7h-1.6M1.4 438.4h1.6M318.2 438.4h-1.6" stroke="#777" stroke-width="1" fill="none"/>
<line x1="160.2" y1="255" x2="160.2" y2="442.1" stroke="#b4b4b4" stroke-width="1.7"/>
<line x1="1.4" y1="349.05" x2="318.2" y2="349.05" stroke="#999" stroke-width="1.5"/>
<path d="M7.75 347.55v3M14.1 347.55v3M20.46 347.55v3M26.81 347.55v3M33.16 347.55v3M39.51 347.55v3M45.86 347.55v3M52.22 347.55v3M58.57 347.55v3M64.92 347.55v3M71.27 347.55v3M77.62 347.55v3M83.98 347.55v3M90.33 347.55v3M96.68 347.55v3M103.03 347.55v3M109.38 347.55v3M115.74 347.55v3M122.09 347.55v3M128.44 347.55v3M134.79 347.55v3M141.14 347.55v3M147.5 347.55v3M153.85 347.55v3M160.2 347.55v3M166.55 347.55v3M172.9 347.55v3M179.26 347.55v3M185.61 347.55v3M191.96 347.55v3M198.31 347.55v3M204.66 347.55v3M211.02 347.55v3M217.37 347.55v3M223.72 347.55v3M230.07 347.55v3M236.42 347.55v3M242.78 347.55v3M249.13 347.55v3M255.48 347.55v3M261.83 347.55v3M268.18 347.55v3M274.54 347.55v3M280.89 347.55v3M287.24 347.55v3M293.59 347.55v3M299.94 347.55v3M306.3 347.55v3M312.65 347.55v3M158.7 259.7h3M158.7 264.4h3M158.7 269.11h3M158.7 273.81h3M158.7 278.51h3M158.7 283.22h3M158.7 287.92h3M158.7 292.62h3M158.7 297.32h3M158.7 302.02h3M158.7 306.73h3M158.7 311.43h3M158.7 316.13h3M158.7 320.84h3M158.7 325.54h3M158.7 330.24h3M158.7 334.94h3M158.7 339.64h3M158.7 344.35h3M158.7 349.05h3M158.7 353.75h3M158.7 358.46h3M158.7 363.16h3M158.7 367.86h3M158.7 372.56h3M158.7 377.26h3M158.7 381.97h3M158.7 386.67h3M158.7 391.37h3M158.7 396.08h3M158.7 400.78h3M158.7 405.48h3M158.7 410.18h3M158.7 414.88h3M158.7 419.59h3M158.7 424.29h3M158.7 428.99h3M158.7 433.7h3M158.7 438.4h3" stroke="#707070" stroke-width="1" fill="none"/>
<path d="M158 254.6h4.4l-2.2 2.4z" fill="#f7941d"/>
<g clip-path="url(#cpc)">
<polyline points="1,348.93 1.9,344.3 2.8,348.82 3.7,345.7 4.6,348.95 5.5,343.55 6.4,346.21 7.3,343.99 8.2,346.01 9.1,343.87 10,346.69 10.9,341.18 11.8,345.71 12.7,342.67 13.6,345.99 14.5,341.99 15.4,345.85 16.3,343.21 17.2,345.96 18.1,342.12 19,346.4 19.9,342.53 20.8,348.37 21.7,344.48 22.6,349.96 23.5,345.21 24.4,346.66 25.3,344.85 26.2,348.99 27.1,343.77 28,348.79 28.9,346.18 29.8,351.19 30.7,343.46 31.6,352.52 32.5,348.38 33.4,350.15 34.3,348.65 35.2,351.66 36.1,349.8 37,352.53 37.9,349.55 38.8,353.23 39.7,349.17 40.6,354.66 41.5,350.75 42.4,354.82 43.3,350.24 44.2,354.11 45.1,348.92 46,350.73 46.9,348.6 47.8,351.05 48.7,348.51 49.6,349.95 50.5,348.84 51.4,350.48 52.3,348.68 53.2,349.91 54.1,347.39 55,350.98 55.9,346.33 56.8,349.09 57.7,345.63 58.6,348.53 59.5,345.06 60.4,347.39 61.3,341.61 62.2,345.78 63.1,339.04 64,344.43 64.9,340.91 65.8,342.91 66.7,339.52 67.6,342.84 68.5,340.09 69.4,344.49 70.3,340.9 71.2,345.05 72.1,338.83 73,345.31 73.9,342.21 74.8,347.02 75.7,341.46 76.6,345.94 77.5,341.2 78.4,346.93 79.3,342.65 80.2,347.38 81.1,341.66 82,349.14 82.9,343.87 83.8,347.78 84.7,344.53 85.6,349.31 86.5,343.38 87.4,348.33 88.3,343.77 89.2,351.49 90.1,344.83 91,348.1 91.9,346.67 92.8,352.36 93.7,343.19 94.6,349.99 95.5,345.71 96.4,348.88 97.3,347.45 98.2,350.16 99.1,347 100,349.59 100.9,346.37 101.8,349.47 102.7,346.6 103.6,347.95 104.5,345.89 105.4,347.76 106.3,346.03 107.2,347.28 108.1,345.19 109,350.84 109.9,345.5 110.8,347.52 111.7,344.7 112.6,349.59 113.5,344.75 114.4,346.65 115.3,344.27 116.2,345.83 117.1,341.03 118,342.45 118.9,338.64 119.8,340.33 120.7,338.46 121.6,341.55 122.5,334.93 123.4,342.9 124.3,338.38 125.2,341.34 126.1,338.39 127,340.68 127.9,337.65 128.8,342.14 129.7,339.44 130.6,343.82 131.5,339.45 132.4,343.26 133.3,337.81 134.2,344.84 135.1,340.99 136,343.24 136.9,342.6 137.8,346.35 138.7,342.3 139.6,346.58 140.5,341.99 141.4,346.88 142.3,342.81 143.2,348.69 144.1,342.87 145,352.61 145.9,347.56 146.8,350.46 147.7,345.62 148.6,350.03 149.5,347.25 150.4,351.31 151.3,347.6 152.2,351.8 153.1,345.66 154,353.43 154.9,345.3 155.8,351.08 156.7,345.67 157.6,350.46 158.5,346.94 159.4,348.86 160.3,345.51 161.2,349.31 162.1,343.36 163,347.99 163.9,344.75 164.8,348.08 165.7,341.5 166.6,346.69 167.5,344.1 168.4,345.93 169.3,343.43 170.2,346.49 171.1,342.33 172,345.66 172.9,341.67 173.8,344.67 174.7,343.53 175.6,345.07 176.5,342.48 177.4,348.04 178.3,342.93 179.2,346.61 180.1,344.52 181,346.46 181.9,343.77 182.8,347.02 183.7,344.57 184.6,349.22 185.5,345.58 186.4,347.87 187.3,345.69 188.2,348.29 189.1,345.93 190,351.11 190.9,347.74 191.8,351.23 192.7,348.02 193.6,351.23 194.5,348.5 195.4,351.76 196.3,348.97 197.2,354.41 198.1,350.56 199,353.03 199.9,351.01 200.8,353.94 201.7,352.17 202.6,352.46 203.5,348.74 204.4,354.23 205.3,347.87 206.2,354.32 207.1,347.57 208,351.53 208.9,348.52 209.8,351.13 210.7,347.07 211.6,352.79 212.5,348.21 213.4,350.11 214.3,346.93 215.2,350.78 216.1,343.65 217,349.79 217.9,347.01 218.8,348.75 219.7,344.45 220.6,349.17 221.5,342.98 222.4,345.25 223.3,340.49 224.2,345.76 225.1,341.47 226,342.57 226.9,337.74 227.8,345 228.7,340.93 229.6,343.74 230.5,340.93 231.4,343.95 232.3,341.01 233.2,346.18 234.1,342.53 235,344.38 235.9,341.6 236.8,345.46 237.7,343.49 238.6,346.93 239.5,344.18 240.4,345.66 241.3,343.96 242.2,347.24 243.1,344.8 244,350.53 244.9,344.25 245.8,348.68 246.7,344.62 247.6,348.77 248.5,343.23 249.4,348.72 250.3,343.68 251.2,351.23 252.1,343.25 253,349.67 253.9,343.19 254.8,350.19 255.7,346.63 256.6,350.88 257.5,346.93 258.4,348.48 259.3,344.29 260.2,349.02 261.1,344.84 262,348.54 262.9,346.1 263.8,349.01 264.7,342.48 265.6,347.25 266.5,345.72 267.4,350.16 268.3,344.98 269.2,347.9 270.1,343.07 271,349.96 271.9,344.48 272.8,346.38 273.7,344.51 274.6,347.3 275.5,340.68 276.4,345.49 277.3,337.87 278.2,340.84 279.1,337.48 280,341.73 280.9,337.29 281.8,341.89 282.7,338.83 283.6,343.9 284.5,336.11 285.4,341.02 286.3,337.82 287.2,340.83 288.1,336.88 289,340.97 289.9,339.06 290.8,345.02 291.7,338.66 292.6,343.5 293.5,341.17 294.4,346.36 295.3,342.19 296.2,344.13 297.1,342.07 298,345.48 298.9,343.51 299.8,345.76 300.7,344.54 301.6,349.49 302.5,346.49 303.4,352.52 304.3,346.88 305.2,350.33 306.1,348.21 307,349.93 307.9,347.74 308.8,351.77 309.7,347.27 310.6,351.32 311.5,345.18 312.4,354.3 313.3,347.54 314.2,350.64 315.1,348.45 316,353.59 316.9,346.96 317.8,349.2" fill="none" stroke="#10c010" stroke-width="1.25" stroke-linejoin="round" stroke-opacity="1.0"/>
<polyline points="1,377.83 1.8,377.11 2.6,377.76 3.4,377.8 4.2,378.3 5,378.38 5.8,378.74 6.6,378.82 7.4,379.23 8.2,379.91 9,380.46 9.8,380.29 10.6,381.1 11.4,380.71 12.2,381.17 13,381.76 13.8,381.63 14.6,382.8 15.4,383.19 16.2,382.81 17,383.05 17.8,383.85 18.6,384.52 19.4,384.66 20.2,384.38 21,384.7 21.8,385.31 22.6,385.33 23.4,385.71 24.2,386.22 25,386.73 25.8,386.52 26.6,386.56 27.4,386.57 28.2,386.65 29,386.99 29.8,387.22 30.6,386.58 31.4,386.34 32.2,386.13 33,386.16 33.8,385.39 34.6,385.8 35.4,384.75 36.2,385.09 37,383.87 37.8,383.2 38.6,382.3 39.4,380.57 40.2,379.45 41,378.34 41.8,377.78 42.6,376.39 43.4,374.66 44.2,368.27 45,358.94 45.8,359.93 46.6,362.24 47.4,356.51 48.2,353.16 49,354.04 49.8,355.54 50.6,352.1 51.4,348.93 52.2,350.84 53,353.82 53.8,349.9 54.6,346.24 55.4,348.54 56.2,351.53 57,347.02 57.8,343.37 58.6,345.42 59.4,346.68 60.2,342.71 61,338.37 61.8,338.28 62.6,338.79 63.4,332.94 64.2,324.92 65,324.96 65.8,324.51 66.6,324.5 67.4,323.88 68.2,324.05 69,323.74 69.8,322.5 70.6,322.08 71.4,320.81 72.2,319.55 73,317.51 73.8,316.25 74.6,314.12 75.4,313.03 76.2,311.93 77,309.56 77.8,309.2 78.6,307.8 79.4,305.52 80.2,304.96 81,303.82 81.8,301.95 82.6,301.53 83.4,300.9 84.2,300.9 85,300.77 85.8,300.83 86.6,301.53 87.4,301.09 88.2,302.07 89,302.92 89.8,304.02 90.6,304.34 91.4,305.86 92.2,306.97 93,308.62 93.8,310.79 94.6,311.39 95.4,313.31 96.2,314.48 97,316.75 97.8,320.45 98.6,318.99 99.4,317.61 100.2,319.04 101,321.23 101.8,319.75 102.6,316.42 103.4,319.3 104.2,321.24 105,319.93 105.8,316.5 106.6,319.48 107.4,323.61 108.2,320.1 109,316.98 109.8,320.99 110.6,324.04 111.4,322.37 112.2,320.65 113,323.63 113.8,327.56 114.6,324.6 115.4,323.03 116.2,326.21 117,329.63 117.8,328.32 118.6,327.16 119.4,330.8 120.2,334.19 121,333.32 121.8,332.09 122.6,335.07 123.4,339.03 124.2,338.1 125,334.73 125.8,339.82 126.6,342.34 127.4,341.08 128.2,340.59 129,342.91 129.8,347.74 130.6,344.86 131.4,344.13 132.2,347 133,349.66 133.8,348.44 134.6,346.96 135.4,350.09 136.2,353.48 137,351.12 137.8,350.26 138.6,353 139.4,357.57 140.2,354.94 141,352.02 141.8,357.38 142.6,360.66 143.4,359.41 144.2,356.89 145,359.93 145.8,364.08 146.6,360.77 147.4,360.22 148.2,363.63 149,373.66 149.8,377.24 150.6,376.88 151.4,377.54 152.2,376.8 153,377.71 153.8,376.76 154.6,377.88 155.4,377.69 156.2,377.87 157,377.02 157.8,376.85 158.6,377.12 159.4,376.72 160.2,376.98 161,376.94 161.8,377.17 162.6,378.21 163.4,378.04 164.2,377.87 165,379.22 165.8,378.64 166.6,378.89 167.4,379.32 168.2,380.58 169,380.44 169.8,381.05 170.6,381.54 171.4,381.62 172.2,381.31 173,382.58 173.8,382.5 174.6,382.52 175.4,383.51 176.2,383.79 177,383.74 177.8,383.59 178.6,384.57 179.4,384.33 180.2,384.64 181,385.71 181.8,385.95 182.6,385.41 183.4,385.8 184.2,386.42 185,385.92 185.8,386.21 186.6,387.26 187.4,387.27 188.2,386.97 189,387.42 189.8,387.07 190.6,386.21 191.4,386.58 192.2,386.57 193,385.84 193.8,385.39 194.6,384.51 195.4,385.02 196.2,383.31 197,382.59 197.8,381.7 198.6,380.91 199.4,380.42 200.2,378.22 201,377.88 201.8,376.51 202.6,373.56 203.4,370.83 204.2,362.44 205,357.96 205.8,358.22 206.6,360.6 207.4,355.75 208.2,351.33 209,353.88 209.8,356.56 210.6,351.42 211.4,347.53 212.2,350.11 213,352.36 213.8,348.45 214.6,345.85 215.4,347.25 216.2,349.68 217,345.93 217.8,342.51 218.6,344.04 219.4,345.53 220.2,341.1 221,335.29 221.8,335.29 222.6,335.64 223.4,327.78 224.2,322.17 225,325.21 225.8,324.3 226.6,324.43 227.4,323.62 228.2,323.67 229,322.91 229.8,322.34 230.6,320.68 231.4,319.26 232.2,317.37 233,315.72 233.8,313.76 234.6,312.16 235.4,311.03 236.2,309.67 237,309.08 237.8,307.53 238.6,306.28 239.4,304.83 240.2,303.68 241,302.33 241.8,301.38 242.6,300.86 243.4,301.17 244.2,301.16 245,301.14 245.8,301.56 246.6,302.19 247.4,301.92 248.2,302.92 249,303.37 249.8,304.92 250.6,306.07 251.4,307.8 252.2,308.77 253,310.85 253.8,311.39 254.6,313.82 255.4,315.35 256.2,313.03 257,317.92 257.8,323.28 258.6,319.75 259.4,315.73 260.2,319.55 261,321.56 261.8,319.98 262.6,316.44 263.4,319.37 264.2,321.94 265,319.78 265.8,315.69 266.6,320.38 267.4,322.55 268.2,320.35 269,317.49 269.8,322.01 270.6,325.19 271.4,322.63 272.2,319.79 273,323.58 273.8,327.17 274.6,325.8 275.4,323.51 276.2,327.8 277,332.3 277.8,330.1 278.6,329.07 279.4,332.18 280.2,336.9 281,334.1 281.8,331.87 282.6,336.75 283.4,340.84 284.2,338.73 285,337.75 285.8,340.37 286.6,344.37 287.4,342.47 288.2,341.32 289,344.38 289.8,347.83 290.6,345.76 291.4,343.45 292.2,346.94 293,351.41 293.8,349.27 294.6,347.58 295.4,350.92 296.2,353 297,352.67 297.8,349.56 298.6,354.59 299.4,359.34 300.2,355.83 301,354.6 301.8,358.43 302.6,362.81 303.4,359.97 304.2,356.73 305,360.75 305.8,362.95 306.6,362.51 307.4,360.72 308.2,370.74 309,377.23 309.8,377.68 310.6,376.81 311.4,377.15 312.2,377.36 313,377.63 313.8,377.45 314.6,376.9 315.4,377.89 316.2,377.76 317,377.67 317.8,377.28" fill="none" stroke="#00c2c2" stroke-width="1.15" stroke-linejoin="round" stroke-opacity="1.0"/>
<polyline points="1,377.83 1.8,377.11 2.6,377.76 3.4,377.8 4.2,378.3 5,378.38 5.8,378.74 6.6,378.82 7.4,379.23 8.2,379.91 9,380.46 9.8,380.29 10.6,381.1 11.4,380.71 12.2,381.17 13,381.76 13.8,381.63 14.6,382.8 15.4,383.19 16.2,382.81 17,383.05 17.8,383.85 18.6,384.52 19.4,384.66 20.2,384.38 21,384.7 21.8,385.31 22.6,385.33 23.4,385.71 24.2,386.22 25,386.73 25.8,386.52 26.6,386.56 27.4,386.57 28.2,386.65 29,386.99 29.8,387.22 30.6,386.58 31.4,386.34 32.2,386.13 33,386.16 33.8,385.39 34.6,385.8 35.4,384.75 36.2,385.09 37,383.87 37.8,383.2 38.6,382.3 39.4,380.57 40.2,379.45 41,378.34 41.8,377.78 42.6,376.39 43.4,374.66 44.2,368.27" fill="none" stroke="#00c2c2" stroke-width="2.2" stroke-linejoin="round" stroke-opacity="1.0"/>
<polyline points="65,324.96 65.8,324.51 66.6,324.5 67.4,323.88 68.2,324.05 69,323.74 69.8,322.5 70.6,322.08 71.4,320.81 72.2,319.55 73,317.51 73.8,316.25 74.6,314.12 75.4,313.03 76.2,311.93 77,309.56 77.8,309.2 78.6,307.8 79.4,305.52 80.2,304.96 81,303.82 81.8,301.95 82.6,301.53 83.4,300.9 84.2,300.9 85,300.77 85.8,300.83 86.6,301.53 87.4,301.09 88.2,302.07 89,302.92 89.8,304.02 90.6,304.34 91.4,305.86 92.2,306.97 93,308.62 93.8,310.79 94.6,311.39 95.4,313.31 96.2,314.48 97,316.75 97.8,320.45" fill="none" stroke="#00c2c2" stroke-width="2.2" stroke-linejoin="round" stroke-opacity="1.0"/>
<polyline points="149,373.66 149.8,377.24 150.6,376.88 151.4,377.54 152.2,376.8 153,377.71 153.8,376.76 154.6,377.88 155.4,377.69 156.2,377.87 157,377.02 157.8,376.85 158.6,377.12 159.4,376.72 160.2,376.98 161,376.94 161.8,377.17 162.6,378.21 163.4,378.04 164.2,377.87 165,379.22 165.8,378.64 166.6,378.89 167.4,379.32 168.2,380.58 169,380.44 169.8,381.05 170.6,381.54 171.4,381.62 172.2,381.31 173,382.58 173.8,382.5 174.6,382.52 175.4,383.51 176.2,383.79 177,383.74 177.8,383.59 178.6,384.57 179.4,384.33 180.2,384.64 181,385.71 181.8,385.95 182.6,385.41 183.4,385.8 184.2,386.42 185,385.92 185.8,386.21 186.6,387.26 187.4,387.27 188.2,386.97 189,387.42 189.8,387.07 190.6,386.21 191.4,386.58 192.2,386.57 193,385.84 193.8,385.39 194.6,384.51 195.4,385.02 196.2,383.31 197,382.59 197.8,381.7 198.6,380.91 199.4,380.42 200.2,378.22 201,377.88 201.8,376.51 202.6,373.56 203.4,370.83" fill="none" stroke="#00c2c2" stroke-width="2.2" stroke-linejoin="round" stroke-opacity="1.0"/>
<polyline points="224.2,322.17 225,325.21 225.8,324.3 226.6,324.43 227.4,323.62 228.2,323.67 229,322.91 229.8,322.34 230.6,320.68 231.4,319.26 232.2,317.37 233,315.72 233.8,313.76 234.6,312.16 235.4,311.03 236.2,309.67 237,309.08 237.8,307.53 238.6,306.28 239.4,304.83 240.2,303.68 241,302.33 241.8,301.38 242.6,300.86 243.4,301.17 244.2,301.16 245,301.14 245.8,301.56 246.6,302.19 247.4,301.92 248.2,302.92 249,303.37 249.8,304.92 250.6,306.07 251.4,307.8 252.2,308.77 253,310.85 253.8,311.39 254.6,313.82 255.4,315.35 256.2,313.03" fill="none" stroke="#00c2c2" stroke-width="2.2" stroke-linejoin="round" stroke-opacity="1.0"/>
<polyline points="308.2,370.74 309,377.23 309.8,377.68 310.6,376.81 311.4,377.15 312.2,377.36 313,377.63 313.8,377.45 314.6,376.9 315.4,377.89 316.2,377.76 317,377.67 317.8,377.28" fill="none" stroke="#00c2c2" stroke-width="2.2" stroke-linejoin="round" stroke-opacity="1.0"/>
<polyline points="1,322.57 1.8,325.55 2.6,322.57 3.4,320.53 4.2,323.72 5,328.52 5.8,325.1 6.6,323.44 7.4,326.57 8.2,329.74 9,328.09 9.8,326.64 10.6,330.49 11.4,332.96 12.2,332.08 13,328.79 13.8,333.11 14.6,336.94 15.4,335.39 16.2,333.31 17,336.34 17.8,341.31 18.6,338.14 19.4,335.66 20.2,339.44 21,344.13 21.8,341.64 22.6,339.47 23.4,342.81 24.2,345.68 25,344.66 25.8,341.46 26.6,346.03 27.4,348.87 28.2,348.72 29,346.14 29.8,350.47 30.6,355.18 31.4,353.45 32.2,351.43 33,354.99 33.8,360.3 34.6,357.19 35.4,355.07 36.2,360.03 37,364.97 37.8,361.69 38.6,360.98 39.4,363.61 40.2,368.26 41,364.48 41.8,363.1 42.6,367.22 43.4,375.7 44.2,377.22 45,377.69 45.8,376.76 46.6,378.05 47.4,377.88 48.2,377.72 49,378.02 49.8,377.33 50.6,377.65 51.4,378.64 52.2,378.57 53,378.47 53.8,378.83 54.6,379.07 55.4,379.15 56.2,378.22 57,378.43 57.8,379.3 58.6,378.93 59.4,379.73 60.2,379.26 61,380.06 61.8,379.97 62.6,379.81 63.4,380.5 64.2,380.13 65,380.49 65.8,381.08 66.6,380.86 67.4,381.54 68.2,381.7 69,381.38 69.8,381.13 70.6,381.79 71.4,382.22 72.2,382.17 73,382.74 73.8,382.58 74.6,383.02 75.4,384.31 76.2,383.86 77,384.88 77.8,384.65 78.6,384.76 79.4,386.17 80.2,385.33 81,386.57 81.8,385.71 82.6,386.11 83.4,387.17 84.2,387.46 85,387.1 85.8,387.16 86.6,387.22 87.4,386.32 88.2,385.82 89,385.51 89.8,384.39 90.6,383.45 91.4,381.67 92.2,380.25 93,378.41 93.8,376.22 94.6,377.29 95.4,371.91 96.2,366.81 97,367.07 97.8,368.67 98.6,362.93 99.4,359.1 100.2,360.4 101,361.49 101.8,357.75 102.6,353.84 103.4,355.01 104.2,356.49 105,352.37 105.8,348.31 106.6,349.72 107.4,351.6 108.2,347.49 109,344.29 109.8,345.8 110.6,347.23 111.4,344.36 112.2,341.1 113,342.46 113.8,345.11 114.6,341.36 115.4,336.18 116.2,335.4 117,331.4 117.8,325.36 118.6,324.04 119.4,323.61 120.2,322.91 121,321.37 121.8,321.3 122.6,320.28 123.4,319.39 124.2,318.45 125,316.93 125.8,315.75 126.6,314.64 127.4,312.53 128.2,311.72 129,310.99 129.8,309.67 130.6,307.81 131.4,306.8 132.2,305.71 133,304.53 133.8,302.45 134.6,301.78 135.4,301.94 136.2,302.53 137,302.08 137.8,302.65 138.6,303.19 139.4,304.53 140.2,305.86 141,307.15 141.8,308.33 142.6,310.85 143.4,312.59 144.2,314.05 145,317.15 145.8,319.06 146.6,321.25 147.4,319.08 148.2,321.36 149,325.32 149.8,321.66 150.6,318.53 151.4,321.81 152.2,325.69 153,322.64 153.8,320.68 154.6,322.77 155.4,327.14 156.2,323.3 157,320.75 157.8,323.9 158.6,326.61 159.4,322.63 160.2,319.66 161,322.42 161.8,326.12 162.6,322.89 163.4,320.97 164.2,324.16 165,328.66 165.8,326.46 166.6,324.22 167.4,327.47 168.2,331.24 169,328.81 169.8,327.26 170.6,330.86 171.4,334.35 172.2,332.71 173,330.33 173.8,333.98 174.6,338.78 175.4,336.18 176.2,332.92 177,337.8 177.8,340.24 178.6,338.47 179.4,336.61 180.2,340.87 181,344.25 181.8,341.67 182.6,340.38 183.4,343.21 184.2,347.1 185,345.02 185.8,342.64 186.6,347.33 187.4,351.18 188.2,349.44 189,347.65 189.8,351.98 190.6,357.06 191.4,353.95 192.2,352.11 193,356.36 193.8,360.45 194.6,358.83 195.4,357.44 196.2,361.03 197,364.91 197.8,362.59 198.6,361.04 199.4,363.99 200.2,368.59 201,365.48 201.8,364.34 202.6,372.46 203.4,380.1 204.2,377.25 205,376.89 205.8,377.96 206.6,377.3 207.4,377.14 208.2,378.24 209,377.89 209.8,377.98 210.6,378.53 211.4,377.67 212.2,378.41 213,379 213.8,378.42 214.6,378.08 215.4,378.73 216.2,378.43 217,379.39 217.8,378.61 218.6,379.25 219.4,379.07 220.2,379.72 221,379.31 221.8,380.51 222.6,379.77 223.4,379.82 224.2,380.12 225,380.23 225.8,380.22 226.6,380.45 227.4,380.95 228.2,381.52 229,381.52 229.8,381.57 230.6,381.75 231.4,382.67 232.2,382.51 233,382.58 233.8,383.15 234.6,384 235.4,384.23 236.2,384.76 237,384.43 237.8,385.15 238.6,386.18 239.4,385.95 240.2,386.64 241,386.63 241.8,386.42 242.6,386.18 243.4,386.91 244.2,387.2 245,386.95 245.8,386.94 246.6,386.35 247.4,385.72 248.2,385.11 249,384.84 249.8,383.12 250.6,382.7 251.4,380.51 252.2,379.21 253,372.73 253.8,374.27 254.6,375.52 255.4,369.14 256.2,363.97 257,365.06 257.8,366.22 258.6,361.79 259.4,358.14 260.2,359.41 261,360.63 261.8,356.15 262.6,351.45 263.4,354.16 264.2,355.66 265,350.85 265.8,347.42 266.6,349.23 267.4,350.83 268.2,346.81 269,343.24 269.8,345.01 270.6,347.73 271.4,343.83 272.2,340.12 273,341.82 273.8,344.38 274.6,339.37 275.4,332.37 276.2,327.68 277,325.09 277.8,323.92 278.6,322.59 279.4,322.9 280.2,321.91 281,321.07 281.8,319.83 282.6,318.92 283.4,317.35 284.2,316.17 285,315.95 285.8,314.05 286.6,312.39 287.4,312.26 288.2,311.16 289,309.2 289.8,308.12 290.6,306.37 291.4,305.71 292.2,304.07 293,303.16 293.8,302.74 294.6,301.52 295.4,302.41 296.2,302.74 297,303.01 297.8,303.42 298.6,304.37 299.4,305.91 300.2,306.99 301,308.21 301.8,310.38 302.6,312.4 303.4,315.1 304.2,317.25 305,319.99 305.8,320.5 306.6,321.91 307.4,318.84 308.2,321.24 309,324.15 309.8,322.02 310.6,318.52 311.4,322.26 312.2,324.18 313,323.05 313.8,318.93 314.6,323.2 315.4,325.66 316.2,323.53 317,320.3 317.8,323.26" fill="none" stroke="#cc00cc" stroke-width="1.15" stroke-linejoin="round" stroke-opacity="1.0"/>
<polyline points="44.2,377.22 45,377.69 45.8,376.76 46.6,378.05 47.4,377.88 48.2,377.72 49,378.02 49.8,377.33 50.6,377.65 51.4,378.64 52.2,378.57 53,378.47 53.8,378.83 54.6,379.07 55.4,379.15 56.2,378.22 57,378.43 57.8,379.3 58.6,378.93 59.4,379.73 60.2,379.26 61,380.06 61.8,379.97 62.6,379.81 63.4,380.5 64.2,380.13 65,380.49 65.8,381.08 66.6,380.86 67.4,381.54 68.2,381.7 69,381.38 69.8,381.13 70.6,381.79 71.4,382.22 72.2,382.17 73,382.74 73.8,382.58 74.6,383.02 75.4,384.31 76.2,383.86 77,384.88 77.8,384.65 78.6,384.76 79.4,386.17 80.2,385.33 81,386.57 81.8,385.71 82.6,386.11 83.4,387.17 84.2,387.46 85,387.1 85.8,387.16 86.6,387.22 87.4,386.32 88.2,385.82 89,385.51 89.8,384.39 90.6,383.45 91.4,381.67 92.2,380.25 93,378.41 93.8,376.22" fill="none" stroke="#cc00cc" stroke-width="2.2" stroke-linejoin="round" stroke-opacity="1.0"/>
<polyline points="117,331.4 117.8,325.36 118.6,324.04 119.4,323.61 120.2,322.91 121,321.37 121.8,321.3 122.6,320.28 123.4,319.39 124.2,318.45 125,316.93 125.8,315.75 126.6,314.64 127.4,312.53 128.2,311.72 129,310.99 129.8,309.67 130.6,307.81 131.4,306.8 132.2,305.71 133,304.53 133.8,302.45 134.6,301.78 135.4,301.94 136.2,302.53 137,302.08 137.8,302.65 138.6,303.19 139.4,304.53 140.2,305.86 141,307.15 141.8,308.33 142.6,310.85 143.4,312.59 144.2,314.05 145,317.15 145.8,319.06 146.6,321.25 147.4,319.08" fill="none" stroke="#cc00cc" stroke-width="2.2" stroke-linejoin="round" stroke-opacity="1.0"/>
<polyline points="203.4,380.1 204.2,377.25 205,376.89 205.8,377.96 206.6,377.3 207.4,377.14 208.2,378.24 209,377.89 209.8,377.98 210.6,378.53 211.4,377.67 212.2,378.41 213,379 213.8,378.42 214.6,378.08 215.4,378.73 216.2,378.43 217,379.39 217.8,378.61 218.6,379.25 219.4,379.07 220.2,379.72 221,379.31 221.8,380.51 222.6,379.77 223.4,379.82 224.2,380.12 225,380.23 225.8,380.22 226.6,380.45 227.4,380.95 228.2,381.52 229,381.52 229.8,381.57 230.6,381.75 231.4,382.67 232.2,382.51 233,382.58 233.8,383.15 234.6,384 235.4,384.23 236.2,384.76 237,384.43 237.8,385.15 238.6,386.18 239.4,385.95 240.2,386.64 241,386.63 241.8,386.42 242.6,386.18 243.4,386.91 244.2,387.2 245,386.95 245.8,386.94 246.6,386.35 247.4,385.72 248.2,385.11 249,384.84 249.8,383.12 250.6,382.7 251.4,380.51 252.2,379.21" fill="none" stroke="#cc00cc" stroke-width="2.2" stroke-linejoin="round" stroke-opacity="1.0"/>
<polyline points="276.2,327.68 277,325.09 277.8,323.92 278.6,322.59 279.4,322.9 280.2,321.91 281,321.07 281.8,319.83 282.6,318.92 283.4,317.35 284.2,316.17 285,315.95 285.8,314.05 286.6,312.39 287.4,312.26 288.2,311.16 289,309.2 289.8,308.12 290.6,306.37 291.4,305.71 292.2,304.07 293,303.16 293.8,302.74 294.6,301.52 295.4,302.41 296.2,302.74 297,303.01 297.8,303.42 298.6,304.37 299.4,305.91 300.2,306.99 301,308.21 301.8,310.38 302.6,312.4 303.4,315.1 304.2,317.25 305,319.99 305.8,320.5 306.6,321.91" fill="none" stroke="#cc00cc" stroke-width="2.2" stroke-linejoin="round" stroke-opacity="1.0"/>
<polyline points="1,344.12 1.8,346.45 2.6,343.28 3.4,338.41 4.2,341.69 5,343.98 5.8,339.53 6.6,336.5 7.4,337.92 8.2,339.15 9,334.17 9.8,329.14 10.6,330.29 11.4,331.42 12.2,326.04 13,325.24 13.8,324.74 14.6,324.78 15.4,324.65 16.2,324.51 17,323.86 17.8,323.64 18.6,322.59 19.4,321.51 20.2,320.62 21,320.19 21.8,318.6 22.6,317.39 23.4,316.89 24.2,316.04 25,314.95 25.8,312.43 26.6,312 27.4,310.62 28.2,309.17 29,308.97 29.8,308.04 30.6,308.76 31.4,309.34 32.2,310.27 33,310.76 33.8,310.68 34.6,312 35.4,313.19 36.2,313.33 37,314.48 37.8,315.01 38.6,316.09 39.4,317.39 40.2,321.22 41,317.48 41.8,315.62 42.6,318.1 43.4,320.95 44.2,318.99 45,317.37 45.8,319.54 46.6,322.91 47.4,320.52 48.2,317.88 49,320.46 49.8,323.57 50.6,321.75 51.4,319.26 52.2,321.71 53,324.33 53.8,322.47 54.6,320 55.4,322.71 56.2,327.21 57,324.11 57.8,322.12 58.6,324.21 59.4,328.23 60.2,325.6 61,322.35 61.8,327.42 62.6,329.48 63.4,328.47 64.2,327.15 65,330.4 65.8,333.03 66.6,332.34 67.4,331.12 68.2,334.67 69,338.36 69.8,336.24 70.6,334.62 71.4,337.16 72.2,340.86 73,338.59 73.8,336.95 74.6,339.97 75.4,344.53 76.2,342.21 77,340.35 77.8,343.93 78.6,346.8 79.4,345.72 80.2,343.43 81,347.54 81.8,350.45 82.6,348.71 83.4,347.75 84.2,351.07 85,354.33 85.8,353.11 86.6,350.28 87.4,355.45 88.2,358.59 89,356.74 89.8,353.56 90.6,358.49 91.4,362.18 92.2,360.35 93,358.25 93.8,362.87 94.6,366.44 95.4,367.13 96.2,366.68 97,369.41 97.8,372.07 98.6,370.29 99.4,369.14 100.2,369.01 101,368.18 101.8,369 102.6,371.93 103.4,374.08 104.2,373.97 105,374.54 105.8,374.38 106.6,375.22 107.4,374.58 108.2,375.42 109,375.32 109.8,375.57 110.6,375.21 111.4,376.1 112.2,375.59 113,376.29 113.8,375.68 114.6,376.12 115.4,375.88 116.2,376.67 117,376.05 117.8,377.05 118.6,377.35 119.4,376.63 120.2,376.68 121,377.36 121.8,377.52 122.6,377.82 123.4,377.4 124.2,377.95 125,377.81 125.8,378.84 126.6,378.84 127.4,378.76 128.2,378.65 129,378.84 129.8,379.55 130.6,379.88 131.4,379.43 132.2,379.22 133,380.51 133.8,379.51 134.6,379.79 135.4,380.48 136.2,380.14 137,380.71 137.8,380.14 138.6,380.24 139.4,380.52 140.2,379.91 141,380.28 141.8,378.91 142.6,378.73 143.4,378.41 144.2,374.32 145,375.92 145.8,377.12 146.6,372.67 147.4,367.94 148.2,369.09 149,370.15 149.8,365.19 150.6,360.99 151.4,361.33 152.2,362.55 153,358.5 153.8,354.09 154.6,353.85 155.4,355.51 156.2,350.38 157,347.52 157.8,349.39 158.6,350.79 159.4,345.4 160.2,341.95 161,343.48 161.8,346.26 162.6,342.21 163.4,337.95 164.2,340.57 165,343.29 165.8,338.65 166.6,334.51 167.4,335.94 168.2,337.5 169,332.35 169.8,327.87 170.6,327.75 171.4,325.49 172.2,325.28 173,325.57 173.8,324.75 174.6,325.28 175.4,324.44 176.2,324.26 177,323.63 177.8,322.94 178.6,321.93 179.4,321.21 180.2,319.88 181,319.28 181.8,317.49 182.6,317.3 183.4,315.19 184.2,314.49 185,313.07 185.8,311.48 186.6,309.98 187.4,309.67 188.2,309.17 189,309.13 189.8,309.25 190.6,309.26 191.4,309.27 192.2,310.03 193,310.55 193.8,312.04 194.6,312.55 195.4,313.86 196.2,314.67 197,315.65 197.8,316.09 198.6,317.11 199.4,317.63 200.2,321.09 201,318.72 201.8,316.02 202.6,319.21 203.4,321.63 204.2,318.79 205,316.58 205.8,319.98 206.6,324.09 207.4,319.98 208.2,316.75 209,321.1 209.8,325.08 210.6,321.44 211.4,318.14 212.2,322 213,325.68 213.8,322.4 214.6,320.29 215.4,323.56 216.2,325.74 217,324.5 217.8,321.12 218.6,324.63 219.4,328.58 220.2,326.01 221,323.53 221.8,327.77 222.6,331.51 223.4,329.77 224.2,326.69 225,331.31 225.8,335.23 226.6,333.82 227.4,331.29 228.2,335 229,338.8 229.8,336.95 230.6,334.91 231.4,337.81 232.2,341.81 233,339.57 233.8,337.26 234.6,340.76 235.4,345.26 236.2,343.14 237,339.89 237.8,344.34 238.6,347.22 239.4,345.78 240.2,344.32 241,348.55 241.8,352.14 242.6,349.83 243.4,347.29 244.2,351.8 245,356.37 245.8,353.63 246.6,351.4 247.4,355.46 248.2,359.36 249,357.83 249.8,355.11 250.6,359.3 251.4,364.32 252.2,361.07 253,359.94 253.8,364.56 254.6,369.54 255.4,368.38 256.2,367.7 257,370.71 257.8,372.31 258.6,370.28 259.4,369.6 260.2,369.09 261,369.32 261.8,372.08 262.6,373.47 263.4,374.47 264.2,374.42 265,374.13 265.8,374.57 266.6,374.98 267.4,375.38 268.2,374.73 269,375.85 269.8,375.18 270.6,375.2 271.4,375.51 272.2,375.44 273,375.52 273.8,375.59 274.6,376.53 275.4,377.02 276.2,376.21 277,376.16 277.8,377.17 278.6,377.48 279.4,377.25 280.2,377.83 281,377.86 281.8,377.22 282.6,378.11 283.4,377.63 284.2,377.81 285,378.66 285.8,379 286.6,378.96 287.4,378.6 288.2,378.71 289,379.19 289.8,379.68 290.6,380.17 291.4,380.29 292.2,379.58 293,380.04 293.8,380.1 294.6,380.2 295.4,380.78 296.2,380.66 297,380.65 297.8,380.32 298.6,380.9 299.4,380.76 300.2,379.72 301,379.25 301.8,379.26 302.6,381.44 303.4,377.55 304.2,373.91 305,374.46 305.8,376.59 306.6,371.5 307.4,365.36 308.2,367.1 309,369.24 309.8,363.15 310.6,359.27 311.4,360.12 312.2,362.24 313,356.27 313.8,351.04 314.6,352.16 315.4,353.94 316.2,350.06 317,345.76 317.8,347.77" fill="none" stroke="#0404c8" stroke-width="1.15" stroke-linejoin="round" stroke-opacity="1.0"/>
<polyline points="11.4,331.42 12.2,326.04 13,325.24 13.8,324.74 14.6,324.78 15.4,324.65 16.2,324.51 17,323.86 17.8,323.64 18.6,322.59 19.4,321.51 20.2,320.62 21,320.19 21.8,318.6 22.6,317.39 23.4,316.89 24.2,316.04 25,314.95 25.8,312.43 26.6,312 27.4,310.62 28.2,309.17 29,308.97 29.8,308.04 30.6,308.76 31.4,309.34 32.2,310.27 33,310.76 33.8,310.68 34.6,312 35.4,313.19 36.2,313.33 37,314.48 37.8,315.01 38.6,316.09 39.4,317.39 40.2,321.22" fill="none" stroke="#0404c8" stroke-width="2.2" stroke-linejoin="round" stroke-opacity="1.0"/>
<polyline points="98.6,370.29 99.4,369.14 100.2,369.01 101,368.18 101.8,369 102.6,371.93 103.4,374.08 104.2,373.97 105,374.54 105.8,374.38 106.6,375.22 107.4,374.58 108.2,375.42 109,375.32 109.8,375.57 110.6,375.21 111.4,376.1 112.2,375.59 113,376.29 113.8,375.68 114.6,376.12 115.4,375.88 116.2,376.67 117,376.05 117.8,377.05 118.6,377.35 119.4,376.63 120.2,376.68 121,377.36 121.8,377.52 122.6,377.82 123.4,377.4 124.2,377.95 125,377.81 125.8,378.84 126.6,378.84 127.4,378.76 128.2,378.65 129,378.84 129.8,379.55 130.6,379.88 131.4,379.43 132.2,379.22 133,380.51 133.8,379.51 134.6,379.79 135.4,380.48 136.2,380.14 137,380.71 137.8,380.14 138.6,380.24 139.4,380.52 140.2,379.91 141,380.28 141.8,378.91 142.6,378.73 143.4,378.41" fill="none" stroke="#0404c8" stroke-width="2.2" stroke-linejoin="round" stroke-opacity="1.0"/>
<polyline points="170.6,327.75 171.4,325.49 172.2,325.28 173,325.57 173.8,324.75 174.6,325.28 175.4,324.44 176.2,324.26 177,323.63 177.8,322.94 178.6,321.93 179.4,321.21 180.2,319.88 181,319.28 181.8,317.49 182.6,317.3 183.4,315.19 184.2,314.49 185,313.07 185.8,311.48 186.6,309.98 187.4,309.67 188.2,309.17 189,309.13 189.8,309.25 190.6,309.26 191.4,309.27 192.2,310.03 193,310.55 193.8,312.04 194.6,312.55 195.4,313.86 196.2,314.67 197,315.65 197.8,316.09 198.6,317.11 199.4,317.63" fill="none" stroke="#0404c8" stroke-width="2.2" stroke-linejoin="round" stroke-opacity="1.0"/>
<polyline points="257.8,372.31 258.6,370.28 259.4,369.6 260.2,369.09 261,369.32 261.8,372.08 262.6,373.47 263.4,374.47 264.2,374.42 265,374.13 265.8,374.57 266.6,374.98 267.4,375.38 268.2,374.73 269,375.85 269.8,375.18 270.6,375.2 271.4,375.51 272.2,375.44 273,375.52 273.8,375.59 274.6,376.53 275.4,377.02 276.2,376.21 277,376.16 277.8,377.17 278.6,377.48 279.4,377.25 280.2,377.83 281,377.86 281.8,377.22 282.6,378.11 283.4,377.63 284.2,377.81 285,378.66 285.8,379 286.6,378.96 287.4,378.6 288.2,378.71 289,379.19 289.8,379.68 290.6,380.17 291.4,380.29 292.2,379.58 293,380.04 293.8,380.1 294.6,380.2 295.4,380.78 296.2,380.66 297,380.65 297.8,380.32 298.6,380.9 299.4,380.76 300.2,379.72 301,379.25 301.8,379.26 302.6,381.44" fill="none" stroke="#0404c8" stroke-width="2.2" stroke-linejoin="round" stroke-opacity="1.0"/>
</g>
<path d="M395.57 259.21h1v1h-1zM395.57 263.93h1v1h-1zM395.57 268.64h1v1h-1zM395.57 273.35h1v1h-1zM395.57 278.06h1v1h-1zM395.57 282.77h1v1h-1zM395.57 287.49h1v1h-1zM395.57 292.2h1v1h-1zM395.57 296.91h1v1h-1zM395.57 301.62h1v1h-1zM395.57 306.34h1v1h-1zM395.57 311.05h1v1h-1zM395.57 315.76h1v1h-1zM395.57 320.48h1v1h-1zM395.57 325.19h1v1h-1zM395.57 329.9h1v1h-1zM395.57 334.61h1v1h-1zM395.57 339.32h1v1h-1zM395.57 344.04h1v1h-1zM395.57 348.75h1v1h-1zM395.57 353.46h1v1h-1zM395.57 358.18h1v1h-1zM395.57 362.89h1v1h-1zM395.57 367.6h1v1h-1zM395.57 372.31h1v1h-1zM395.57 377.02h1v1h-1zM395.57 381.74h1v1h-1zM395.57 386.45h1v1h-1zM395.57 391.16h1v1h-1zM395.57 395.88h1v1h-1zM395.57 400.59h1v1h-1zM395.57 405.3h1v1h-1zM395.57 410.01h1v1h-1zM395.57 414.73h1v1h-1zM395.57 419.44h1v1h-1zM395.57 424.15h1v1h-1zM395.57 428.86h1v1h-1zM395.57 433.57h1v1h-1zM395.57 438.29h1v1h-1zM427.34 259.21h1v1h-1zM427.34 263.93h1v1h-1zM427.34 268.64h1v1h-1zM427.34 273.35h1v1h-1zM427.34 278.06h1v1h-1zM427.34 282.77h1v1h-1zM427.34 287.49h1v1h-1zM427.34 292.2h1v1h-1zM427.34 296.91h1v1h-1zM427.34 301.62h1v1h-1zM427.34 306.34h1v1h-1zM427.34 311.05h1v1h-1zM427.34 315.76h1v1h-1zM427.34 320.48h1v1h-1zM427.34 325.19h1v1h-1zM427.34 329.9h1v1h-1zM427.34 334.61h1v1h-1zM427.34 339.32h1v1h-1zM427.34 344.04h1v1h-1zM427.34 348.75h1v1h-1zM427.34 353.46h1v1h-1zM427.34 358.18h1v1h-1zM427.34 362.89h1v1h-1zM427.34 367.6h1v1h-1zM427.34 372.31h1v1h-1zM427.34 377.02h1v1h-1zM427.34 381.74h1v1h-1zM427.34 386.45h1v1h-1zM427.34 391.16h1v1h-1zM427.34 395.88h1v1h-1zM427.34 400.59h1v1h-1zM427.34 405.3h1v1h-1zM427.34 410.01h1v1h-1zM427.34 414.73h1v1h-1zM427.34 419.44h1v1h-1zM427.34 424.15h1v1h-1zM427.34 428.86h1v1h-1zM427.34 433.57h1v1h-1zM427.34 438.29h1v1h-1zM459.11 259.21h1v1h-1zM459.11 263.93h1v1h-1zM459.11 268.64h1v1h-1zM459.11 273.35h1v1h-1zM459.11 278.06h1v1h-1zM459.11 282.77h1v1h-1zM459.11 287.49h1v1h-1zM459.11 292.2h1v1h-1zM459.11 296.91h1v1h-1zM459.11 301.62h1v1h-1zM459.11 306.34h1v1h-1zM459.11 311.05h1v1h-1zM459.11 315.76h1v1h-1zM459.11 320.48h1v1h-1zM459.11 325.19h1v1h-1zM459.11 329.9h1v1h-1zM459.11 334.61h1v1h-1zM459.11 339.32h1v1h-1zM459.11 344.04h1v1h-1zM459.11 348.75h1v1h-1zM459.11 353.46h1v1h-1zM459.11 358.18h1v1h-1zM459.11 362.89h1v1h-1zM459.11 367.6h1v1h-1zM459.11 372.31h1v1h-1zM459.11 377.02h1v1h-1zM459.11 381.74h1v1h-1zM459.11 386.45h1v1h-1zM459.11 391.16h1v1h-1zM459.11 395.88h1v1h-1zM459.11 400.59h1v1h-1zM459.11 405.3h1v1h-1zM459.11 410.01h1v1h-1zM459.11 414.73h1v1h-1zM459.11 419.44h1v1h-1zM459.11 424.15h1v1h-1zM459.11 428.86h1v1h-1zM459.11 433.57h1v1h-1zM459.11 438.29h1v1h-1zM490.88 259.21h1v1h-1zM490.88 263.93h1v1h-1zM490.88 268.64h1v1h-1zM490.88 273.35h1v1h-1zM490.88 278.06h1v1h-1zM490.88 282.77h1v1h-1zM490.88 287.49h1v1h-1zM490.88 292.2h1v1h-1zM490.88 296.91h1v1h-1zM490.88 301.62h1v1h-1zM490.88 306.34h1v1h-1zM490.88 311.05h1v1h-1zM490.88 315.76h1v1h-1zM490.88 320.48h1v1h-1zM490.88 325.19h1v1h-1zM490.88 329.9h1v1h-1zM490.88 334.61h1v1h-1zM490.88 339.32h1v1h-1zM490.88 344.04h1v1h-1zM490.88 348.75h1v1h-1zM490.88 353.46h1v1h-1zM490.88 358.18h1v1h-1zM490.88 362.89h1v1h-1zM490.88 367.6h1v1h-1zM490.88 372.31h1v1h-1zM490.88 377.02h1v1h-1zM490.88 381.74h1v1h-1zM490.88 386.45h1v1h-1zM490.88 391.16h1v1h-1zM490.88 395.88h1v1h-1zM490.88 400.59h1v1h-1zM490.88 405.3h1v1h-1zM490.88 410.01h1v1h-1zM490.88 414.73h1v1h-1zM490.88 419.44h1v1h-1zM490.88 424.15h1v1h-1zM490.88 428.86h1v1h-1zM490.88 433.57h1v1h-1zM490.88 438.29h1v1h-1zM554.42 259.21h1v1h-1zM554.42 263.93h1v1h-1zM554.42 268.64h1v1h-1zM554.42 273.35h1v1h-1zM554.42 278.06h1v1h-1zM554.42 282.77h1v1h-1zM554.42 287.49h1v1h-1zM554.42 292.2h1v1h-1zM554.42 296.91h1v1h-1zM554.42 301.62h1v1h-1zM554.42 306.34h1v1h-1zM554.42 311.05h1v1h-1zM554.42 315.76h1v1h-1zM554.42 320.48h1v1h-1zM554.42 325.19h1v1h-1zM554.42 329.9h1v1h-1zM554.42 334.61h1v1h-1zM554.42 339.32h1v1h-1zM554.42 344.04h1v1h-1zM554.42 348.75h1v1h-1zM554.42 353.46h1v1h-1zM554.42 358.18h1v1h-1zM554.42 362.89h1v1h-1zM554.42 367.6h1v1h-1zM554.42 372.31h1v1h-1zM554.42 377.02h1v1h-1zM554.42 381.74h1v1h-1zM554.42 386.45h1v1h-1zM554.42 391.16h1v1h-1zM554.42 395.88h1v1h-1zM554.42 400.59h1v1h-1zM554.42 405.3h1v1h-1zM554.42 410.01h1v1h-1zM554.42 414.73h1v1h-1zM554.42 419.44h1v1h-1zM554.42 424.15h1v1h-1zM554.42 428.86h1v1h-1zM554.42 433.57h1v1h-1zM554.42 438.29h1v1h-1zM586.19 259.21h1v1h-1zM586.19 263.93h1v1h-1zM586.19 268.64h1v1h-1zM586.19 273.35h1v1h-1zM586.19 278.06h1v1h-1zM586.19 282.77h1v1h-1zM586.19 287.49h1v1h-1zM586.19 292.2h1v1h-1zM586.19 296.91h1v1h-1zM586.19 301.62h1v1h-1zM586.19 306.34h1v1h-1zM586.19 311.05h1v1h-1zM586.19 315.76h1v1h-1zM586.19 320.48h1v1h-1zM586.19 325.19h1v1h-1zM586.19 329.9h1v1h-1zM586.19 334.61h1v1h-1zM586.19 339.32h1v1h-1zM586.19 344.04h1v1h-1zM586.19 348.75h1v1h-1zM586.19 353.46h1v1h-1zM586.19 358.18h1v1h-1zM586.19 362.89h1v1h-1zM586.19 367.6h1v1h-1zM586.19 372.31h1v1h-1zM586.19 377.02h1v1h-1zM586.19 381.74h1v1h-1zM586.19 386.45h1v1h-1zM586.19 391.16h1v1h-1zM586.19 395.88h1v1h-1zM586.19 400.59h1v1h-1zM586.19 405.3h1v1h-1zM586.19 410.01h1v1h-1zM586.19 414.73h1v1h-1zM586.19 419.44h1v1h-1zM586.19 424.15h1v1h-1zM586.19 428.86h1v1h-1zM586.19 433.57h1v1h-1zM586.19 438.29h1v1h-1zM617.96 259.21h1v1h-1zM617.96 263.93h1v1h-1zM617.96 268.64h1v1h-1zM617.96 273.35h1v1h-1zM617.96 278.06h1v1h-1zM617.96 282.77h1v1h-1zM617.96 287.49h1v1h-1zM617.96 292.2h1v1h-1zM617.96 296.91h1v1h-1zM617.96 301.62h1v1h-1zM617.96 306.34h1v1h-1zM617.96 311.05h1v1h-1zM617.96 315.76h1v1h-1zM617.96 320.48h1v1h-1zM617.96 325.19h1v1h-1zM617.96 329.9h1v1h-1zM617.96 334.61h1v1h-1zM617.96 339.32h1v1h-1zM617.96 344.04h1v1h-1zM617.96 348.75h1v1h-1zM617.96 353.46h1v1h-1zM617.96 358.18h1v1h-1zM617.96 362.89h1v1h-1zM617.96 367.6h1v1h-1zM617.96 372.31h1v1h-1zM617.96 377.02h1v1h-1zM617.96 381.74h1v1h-1zM617.96 386.45h1v1h-1zM617.96 391.16h1v1h-1zM617.96 395.88h1v1h-1zM617.96 400.59h1v1h-1zM617.96 405.3h1v1h-1zM617.96 410.01h1v1h-1zM617.96 414.73h1v1h-1zM617.96 419.44h1v1h-1zM617.96 424.15h1v1h-1zM617.96 428.86h1v1h-1zM617.96 433.57h1v1h-1zM617.96 438.29h1v1h-1zM649.73 259.21h1v1h-1zM649.73 263.93h1v1h-1zM649.73 268.64h1v1h-1zM649.73 273.35h1v1h-1zM649.73 278.06h1v1h-1zM649.73 282.77h1v1h-1zM649.73 287.49h1v1h-1zM649.73 292.2h1v1h-1zM649.73 296.91h1v1h-1zM649.73 301.62h1v1h-1zM649.73 306.34h1v1h-1zM649.73 311.05h1v1h-1zM649.73 315.76h1v1h-1zM649.73 320.48h1v1h-1zM649.73 325.19h1v1h-1zM649.73 329.9h1v1h-1zM649.73 334.61h1v1h-1zM649.73 339.32h1v1h-1zM649.73 344.04h1v1h-1zM649.73 348.75h1v1h-1zM649.73 353.46h1v1h-1zM649.73 358.18h1v1h-1zM649.73 362.89h1v1h-1zM649.73 367.6h1v1h-1zM649.73 372.31h1v1h-1zM649.73 377.02h1v1h-1zM649.73 381.74h1v1h-1zM649.73 386.45h1v1h-1zM649.73 391.16h1v1h-1zM649.73 395.88h1v1h-1zM649.73 400.59h1v1h-1zM649.73 405.3h1v1h-1zM649.73 410.01h1v1h-1zM649.73 414.73h1v1h-1zM649.73 419.44h1v1h-1zM649.73 424.15h1v1h-1zM649.73 428.86h1v1h-1zM649.73 433.57h1v1h-1zM649.73 438.29h1v1h-1zM370.15 278.06h1v1h-1zM376.51 278.06h1v1h-1zM382.86 278.06h1v1h-1zM389.22 278.06h1v1h-1zM395.57 278.06h1v1h-1zM401.92 278.06h1v1h-1zM408.28 278.06h1v1h-1zM414.63 278.06h1v1h-1zM420.99 278.06h1v1h-1zM427.34 278.06h1v1h-1zM433.69 278.06h1v1h-1zM440.05 278.06h1v1h-1zM446.4 278.06h1v1h-1zM452.76 278.06h1v1h-1zM459.11 278.06h1v1h-1zM465.46 278.06h1v1h-1zM471.82 278.06h1v1h-1zM478.17 278.06h1v1h-1zM484.53 278.06h1v1h-1zM490.88 278.06h1v1h-1zM497.23 278.06h1v1h-1zM503.59 278.06h1v1h-1zM509.94 278.06h1v1h-1zM516.3 278.06h1v1h-1zM522.65 278.06h1v1h-1zM529 278.06h1v1h-1zM535.36 278.06h1v1h-1zM541.71 278.06h1v1h-1zM548.07 278.06h1v1h-1zM554.42 278.06h1v1h-1zM560.77 278.06h1v1h-1zM567.13 278.06h1v1h-1zM573.48 278.06h1v1h-1zM579.84 278.06h1v1h-1zM586.19 278.06h1v1h-1zM592.54 278.06h1v1h-1zM598.9 278.06h1v1h-1zM605.25 278.06h1v1h-1zM611.61 278.06h1v1h-1zM617.96 278.06h1v1h-1zM624.31 278.06h1v1h-1zM630.67 278.06h1v1h-1zM637.02 278.06h1v1h-1zM643.38 278.06h1v1h-1zM649.73 278.06h1v1h-1zM656.08 278.06h1v1h-1zM662.44 278.06h1v1h-1zM668.79 278.06h1v1h-1zM675.15 278.06h1v1h-1zM370.15 301.62h1v1h-1zM376.51 301.62h1v1h-1zM382.86 301.62h1v1h-1zM389.22 301.62h1v1h-1zM395.57 301.62h1v1h-1zM401.92 301.62h1v1h-1zM408.28 301.62h1v1h-1zM414.63 301.62h1v1h-1zM420.99 301.62h1v1h-1zM427.34 301.62h1v1h-1zM433.69 301.62h1v1h-1zM440.05 301.62h1v1h-1zM446.4 301.62h1v1h-1zM452.76 301.62h1v1h-1zM459.11 301.62h1v1h-1zM465.46 301.62h1v1h-1zM471.82 301.62h1v1h-1zM478.17 301.62h1v1h-1zM484.53 301.62h1v1h-1zM490.88 301.62h1v1h-1zM497.23 301.62h1v1h-1zM503.59 301.62h1v1h-1zM509.94 301.62h1v1h-1zM516.3 301.62h1v1h-1zM522.65 301.62h1v1h-1zM529 301.62h1v1h-1zM535.36 301.62h1v1h-1zM541.71 301.62h1v1h-1zM548.07 301.62h1v1h-1zM554.42 301.62h1v1h-1zM560.77 301.62h1v1h-1zM567.13 301.62h1v1h-1zM573.48 301.62h1v1h-1zM579.84 301.62h1v1h-1zM586.19 301.62h1v1h-1zM592.54 301.62h1v1h-1zM598.9 301.62h1v1h-1zM605.25 301.62h1v1h-1zM611.61 301.62h1v1h-1zM617.96 301.62h1v1h-1zM624.31 301.62h1v1h-1zM630.67 301.62h1v1h-1zM637.02 301.62h1v1h-1zM643.38 301.62h1v1h-1zM649.73 301.62h1v1h-1zM656.08 301.62h1v1h-1zM662.44 301.62h1v1h-1zM668.79 301.62h1v1h-1zM675.15 301.62h1v1h-1zM370.15 325.19h1v1h-1zM376.51 325.19h1v1h-1zM382.86 325.19h1v1h-1zM389.22 325.19h1v1h-1zM395.57 325.19h1v1h-1zM401.92 325.19h1v1h-1zM408.28 325.19h1v1h-1zM414.63 325.19h1v1h-1zM420.99 325.19h1v1h-1zM427.34 325.19h1v1h-1zM433.69 325.19h1v1h-1zM440.05 325.19h1v1h-1zM446.4 325.19h1v1h-1zM452.76 325.19h1v1h-1zM459.11 325.19h1v1h-1zM465.46 325.19h1v1h-1zM471.82 325.19h1v1h-1zM478.17 325.19h1v1h-1zM484.53 325.19h1v1h-1zM490.88 325.19h1v1h-1zM497.23 325.19h1v1h-1zM503.59 325.19h1v1h-1zM509.94 325.19h1v1h-1zM516.3 325.19h1v1h-1zM522.65 325.19h1v1h-1zM529 325.19h1v1h-1zM535.36 325.19h1v1h-1zM541.71 325.19h1v1h-1zM548.07 325.19h1v1h-1zM554.42 325.19h1v1h-1zM560.77 325.19h1v1h-1zM567.13 325.19h1v1h-1zM573.48 325.19h1v1h-1zM579.84 325.19h1v1h-1zM586.19 325.19h1v1h-1zM592.54 325.19h1v1h-1zM598.9 325.19h1v1h-1zM605.25 325.19h1v1h-1zM611.61 325.19h1v1h-1zM617.96 325.19h1v1h-1zM624.31 325.19h1v1h-1zM630.67 325.19h1v1h-1zM637.02 325.19h1v1h-1zM643.38 325.19h1v1h-1zM649.73 325.19h1v1h-1zM656.08 325.19h1v1h-1zM662.44 325.19h1v1h-1zM668.79 325.19h1v1h-1zM675.15 325.19h1v1h-1zM370.15 372.31h1v1h-1zM376.51 372.31h1v1h-1zM382.86 372.31h1v1h-1zM389.22 372.31h1v1h-1zM395.57 372.31h1v1h-1zM401.92 372.31h1v1h-1zM408.28 372.31h1v1h-1zM414.63 372.31h1v1h-1zM420.99 372.31h1v1h-1zM427.34 372.31h1v1h-1zM433.69 372.31h1v1h-1zM440.05 372.31h1v1h-1zM446.4 372.31h1v1h-1zM452.76 372.31h1v1h-1zM459.11 372.31h1v1h-1zM465.46 372.31h1v1h-1zM471.82 372.31h1v1h-1zM478.17 372.31h1v1h-1zM484.53 372.31h1v1h-1zM490.88 372.31h1v1h-1zM497.23 372.31h1v1h-1zM503.59 372.31h1v1h-1zM509.94 372.31h1v1h-1zM516.3 372.31h1v1h-1zM522.65 372.31h1v1h-1zM529 372.31h1v1h-1zM535.36 372.31h1v1h-1zM541.71 372.31h1v1h-1zM548.07 372.31h1v1h-1zM554.42 372.31h1v1h-1zM560.77 372.31h1v1h-1zM567.13 372.31h1v1h-1zM573.48 372.31h1v1h-1zM579.84 372.31h1v1h-1zM586.19 372.31h1v1h-1zM592.54 372.31h1v1h-1zM598.9 372.31h1v1h-1zM605.25 372.31h1v1h-1zM611.61 372.31h1v1h-1zM617.96 372.31h1v1h-1zM624.31 372.31h1v1h-1zM630.67 372.31h1v1h-1zM637.02 372.31h1v1h-1zM643.38 372.31h1v1h-1zM649.73 372.31h1v1h-1zM656.08 372.31h1v1h-1zM662.44 372.31h1v1h-1zM668.79 372.31h1v1h-1zM675.15 372.31h1v1h-1zM370.15 395.88h1v1h-1zM376.51 395.88h1v1h-1zM382.86 395.88h1v1h-1zM389.22 395.88h1v1h-1zM395.57 395.88h1v1h-1zM401.92 395.88h1v1h-1zM408.28 395.88h1v1h-1zM414.63 395.88h1v1h-1zM420.99 395.88h1v1h-1zM427.34 395.88h1v1h-1zM433.69 395.88h1v1h-1zM440.05 395.88h1v1h-1zM446.4 395.88h1v1h-1zM452.76 395.88h1v1h-1zM459.11 395.88h1v1h-1zM465.46 395.88h1v1h-1zM471.82 395.88h1v1h-1zM478.17 395.88h1v1h-1zM484.53 395.88h1v1h-1zM490.88 395.88h1v1h-1zM497.23 395.88h1v1h-1zM503.59 395.88h1v1h-1zM509.94 395.88h1v1h-1zM516.3 395.88h1v1h-1zM522.65 395.88h1v1h-1zM529 395.88h1v1h-1zM535.36 395.88h1v1h-1zM541.71 395.88h1v1h-1zM548.07 395.88h1v1h-1zM554.42 395.88h1v1h-1zM560.77 395.88h1v1h-1zM567.13 395.88h1v1h-1zM573.48 395.88h1v1h-1zM579.84 395.88h1v1h-1zM586.19 395.88h1v1h-1zM592.54 395.88h1v1h-1zM598.9 395.88h1v1h-1zM605.25 395.88h1v1h-1zM611.61 395.88h1v1h-1zM617.96 395.88h1v1h-1zM624.31 395.88h1v1h-1zM630.67 395.88h1v1h-1zM637.02 395.88h1v1h-1zM643.38 395.88h1v1h-1zM649.73 395.88h1v1h-1zM656.08 395.88h1v1h-1zM662.44 395.88h1v1h-1zM668.79 395.88h1v1h-1zM675.15 395.88h1v1h-1zM370.15 419.44h1v1h-1zM376.51 419.44h1v1h-1zM382.86 419.44h1v1h-1zM389.22 419.44h1v1h-1zM395.57 419.44h1v1h-1zM401.92 419.44h1v1h-1zM408.28 419.44h1v1h-1zM414.63 419.44h1v1h-1zM420.99 419.44h1v1h-1zM427.34 419.44h1v1h-1zM433.69 419.44h1v1h-1zM440.05 419.44h1v1h-1zM446.4 419.44h1v1h-1zM452.76 419.44h1v1h-1zM459.11 419.44h1v1h-1zM465.46 419.44h1v1h-1zM471.82 419.44h1v1h-1zM478.17 419.44h1v1h-1zM484.53 419.44h1v1h-1zM490.88 419.44h1v1h-1zM497.23 419.44h1v1h-1zM503.59 419.44h1v1h-1zM509.94 419.44h1v1h-1zM516.3 419.44h1v1h-1zM522.65 419.44h1v1h-1zM529 419.44h1v1h-1zM535.36 419.44h1v1h-1zM541.71 419.44h1v1h-1zM548.07 419.44h1v1h-1zM554.42 419.44h1v1h-1zM560.77 419.44h1v1h-1zM567.13 419.44h1v1h-1zM573.48 419.44h1v1h-1zM579.84 419.44h1v1h-1zM586.19 419.44h1v1h-1zM592.54 419.44h1v1h-1zM598.9 419.44h1v1h-1zM605.25 419.44h1v1h-1zM611.61 419.44h1v1h-1zM617.96 419.44h1v1h-1zM624.31 419.44h1v1h-1zM630.67 419.44h1v1h-1zM637.02 419.44h1v1h-1zM643.38 419.44h1v1h-1zM649.73 419.44h1v1h-1zM656.08 419.44h1v1h-1zM662.44 419.44h1v1h-1zM668.79 419.44h1v1h-1zM675.15 419.44h1v1h-1z" fill="#8a8a8a"/>
<rect x="362.9" y="254.4" width="1.6" height="189.1" fill="#dedede"/>
<rect x="362.9" y="254.4" width="319.1" height="1.3" fill="#dcdcdc"/>
<rect x="681.5" y="254.4" width="1.5" height="189.7" fill="#8c8c8c"/>
<rect x="362.9" y="442.7" width="320.1" height="2.4" fill="#4a4a4a"/>
<path d="M370.65 255v1.6M370.65 442.5v-1.6M377.01 255v1.6M377.01 442.5v-1.6M383.36 255v1.6M383.36 442.5v-1.6M389.72 255v1.6M389.72 442.5v-1.6M396.07 255v1.6M396.07 442.5v-1.6M402.42 255v1.6M402.42 442.5v-1.6M408.78 255v1.6M408.78 442.5v-1.6M415.13 255v1.6M415.13 442.5v-1.6M421.49 255v1.6M421.49 442.5v-1.6M427.84 255v1.6M427.84 442.5v-1.6M434.19 255v1.6M434.19 442.5v-1.6M440.55 255v1.6M440.55 442.5v-1.6M446.9 255v1.6M446.9 442.5v-1.6M453.26 255v1.6M453.26 442.5v-1.6M459.61 255v1.6M459.61 442.5v-1.6M465.96 255v1.6M465.96 442.5v-1.6M472.32 255v1.6M472.32 442.5v-1.6M478.67 255v1.6M478.67 442.5v-1.6M485.03 255v1.6M485.03 442.5v-1.6M491.38 255v1.6M491.38 442.5v-1.6M497.73 255v1.6M497.73 442.5v-1.6M504.09 255v1.6M504.09 442.5v-1.6M510.44 255v1.6M510.44 442.5v-1.6M516.8 255v1.6M516.8 442.5v-1.6M523.15 255v1.6M523.15 442.5v-1.6M529.5 255v1.6M529.5 442.5v-1.6M535.86 255v1.6M535.86 442.5v-1.6M542.21 255v1.6M542.21 442.5v-1.6M548.57 255v1.6M548.57 442.5v-1.6M554.92 255v1.6M554.92 442.5v-1.6M561.27 255v1.6M561.27 442.5v-1.6M567.63 255v1.6M567.63 442.5v-1.6M573.98 255v1.6M573.98 442.5v-1.6M580.34 255v1.6M580.34 442.5v-1.6M586.69 255v1.6M586.69 442.5v-1.6M593.04 255v1.6M593.04 442.5v-1.6M599.4 255v1.6M599.4 442.5v-1.6M605.75 255v1.6M605.75 442.5v-1.6M612.11 255v1.6M612.11 442.5v-1.6M618.46 255v1.6M618.46 442.5v-1.6M624.81 255v1.6M624.81 442.5v-1.6M631.17 255v1.6M631.17 442.5v-1.6M637.52 255v1.6M637.52 442.5v-1.6M643.88 255v1.6M643.88 442.5v-1.6M650.23 255v1.6M650.23 442.5v-1.6M656.58 255v1.6M656.58 442.5v-1.6M662.94 255v1.6M662.94 442.5v-1.6M669.29 255v1.6M669.29 442.5v-1.6M675.65 255v1.6M675.65 442.5v-1.6M364.3 259.71h1.6M681.2 259.71h-1.6M364.3 264.43h1.6M681.2 264.43h-1.6M364.3 269.14h1.6M681.2 269.14h-1.6M364.3 273.85h1.6M681.2 273.85h-1.6M364.3 278.56h1.6M681.2 278.56h-1.6M364.3 283.27h1.6M681.2 283.27h-1.6M364.3 287.99h1.6M681.2 287.99h-1.6M364.3 292.7h1.6M681.2 292.7h-1.6M364.3 297.41h1.6M681.2 297.41h-1.6M364.3 302.12h1.6M681.2 302.12h-1.6M364.3 306.84h1.6M681.2 306.84h-1.6M364.3 311.55h1.6M681.2 311.55h-1.6M364.3 316.26h1.6M681.2 316.26h-1.6M364.3 320.98h1.6M681.2 320.98h-1.6M364.3 325.69h1.6M681.2 325.69h-1.6M364.3 330.4h1.6M681.2 330.4h-1.6M364.3 335.11h1.6M681.2 335.11h-1.6M364.3 339.82h1.6M681.2 339.82h-1.6M364.3 344.54h1.6M681.2 344.54h-1.6M364.3 349.25h1.6M681.2 349.25h-1.6M364.3 353.96h1.6M681.2 353.96h-1.6M364.3 358.68h1.6M681.2 358.68h-1.6M364.3 363.39h1.6M681.2 363.39h-1.6M364.3 368.1h1.6M681.2 368.1h-1.6M364.3 372.81h1.6M681.2 372.81h-1.6M364.3 377.52h1.6M681.2 377.52h-1.6M364.3 382.24h1.6M681.2 382.24h-1.6M364.3 386.95h1.6M681.2 386.95h-1.6M364.3 391.66h1.6M681.2 391.66h-1.6M364.3 396.38h1.6M681.2 396.38h-1.6M364.3 401.09h1.6M681.2 401.09h-1.6M364.3 405.8h1.6M681.2 405.8h-1.6M364.3 410.51h1.6M681.2 410.51h-1.6M364.3 415.23h1.6M681.2 415.23h-1.6M364.3 419.94h1.6M681.2 419.94h-1.6M364.3 424.65h1.6M681.2 424.65h-1.6M364.3 429.36h1.6M681.2 429.36h-1.6M364.3 434.07h1.6M681.2 434.07h-1.6M364.3 438.79h1.6M681.2 438.79h-1.6" stroke="#777" stroke-width="1" fill="none"/>
<line x1="523.15" y1="255" x2="523.15" y2="442.5" stroke="#b4b4b4" stroke-width="1.7"/>
<line x1="364.3" y1="349.25" x2="681.2" y2="349.25" stroke="#999" stroke-width="1.5"/>
<path d="M370.65 347.75v3M377.01 347.75v3M383.36 347.75v3M389.72 347.75v3M396.07 347.75v3M402.42 347.75v3M408.78 347.75v3M415.13 347.75v3M421.49 347.75v3M427.84 347.75v3M434.19 347.75v3M440.55 347.75v3M446.9 347.75v3M453.26 347.75v3M459.61 347.75v3M465.96 347.75v3M472.32 347.75v3M478.67 347.75v3M485.03 347.75v3M491.38 347.75v3M497.73 347.75v3M504.09 347.75v3M510.44 347.75v3M516.8 347.75v3M523.15 347.75v3M529.5 347.75v3M535.86 347.75v3M542.21 347.75v3M548.57 347.75v3M554.92 347.75v3M561.27 347.75v3M567.63 347.75v3M573.98 347.75v3M580.34 347.75v3M586.69 347.75v3M593.04 347.75v3M599.4 347.75v3M605.75 347.75v3M612.11 347.75v3M618.46 347.75v3M624.81 347.75v3M631.17 347.75v3M637.52 347.75v3M643.88 347.75v3M650.23 347.75v3M656.58 347.75v3M662.94 347.75v3M669.29 347.75v3M675.65 347.75v3M521.65 259.71h3M521.65 264.43h3M521.65 269.14h3M521.65 273.85h3M521.65 278.56h3M521.65 283.27h3M521.65 287.99h3M521.65 292.7h3M521.65 297.41h3M521.65 302.12h3M521.65 306.84h3M521.65 311.55h3M521.65 316.26h3M521.65 320.98h3M521.65 325.69h3M521.65 330.4h3M521.65 335.11h3M521.65 339.82h3M521.65 344.54h3M521.65 349.25h3M521.65 353.96h3M521.65 358.68h3M521.65 363.39h3M521.65 368.1h3M521.65 372.81h3M521.65 377.52h3M521.65 382.24h3M521.65 386.95h3M521.65 391.66h3M521.65 396.38h3M521.65 401.09h3M521.65 405.8h3M521.65 410.51h3M521.65 415.23h3M521.65 419.94h3M521.65 424.65h3M521.65 429.36h3M521.65 434.07h3M521.65 438.79h3" stroke="#707070" stroke-width="1" fill="none"/>
<path d="M520.95 254.6h4.4l-2.2 2.4z" fill="#f7941d"/>
<g clip-path="url(#cpd)">
<polyline points="363.9,388.53 365,379.55 366.1,388.23 367.2,380.63 368.3,391.67 369.4,374.51 370.5,391.17 371.6,376.16 372.7,392.69 373.8,378.43 374.9,389.79 376,375.11 377.1,385.57 378.2,375.66 379.3,384.58 380.4,373.73 381.5,384.87 382.6,371.3 383.7,386.83 384.8,370.64 385.9,379.51 387,365 388.1,383.28 389.2,364.32 390.3,380.19 391.4,368.06 392.5,374.15 393.6,358.69 394.7,375.58 395.8,362.39 396.9,370.57 398,358.56 399.1,363.58 400.2,356.5 401.3,363.65 402.4,354.27 403.5,356.74 404.6,350.31 405.7,360.2 406.8,341.06 407.9,351.11 409,341.14 410.1,355.72 411.2,336.82 412.3,347.79 413.4,328.98 414.5,344.64 415.6,332.27 416.7,339.72 417.8,329.31 418.9,333.64 420,326.91 421.1,333.03 422.2,325.34 423.3,332 424.4,315.41 425.5,331.46 426.6,314.07 427.7,328.86 428.8,315.81 429.9,320.69 431,312.52 432.1,319.98 433.2,309.35 434.3,320.03 435.4,307.99 436.5,315.73 437.6,304.33 438.7,317.15 439.8,302.45 440.9,316.05 442,303.59 443.1,318.69 444.2,301.99 445.3,315.67 446.4,298.07 447.5,311.45 448.6,301.59 449.7,312.64 450.8,304.88 451.9,317.97 453,301.09 454.1,314.3 455.2,304.19 456.3,317.36 457.4,302.12 458.5,318.09 459.6,308.16 460.7,315.68 461.8,306.58 462.9,317.76 464,310.83 465.1,319.61 466.2,307.3 467.3,323.1 468.4,318.94 469.5,323.21 470.6,316.84 471.7,330.75 472.8,317.01 473.9,332.8 475,323.83 476.1,334.59 477.2,327.96 478.3,337.33 479.4,329.82 480.5,339.53 481.6,325.35 482.7,345.39 483.8,332.43 484.9,350.38 486,336.09 487.1,352.05 488.2,341.19 489.3,350.54 490.4,345.97 491.5,361.23 492.6,346.28 493.7,358.35 494.8,354.99 495.9,363.23 497,352.93 498.1,364.85 499.2,355.42 500.3,373.46 501.4,353.26 502.5,373.06 503.6,365.97 504.7,377.96 505.8,365.34 506.9,378.51 508,362.69 509.1,377.06 510.2,374.2 511.3,382.82 512.4,366.58 513.5,388.29 514.6,372.36 515.7,388.33 516.8,379.42 517.9,384.29 519,375.86 520.1,392.57 521.2,375.4 522.3,390.03 523.4,378.83 524.5,390.85 525.6,380.33 526.7,387.03 527.8,380.52 528.9,397.51 530,380.6 531.1,391.39 532.2,379.71 533.3,391.99 534.4,380.31 535.5,391.03 536.6,373.71 537.7,385.75 538.8,374.72 539.9,390.34 541,378.04 542.1,385.87 543.2,375.18 544.3,381.41 545.4,369.85 546.5,379.5 547.6,365.2 548.7,378.14 549.8,366.02 550.9,379.68 552,366.1 553.1,371.06 554.2,357.38 555.3,369.01 556.4,357.16 557.5,364.84 558.6,355.02 559.7,364.49 560.8,352.9 561.9,363.59 563,345.96 564.1,365.26 565.2,342.67 566.3,354.83 567.4,341.66 568.5,349.78 569.6,337.26 570.7,351.09 571.8,333.67 572.9,348.22 574,334.81 575.1,344.53 576.2,331.21 577.3,339.9 578.4,322.96 579.5,337.28 580.6,323.59 581.7,339.22 582.8,323.84 583.9,329.77 585,321.1 586.1,323.99 587.2,313.24 588.3,324.03 589.4,315.29 590.5,324.66 591.6,304.82 592.7,320.71 593.8,308.09 594.9,326.06 596,307.18 597.1,321.09 598.2,309.66 599.3,315.76 600.4,305.17 601.5,319.58 602.6,308.08 603.7,317.77 604.8,304.14 605.9,317.03 607,300.72 608.1,313.99 609.2,306.07 610.3,313.45 611.4,303.75 612.5,312.14 613.6,304.9 614.7,318.46 615.8,301.77 616.9,320.71 618,303.21 619.1,319.91 620.2,310.78 621.3,320.34 622.4,302.69 623.5,321.48 624.6,313.94 625.7,326.12 626.8,317.73 627.9,326.11 629,310.45 630.1,328.22 631.2,316.16 632.3,336.14 633.4,320.77 634.5,335.09 635.6,323.88 636.7,338.22 637.8,327.63 638.9,346.72 640,333.38 641.1,344.85 642.2,334.36 643.3,347.6 644.4,334.17 645.5,352.33 646.6,337.84 647.7,354.57 648.8,341.35 649.9,355.78 651,344.89 652.1,358.17 653.2,351.17 654.3,359.21 655.4,355.02 656.5,361.75 657.6,359.31 658.7,366.99 659.8,356.05 660.9,368.06 662,354.9 663.1,371.12 664.2,364.42 665.3,376.41 666.4,363.83 667.5,383.1 668.6,372.1 669.7,383.97 670.8,365.69 671.9,386.79 673,375.35 674.1,387.69 675.2,376.24 676.3,388.82 677.4,376.86 678.5,389.6 679.6,374.58 680.7,396.24" fill="none" stroke="#00c2c2" stroke-width="0.9" stroke-linejoin="round" stroke-opacity="0.85"/>
<polyline points="364.45,386.55 365.55,382.74 366.65,391.61 367.75,381.78 368.85,387.49 369.95,378.36 371.05,392.76 372.15,375.81 373.25,393.02 374.35,372.57 375.45,387.88 376.55,370.75 377.65,394.05 378.75,374.4 379.85,386.66 380.95,373.18 382.05,388.38 383.15,376.93 384.25,382.34 385.35,372.26 386.45,383.07 387.55,368.2 388.65,380.08 389.75,367.64 390.85,375.06 391.95,363.66 393.05,371.41 394.15,364.05 395.25,369.42 396.35,360.33 397.45,367.84 398.55,352.51 399.65,363.72 400.75,351.14 401.85,360.74 402.95,353.17 404.05,358.95 405.15,346.85 406.25,352.95 407.35,343.06 408.45,350.68 409.55,342.36 410.65,345.78 411.75,340.43 412.85,342.6 413.95,335.91 415.05,346.67 416.15,327.37 417.25,340.76 418.35,329.41 419.45,340.54 420.55,326.73 421.65,334.89 422.75,315.04 423.85,327.43 424.95,319.7 426.05,330.96 427.15,313.21 428.25,327.96 429.35,312.2 430.45,326.3 431.55,310.83 432.65,318.39 433.75,310.42 434.85,318.15 435.95,310.99 437.05,321.73 438.15,309.44 439.25,318.89 440.35,308.58 441.45,313.82 442.55,306.13 443.65,311.42 444.75,304.53 445.85,317.52 446.95,306.83 448.05,316.8 449.15,301.64 450.25,314.64 451.35,303.25 452.45,311.27 453.55,306.38 454.65,318.33 455.75,303.39 456.85,318.47 457.95,302.62 459.05,317.3 460.15,304.5 461.25,317 462.35,308.34 463.45,317.31 464.55,311.74 465.65,322.92 466.75,311.72 467.85,322.32 468.95,316.6 470.05,325.6 471.15,319.77 472.25,337.35 473.35,319.19 474.45,329.73 475.55,319.78 476.65,337.32 477.75,328.89 478.85,342.17 479.95,323.97 481.05,340.9 482.15,332.54 483.25,346.9 484.35,339.02 485.45,354.63 486.55,335.27 487.65,352.51 488.75,343.92 489.85,354.72 490.95,349.21 492.05,360.34 493.15,352.41 494.25,360.23 495.35,353.95 496.45,366.32 497.55,359.02 498.65,366.65 499.75,360.81 500.85,368.65 501.95,362.73 503.05,374.92 504.15,363.92 505.25,376.79 506.35,368.87 507.45,381.8 508.55,371.96 509.65,383.33 510.75,369.34 511.85,384.61 512.95,372.83 514.05,382.65 515.15,377.47 516.25,386 517.35,377.89 518.45,389.1 519.55,381.1 520.65,386.64 521.75,380.83 522.85,387.72 523.95,382.24 525.05,389.46 526.15,382.23 527.25,389.04 528.35,382.3 529.45,386.84 530.55,381.7 531.65,388.28 532.75,375.58 533.85,388.65 534.95,375.66 536.05,385.77 537.15,378.85 538.25,384 539.35,373.31 540.45,385.33 541.55,373.59 542.65,382.48 543.75,375.65 544.85,380.28 545.95,374.19 547.05,383.31 548.15,370.94 549.25,380.34 550.35,364.71 551.45,376.83 552.55,362.69 553.65,372.93 554.75,360.75 555.85,369.1 556.95,357.31 558.05,366.43 559.15,351.95 560.25,366.46 561.35,352.71 562.45,360.03 563.55,344.71 564.65,354.2 565.75,345.81 566.85,354.39 567.95,342.52 569.05,352.23 570.15,331.22 571.25,348.98 572.35,335.67 573.45,343.79 574.55,330.56 575.65,337.34 576.75,323.07 577.85,338.7 578.95,325.99 580.05,335.66 581.15,319.75 582.25,330.86 583.35,316.71 584.45,327.72 585.55,314.11 586.65,331.09 587.75,318.82 588.85,327.86 589.95,313.65 591.05,320.44 592.15,308.62 593.25,324.15 594.35,307.53 595.45,317.89 596.55,304.46 597.65,318.32 598.75,302.23 599.85,318.98 600.95,306.67 602.05,314.89 603.15,304.5 604.25,311.09 605.35,303.33 606.45,315.42 607.55,297.02 608.65,315.79 609.75,307.49 610.85,322.26 611.95,302.75 613.05,321.01 614.15,303.45 615.25,319.2 616.35,305.82 617.45,316.98 618.55,304.73 619.65,321.67 620.75,306.65 621.85,323.22 622.95,313.23 624.05,319.46 625.15,315.07 626.25,321.25 627.35,317.72 628.45,324.22 629.55,315.33 630.65,330.86 631.75,317.87 632.85,335.61 633.95,318.38 635.05,331.93 636.15,328.9 637.25,334.03 638.35,328.71 639.45,339.49 640.55,333.8 641.65,340.52 642.75,330.66 643.85,350.74 644.95,341.35 646.05,350.96 647.15,338.32 648.25,351.24 649.35,338.37 650.45,358.76 651.55,349.71 652.65,360.43 653.75,353.91 654.85,364.95 655.95,357.42 657.05,363.39 658.15,354.57 659.25,371.08 660.35,358.56 661.45,373.83 662.55,363.5 663.65,373.79 664.75,362.85 665.85,377.55 666.95,370.08 668.05,385.03 669.15,369.12 670.25,380.41 671.35,374.1 672.45,383.62 673.55,377.11 674.65,386.73 675.75,374.25 676.85,388.3 677.95,377.72 679.05,386.81 680.15,374.96 681.25,389.52" fill="none" stroke="#009a9a" stroke-width="0.9" stroke-linejoin="round" stroke-opacity="0.7"/>
<polyline points="363.9,333.76 365,321.25 366.1,338.19 367.2,326.61 368.3,337.81 369.4,325.3 370.5,340.77 371.6,333.81 372.7,340.77 373.8,333.1 374.9,343.28 376,337.26 377.1,350.41 378.2,340.45 379.3,356.56 380.4,344.81 381.5,359.13 382.6,347.68 383.7,356.41 384.8,352.88 385.9,359.02 387,355.95 388.1,362.57 389.2,354.82 390.3,368.04 391.4,355.73 392.5,373.54 393.6,365.92 394.7,377.51 395.8,368.32 396.9,380.57 398,364.74 399.1,376.46 400.2,366.54 401.3,382.07 402.4,369.88 403.5,387.34 404.6,377.3 405.7,388.3 406.8,379.86 407.9,387.27 409,377.38 410.1,390.14 411.2,378.42 412.3,391.68 413.4,382.56 414.5,390.94 415.6,377.78 416.7,388.69 417.8,383.26 418.9,391.13 420,378.38 421.1,396.8 422.2,380.21 423.3,390.05 424.4,385.37 425.5,391.76 426.6,378.33 427.7,390.18 428.8,378.64 429.9,394.39 431,381.08 432.1,387.99 433.2,374.6 434.3,386.9 435.4,376.74 436.5,387.46 437.6,378.4 438.7,387.96 439.8,372.34 440.9,383.77 442,372.91 443.1,380.66 444.2,367.57 445.3,381.28 446.4,364.62 447.5,374.95 448.6,362.63 449.7,374.99 450.8,362.24 451.9,372.38 453,357.34 454.1,371.06 455.2,352.75 456.3,361.5 457.4,352.82 458.5,364.09 459.6,348.62 460.7,356.61 461.8,341.78 462.9,354.62 464,342.87 465.1,348.13 466.2,342.72 467.3,347.38 468.4,337.85 469.5,347.54 470.6,333.95 471.7,344.71 472.8,330.02 473.9,336.74 475,324.63 476.1,333.7 477.2,321.37 478.3,331.13 479.4,324.12 480.5,333.57 481.6,321.44 482.7,329.4 483.8,318.13 484.9,325.77 486,315.47 487.1,329.88 488.2,317.18 489.3,324.63 490.4,315.58 491.5,322.43 492.6,315.69 493.7,325.01 494.8,314.42 495.9,320.08 497,310.83 498.1,322.67 499.2,308.62 500.3,320.78 501.4,312.19 502.5,322.3 503.6,310.93 504.7,318.23 505.8,306.91 506.9,318.6 508,310.71 509.1,323.38 510.2,312.23 511.3,327.21 512.4,317.04 513.5,327.41 514.6,312.06 515.7,329.61 516.8,318.28 517.9,333.44 519,315.51 520.1,333.66 521.2,318.96 522.3,331.4 523.4,323.39 524.5,337.32 525.6,323.67 526.7,340.89 527.8,325.98 528.9,341.47 530,331.08 531.1,345.9 532.2,336.2 533.3,345.44 534.4,338.73 535.5,347.14 536.6,341.16 537.7,351.8 538.8,345.44 539.9,358.26 541,349.02 542.1,365.33 543.2,350.54 544.3,363.53 545.4,355.42 546.5,367.83 547.6,351.04 548.7,367.79 549.8,360.55 550.9,371.88 552,362.85 553.1,372.66 554.2,363.85 555.3,377.88 556.4,368.71 557.5,374.39 558.6,363.31 559.7,382.9 560.8,368.92 561.9,383.55 563,370.09 564.1,381.15 565.2,376.58 566.3,389.63 567.4,376.57 568.5,388.48 569.6,375.51 570.7,386.07 571.8,382.33 572.9,389.68 574,383.02 575.1,393.77 576.2,379.97 577.3,388.83 578.4,379.69 579.5,391.01 580.6,385.08 581.7,396.23 582.8,380.24 583.9,394.13 585,381.87 586.1,392.2 587.2,382.81 588.3,392.74 589.4,374.44 590.5,390.9 591.6,376.25 592.7,386.84 593.8,377.53 594.9,388.1 596,380 597.1,390.72 598.2,370.4 599.3,382.98 600.4,370.8 601.5,387.92 602.6,367.06 603.7,383.42 604.8,363.87 605.9,374.02 607,362.46 608.1,380.67 609.2,360.04 610.3,374.74 611.4,358.85 612.5,368.54 613.6,359.14 614.7,366.76 615.8,354.08 616.9,360.62 618,348.28 619.1,356.08 620.2,344.98 621.3,360.33 622.4,344.64 623.5,349.74 624.6,337.35 625.7,351.17 626.8,331.94 627.9,348.99 629,336.87 630.1,342.91 631.2,333.92 632.3,340.74 633.4,330.7 634.5,337.63 635.6,325.28 636.7,337.85 637.8,327.3 638.9,341.22 640,320.3 641.1,329.41 642.2,317.78 643.3,328.12 644.4,317.22 645.5,324.87 646.6,312.01 647.7,329.79 648.8,312.99 649.9,323.38 651,309.29 652.1,324.48 653.2,310.33 654.3,318.31 655.4,311.45 656.5,321.31 657.6,306.48 658.7,320.73 659.8,313.43 660.9,323.2 662,313.32 663.1,319.64 664.2,311.25 665.3,317.71 666.4,308.93 667.5,318.61 668.6,310.43 669.7,321.38 670.8,313.95 671.9,323.16 673,310.1 674.1,326.44 675.2,312.66 676.3,330.44 677.4,319.09 678.5,328.51 679.6,321.9 680.7,333.08" fill="none" stroke="#cc00cc" stroke-width="0.9" stroke-linejoin="round" stroke-opacity="0.85"/>
<polyline points="364.45,334.16 365.55,325.07 366.65,335.74 367.75,323.4 368.85,335.72 369.95,331.11 371.05,345.84 372.15,330.94 373.25,341.75 374.35,334.68 375.45,351.44 376.55,338.89 377.65,357.67 378.75,345.03 379.85,357.84 380.95,342.56 382.05,360.69 383.15,348.1 384.25,361.19 385.35,353.4 386.45,363.05 387.55,352.53 388.65,363.82 389.75,353.93 390.85,366.53 391.95,357.46 393.05,370.71 394.15,365.32 395.25,374.6 396.35,367.08 397.45,378.97 398.55,361.52 399.65,376.34 400.75,371.23 401.85,381.71 402.95,374.77 404.05,384.13 405.15,371.65 406.25,383.62 407.35,376.8 408.45,393.21 409.55,376.83 410.65,390.63 411.75,379.84 412.85,389.74 413.95,383.31 415.05,392.57 416.15,385.04 417.25,393.25 418.35,377.82 419.45,390.04 420.55,385.18 421.65,390.4 422.75,381.02 423.85,392.78 424.95,378.39 426.05,392.66 427.15,378.13 428.25,393.88 429.35,381.35 430.45,393.87 431.55,382.43 432.65,392.18 433.75,378.2 434.85,389.38 435.95,378.63 437.05,382.74 438.15,374.4 439.25,381.07 440.35,371.99 441.45,380.74 442.55,370.45 443.65,381.61 444.75,364.4 445.85,381.73 446.95,364.3 448.05,377.71 449.15,366.35 450.25,375.81 451.35,359.85 452.45,367.24 453.55,358.69 454.65,368.47 455.75,349.57 456.85,360.54 457.95,354.57 459.05,358 460.15,349.87 461.25,355.69 462.35,341.21 463.45,354.74 464.55,340.73 465.65,350.7 466.75,342.19 467.85,350.52 468.95,332.71 470.05,344.26 471.15,331.83 472.25,339.89 473.35,332.72 474.45,342.21 475.55,329.95 476.65,342.87 477.75,320.87 478.85,338.28 479.95,321.16 481.05,335.93 482.15,319.21 483.25,332.27 484.35,316.77 485.45,328.37 486.55,316.95 487.65,326.15 488.75,317.19 489.85,324.31 490.95,313.29 492.05,323.64 493.15,309.63 494.25,326.11 495.35,304.44 496.45,319.33 497.55,308.58 498.65,318.67 499.75,307.81 500.85,325.86 501.95,307.86 503.05,322.76 504.15,312.16 505.25,324.21 506.35,312.39 507.45,325.14 508.55,309.8 509.65,324.45 510.75,309.12 511.85,324.6 512.95,312.29 514.05,324.79 515.15,308.37 516.25,327.44 517.35,314.04 518.45,327.25 519.55,320.15 520.65,332.45 521.75,321.61 522.85,336.9 523.95,319.61 525.05,335.12 526.15,328.18 527.25,340 528.35,321.85 529.45,340.38 530.55,328.55 531.65,345.99 532.75,328.52 533.85,345.87 534.95,333.8 536.05,348.57 537.15,339.02 538.25,349.61 539.35,341.95 540.45,358.28 541.55,347.64 542.65,364.1 543.75,341.98 544.85,359.28 545.95,346.9 547.05,365.6 548.15,355.7 549.25,365.71 550.35,357.12 551.45,373.13 552.55,362.26 553.65,370.69 554.75,361.04 555.85,377.3 556.95,369.19 558.05,380.98 559.15,367.42 560.25,380.21 561.35,372.43 562.45,384.64 563.55,370.94 564.65,385.59 565.75,377.51 566.85,392.44 567.95,376.68 569.05,390.15 570.15,376.81 571.25,389.74 572.35,383.04 573.45,390.25 574.55,383.27 575.65,388.4 576.75,377.74 577.85,392 578.95,375.73 580.05,394.68 581.15,378.93 582.25,393.3 583.35,384.79 584.45,391.67 585.55,375 586.65,395.42 587.75,382.07 588.85,394.62 589.95,374.75 591.05,386.54 592.15,381.91 593.25,389.3 594.35,375.61 595.45,390.49 596.55,376.23 597.65,386.43 598.75,376.05 599.85,382.48 600.95,368.32 602.05,378.65 603.15,366.6 604.25,378.02 605.35,367.68 606.45,378.66 607.55,363.01 608.65,372.23 609.75,359.81 610.85,368.92 611.95,358.45 613.05,371.47 614.15,354.34 615.25,365.76 616.35,353.32 617.45,364.28 618.55,342.97 619.65,358.89 620.75,344.58 621.85,361.59 622.95,346.78 624.05,352.11 625.15,337.83 626.25,352.83 627.35,340.44 628.45,345.16 629.55,331.99 630.65,341.36 631.75,329.7 632.85,342.05 633.95,324.9 635.05,335.95 636.15,322.84 637.25,338.81 638.35,326.49 639.45,334.7 640.55,321.28 641.65,330.51 642.75,315.15 643.85,326.3 644.95,320.9 646.05,323.22 647.15,311.27 648.25,322.46 649.35,310.67 650.45,323.79 651.55,310.7 652.65,319.11 653.75,315.06 654.85,323.39 655.95,306.98 657.05,318.8 658.15,306.7 659.25,317.87 660.35,308.43 661.45,318.48 662.55,304.5 663.65,324.59 664.75,309.55 665.85,328.58 666.95,313.9 668.05,320.95 669.15,310.27 670.25,320.44 671.35,312.92 672.45,328 673.55,318.2 674.65,328.57 675.75,314.73 676.85,329.07 677.95,319.94 679.05,328.52 680.15,323.34 681.25,333.41" fill="none" stroke="#a800a8" stroke-width="0.9" stroke-linejoin="round" stroke-opacity="0.7"/>
<polyline points="363.9,341.55 365,328.71 366.1,337.48 367.2,325.06 368.3,332.84 369.4,323.25 370.5,332.42 371.6,319.58 372.7,326.51 373.8,319.82 374.9,330.52 376,316.09 377.1,326.04 378.2,316.41 379.3,323.92 380.4,310.81 381.5,323.76 382.6,312.78 383.7,321.84 384.8,307.55 385.9,318.4 387,309.07 388.1,324.99 389.2,306.88 390.3,314.31 391.4,304.66 392.5,317.69 393.6,302.49 394.7,314.2 395.8,301.82 396.9,317.76 398,302.56 399.1,318.62 400.2,304.3 401.3,316.47 402.4,303.07 403.5,318.35 404.6,310.43 405.7,323.15 406.8,307.9 407.9,324.68 409,309.03 410.1,322.36 411.2,311.5 412.3,320.87 413.4,312 414.5,330.59 415.6,310.12 416.7,332.42 417.8,320.59 418.9,328.63 420,322.33 421.1,337.22 422.2,321.66 423.3,336.04 424.4,327.26 425.5,336.48 426.6,327.57 427.7,341.06 428.8,334.94 429.9,345.5 431,334.77 432.1,349.08 433.2,342.42 434.3,352.82 435.4,340.09 436.5,353.01 437.6,343.59 438.7,356.37 439.8,351.44 440.9,363.49 442,350.65 443.1,365.11 444.2,359.81 445.3,370.16 446.4,356.11 447.5,370.75 448.6,362.12 449.7,376.81 450.8,368.8 451.9,376.84 453,364.15 454.1,384.69 455.2,366.62 456.3,383.48 457.4,370.87 458.5,387.05 459.6,373.29 460.7,382.55 461.8,376.97 462.9,387.49 464,380.04 465.1,386 466.2,382.31 467.3,389.64 468.4,381.68 469.5,393.37 470.6,382.52 471.7,392.6 472.8,373.87 473.9,387.63 475,382.85 476.1,394.28 477.2,380.04 478.3,393.48 479.4,378.78 480.5,389.43 481.6,376.66 482.7,391 483.8,374.74 484.9,388.88 486,374.4 487.1,384.26 488.2,372.96 489.3,387.62 490.4,377.08 491.5,382.73 492.6,374.76 493.7,378.99 494.8,366.9 495.9,379.71 497,363.51 498.1,380.59 499.2,363.14 500.3,376.77 501.4,355.31 502.5,376.42 503.6,362.53 504.7,370.74 505.8,356.04 506.9,362.49 508,355.09 509.1,361.76 510.2,346.22 511.3,360.29 512.4,349.96 513.5,359.05 514.6,339.27 515.7,351.93 516.8,341.7 517.9,352.82 519,338.64 520.1,344.12 521.2,335.06 522.3,339.06 523.4,330.21 524.5,343.53 525.6,323.57 526.7,338.74 527.8,327.5 528.9,336.7 530,324.83 531.1,327.55 532.2,315.49 533.3,330.37 534.4,319.56 535.5,332.83 536.6,318.45 537.7,326 538.8,312.78 539.9,319.09 541,309.13 542.1,318.78 543.2,308.8 544.3,319.94 545.4,304.93 546.5,315.39 547.6,305.86 548.7,317.8 549.8,299.62 550.9,313.62 552,304.33 553.1,317.22 554.2,305.76 555.3,314.76 556.4,309.58 557.5,315.01 558.6,299.67 559.7,316.72 560.8,308.05 561.9,319.59 563,305.85 564.1,319.57 565.2,307.4 566.3,318.94 567.4,313.44 568.5,323.06 569.6,313.76 570.7,321.14 571.8,310.54 572.9,325.99 574,314.81 575.1,328.84 576.2,314.45 577.3,329.17 578.4,324.13 579.5,331.19 580.6,321.17 581.7,335.82 582.8,326.86 583.9,341.12 585,327.23 586.1,340.4 587.2,326.43 588.3,347.39 589.4,334.21 590.5,346.71 591.6,341.65 592.7,348.58 593.8,341.46 594.9,352.69 596,348.4 597.1,354.17 598.2,342.85 599.3,361.13 600.4,354.94 601.5,367.71 602.6,355.21 603.7,364.51 604.8,359.05 605.9,375.43 607,354.67 608.1,380.61 609.2,359.75 610.3,374.13 611.4,363.04 612.5,382.21 613.6,366.58 614.7,381.23 615.8,372.11 616.9,380.33 618,374.99 619.1,382.64 620.2,375.54 621.3,383.61 622.4,372.45 623.5,387.86 624.6,380.03 625.7,387.3 626.8,378.95 627.9,394.03 629,382.82 630.1,389.83 631.2,376.29 632.3,392.59 633.4,383.86 634.5,392.94 635.6,373.86 636.7,390.85 637.8,381.04 638.9,391.5 640,377.76 641.1,388.72 642.2,381.57 643.3,390.37 644.4,376.56 645.5,387.86 646.6,379 647.7,382.49 648.8,374.3 649.9,384.42 651,373.87 652.1,380.52 653.2,368.05 654.3,384.35 655.4,371.68 656.5,374.91 657.6,366.66 658.7,376.13 659.8,366.05 660.9,371.76 662,361.3 663.1,369 664.2,351.01 665.3,363.37 666.4,351.06 667.5,359.94 668.6,345.65 669.7,359.81 670.8,348.13 671.9,356.93 673,344.79 674.1,354.56 675.2,339.61 676.3,354.26 677.4,335.18 678.5,346.27 679.6,333.61 680.7,344.61" fill="none" stroke="#0404c8" stroke-width="0.9" stroke-linejoin="round" stroke-opacity="0.85"/>
<polyline points="364.45,346.06 365.55,330.03 366.65,338.71 367.75,326.55 368.85,338.05 369.95,324.83 371.05,332.75 372.15,320.33 373.25,332.45 374.35,315.5 375.45,327.66 376.55,316.41 377.65,327.83 378.75,313.09 379.85,325.56 380.95,307.32 382.05,322.83 383.15,303.78 384.25,319.6 385.35,310.99 386.45,319.61 387.55,305.42 388.65,314.19 389.75,308.53 390.85,316.25 391.95,304.27 393.05,319.26 394.15,308.33 395.25,317.17 396.35,304.61 397.45,315.04 398.55,298.38 399.65,316.45 400.75,305.87 401.85,320.86 402.95,307.26 404.05,317.35 405.15,307.59 406.25,321.38 407.35,309.77 408.45,319.01 409.55,308.98 410.65,322.24 411.75,317.12 412.85,327.12 413.95,318.16 415.05,325.6 416.15,318.09 417.25,332.94 418.35,323.69 419.45,336.38 420.55,326.45 421.65,337.2 422.75,322.11 423.85,341.55 424.95,330.73 426.05,340.98 427.15,334.97 428.25,346.42 429.35,329.14 430.45,350 431.55,336.51 432.65,347.3 433.75,341.23 434.85,353.47 435.95,343.28 437.05,355.9 438.15,350.08 439.25,360.91 440.35,343.38 441.45,363.29 442.55,354.87 443.65,364.9 444.75,352.24 445.85,373.34 446.95,352.84 448.05,369.23 449.15,364.75 450.25,374.25 451.35,363.78 452.45,379.57 453.55,368.89 454.65,380.57 455.75,370.5 456.85,381 457.95,374.64 459.05,381.06 460.15,370.44 461.25,382.48 462.35,375.05 463.45,387.7 464.55,373.89 465.65,387.91 466.75,381.83 467.85,386.65 468.95,379.93 470.05,389.61 471.15,381.86 472.25,395.07 473.35,379.04 474.45,389.13 475.55,381.95 476.65,392.56 477.75,382.23 478.85,391.58 479.95,376.49 481.05,389.96 482.15,378.22 483.25,387.6 484.35,380.89 485.45,386.67 486.55,375.28 487.65,393.61 488.75,375.75 489.85,388.52 490.95,374.13 492.05,382.37 493.15,373.8 494.25,377.72 495.35,366.38 496.45,377.76 497.55,369.98 498.65,379.17 499.75,365.39 500.85,374.79 501.95,358.04 503.05,374.36 504.15,362.06 505.25,370.21 506.35,358.21 507.45,361.53 508.55,352.63 509.65,361 510.75,345.33 511.85,355.27 512.95,345.04 514.05,352.74 515.15,344.32 516.25,351.49 517.35,338.4 518.45,351.08 519.55,338.65 520.65,343.27 521.75,333.4 522.85,345.44 523.95,330.21 525.05,341.58 526.15,324.78 527.25,336.6 528.35,325.39 529.45,330.18 530.55,323.87 531.65,326.83 532.75,319.41 533.85,329.96 534.95,315.18 536.05,325.7 537.15,315.36 538.25,324.05 539.35,312.14 540.45,322.4 541.55,308.76 542.65,324.31 543.75,301.55 544.85,317.37 545.95,309.6 547.05,317.36 548.15,308.73 549.25,320.25 550.35,307.93 551.45,317.79 552.55,303.67 553.65,323.02 554.75,303.14 555.85,319.8 556.95,308.21 558.05,315.2 559.15,307.84 560.25,318.79 561.35,305.65 562.45,317.57 563.55,309.72 564.65,322.64 565.75,307.33 566.85,319.06 567.95,312.71 569.05,325.69 570.15,311.46 571.25,324.95 572.35,314.23 573.45,325.19 574.55,315.78 575.65,326.39 576.75,315.31 577.85,330.35 578.95,319.19 580.05,336.2 581.15,324.94 582.25,333.21 583.35,327.73 584.45,346.46 585.55,324.81 586.65,344.78 587.75,331.34 588.85,344.39 589.95,337.44 591.05,350.57 592.15,342.83 593.25,351.63 594.35,340.29 595.45,351.88 596.55,346.97 597.65,359.15 598.75,343.96 599.85,359.77 600.95,356.29 602.05,367.95 603.15,359.47 604.25,368.68 605.35,355.11 606.45,368.81 607.55,358.16 608.65,373.66 609.75,363.95 610.85,378.62 611.95,360.55 613.05,382.67 614.15,371.08 615.25,383.66 616.35,372.05 617.45,384.59 618.55,373.55 619.65,381.59 620.75,374.24 621.85,387.62 622.95,380.22 624.05,389.75 625.15,377.21 626.25,387.44 627.35,380.13 628.45,391.49 629.55,379.68 630.65,389.65 631.75,379.76 632.85,393.72 633.95,382.76 635.05,389.03 636.15,380.39 637.25,394.86 638.35,380.09 639.45,390.02 640.55,380.71 641.65,390.69 642.75,374.79 643.85,388.38 644.95,379.56 646.05,387.63 647.15,377.64 648.25,386.21 649.35,370.25 650.45,390.18 651.55,365.15 652.65,385.03 653.75,372.93 654.85,383.17 655.95,366.02 657.05,374.93 658.15,365.91 659.25,374.1 660.35,359.98 661.45,370.9 662.55,356.52 663.65,367.69 664.75,356.29 665.85,368.9 666.95,356.79 668.05,370.04 669.15,352.17 670.25,358.28 671.35,348.73 672.45,353.98 673.55,340.97 674.65,351.77 675.75,339.42 676.85,350.33 677.95,339.69 679.05,343.89 680.15,333.26 681.25,342.83" fill="none" stroke="#0000a0" stroke-width="0.9" stroke-linejoin="round" stroke-opacity="0.7"/>
<polyline points="363.9,350.11 364.9,348.27 365.9,350.77 366.9,345.78 367.9,350.4 368.9,347.81 369.9,353.7 370.9,347.04 371.9,351.09 372.9,345.17 373.9,350.24 374.9,348.51 375.9,350.77 376.9,348.4 377.9,350.11 378.9,347.76 379.9,351.06 380.9,346.89 381.9,350.62 382.9,348.19 383.9,350.18 384.9,345.56 385.9,350.07 386.9,347.98 387.9,349.94 388.9,347.62 389.9,350 390.9,347.59 391.9,350.48 392.9,347.51 393.9,351.17 394.9,348.1 395.9,349.96 396.9,348.33 397.9,350.84 398.9,344.82 399.9,349.86 400.9,347.69 401.9,352.54 402.9,347.76 403.9,350.18 404.9,347 405.9,350.79 406.9,348.33 407.9,354.48 408.9,347.34 409.9,352.83 410.9,345.76 411.9,351.1 412.9,346.97 413.9,349.9 414.9,348.32 415.9,350.83 416.9,344.54 417.9,350.87 418.9,348.23 419.9,350.72 420.9,347.16 421.9,349.51 422.9,346.81 423.9,354.49 424.9,348.33 425.9,352.95 426.9,347.08 427.9,349.8 428.9,348.17 429.9,350.29 430.9,346.87 431.9,349.57 432.9,347.74 433.9,350.63 434.9,343.95 435.9,349.73 436.9,345.73 437.9,350.68 438.9,347.93 439.9,351.06 440.9,347.91 441.9,350.9 442.9,347.41 443.9,350.86 444.9,347.87 445.9,350.86 446.9,347.97 447.9,350.56 448.9,346.96 449.9,350.72 450.9,344.99 451.9,349.71 452.9,344.76 453.9,350.66 454.9,346.97 455.9,350.03 456.9,347.92 457.9,349.6 458.9,345.94 459.9,350.51 460.9,347.26 461.9,349.62 462.9,346.87 463.9,351.07 464.9,348.24 465.9,350.85 466.9,348.03 467.9,350.6 468.9,343.6 469.9,350.03 470.9,346.95 471.9,353.21 472.9,344.14 473.9,350.46 474.9,344.59 475.9,350.29 476.9,345.73 477.9,350.13 478.9,347.65 479.9,349.9 480.9,344.64 481.9,350.58 482.9,344.87 483.9,350.54 484.9,344.27 485.9,349.87 486.9,347.95 487.9,350.61 488.9,344.42 489.9,350.67 490.9,345.94 491.9,350.99 492.9,348 493.9,350.85 494.9,348.29 495.9,350.77 496.9,347.25 497.9,350.49 498.9,347.83 499.9,351.08 500.9,347.22 501.9,349.42 502.9,347.92 503.9,349.41 504.9,348.46 505.9,350.6 506.9,348.31 507.9,350.27 508.9,343.73 509.9,350.77 510.9,344.63 511.9,349.74 512.9,347.36 513.9,353.37 514.9,347.98 515.9,350.62 516.9,347.26 517.9,350.62 518.9,344.19 519.9,353.67 520.9,347.7 521.9,349.76 522.9,347.07 523.9,352.54 524.9,347.84 525.9,350.79 526.9,348.11 527.9,350.35 528.9,347.36 529.9,350.5 530.9,346.81 531.9,352.62 532.9,347.25 533.9,350.47 534.9,348.2 535.9,349.97 536.9,345.23 537.9,349.88 538.9,344.84 539.9,350.14 540.9,348.18 541.9,349.79 542.9,345.6 543.9,350.82 544.9,348.57 545.9,349.52 546.9,348.25 547.9,352.48 548.9,348.56 549.9,350.83 550.9,348.31 551.9,350.98 552.9,343.76 553.9,353.91 554.9,347.41 555.9,349.95 556.9,348.54 557.9,351.06 558.9,348.11 559.9,350.16 560.9,348.21 561.9,351.03 562.9,343.51 563.9,353.38 564.9,344.89 565.9,353.63 566.9,347.93 567.9,349.76 568.9,347.67 569.9,350.02 570.9,347.09 571.9,350.01 572.9,347.12 573.9,353.66 574.9,348.1 575.9,350.08 576.9,348.07 577.9,349.43 578.9,345.65 579.9,349.44 580.9,344.91 581.9,349.65 582.9,343.97 583.9,353.2 584.9,344.85 585.9,353.33 586.9,346.9 587.9,350.22 588.9,348.13 589.9,350.5 590.9,348.33 591.9,350.2 592.9,348.14 593.9,350.05 594.9,347.14 595.9,353.67 596.9,347.92 597.9,350.9 598.9,347.28 599.9,350.89 600.9,348.59 601.9,351.17 602.9,347.89 603.9,350.48 604.9,348.18 605.9,354 606.9,347.8 607.9,350 608.9,346.95 609.9,350.13 610.9,347.85 611.9,352.98 612.9,346.84 613.9,350.06 614.9,347.35 615.9,350.83 616.9,347.3 617.9,353.21 618.9,347.27 619.9,349.5 620.9,344.55 621.9,353.44 622.9,347.55 623.9,353.71 624.9,346.94 625.9,352.75 626.9,347.97 627.9,349.58 628.9,347.72 629.9,351.07 630.9,347.27 631.9,350.89 632.9,347.92 633.9,349.45 634.9,348.23 635.9,351.19 636.9,348.29 637.9,350.63 638.9,347.58 639.9,350.6 640.9,348.16 641.9,350.64 642.9,345.34 643.9,350.25 644.9,347.32 645.9,350.54 646.9,343.53 647.9,350.21 648.9,347.07 649.9,349.58 650.9,348.21 651.9,353.11 652.9,345.46 653.9,349.96 654.9,347.92 655.9,352.84 656.9,347.48 657.9,350.94 658.9,345.85 659.9,350.64 660.9,348.22 661.9,353.28 662.9,347.43 663.9,349.57 664.9,348.05 665.9,350.8 666.9,347.26 667.9,349.89 668.9,348.27 669.9,349.69 670.9,347.51 671.9,349.53 672.9,348.18 673.9,354.23 674.9,347.85 675.9,350.59 676.9,347.65 677.9,349.64 678.9,348.01 679.9,350.25 680.9,345.3" fill="none" stroke="#10c010" stroke-width="1.0" stroke-linejoin="round" stroke-opacity="1.0"/>
<line x1="412.8" y1="349" x2="412.8" y2="391" stroke="#d8a8d8" stroke-width="1"/>
<line x1="424.5" y1="349" x2="424.5" y2="387" stroke="#703070" stroke-width="1"/>
<line x1="481.4" y1="348" x2="481.4" y2="381" stroke="#404080" stroke-width="1"/>
<line x1="496.9" y1="318" x2="496.9" y2="355" stroke="#d8a0d8" stroke-width="1"/>
<line x1="568.9" y1="326" x2="568.9" y2="375" stroke="#c8a0d0" stroke-width="1"/>
<line x1="577" y1="352" x2="577" y2="380" stroke="#905090" stroke-width="1"/>
<line x1="581.1" y1="352" x2="581.1" y2="383" stroke="#c090c8" stroke-width="1"/>
<line x1="584.4" y1="347" x2="584.4" y2="383" stroke="#603060" stroke-width="1"/>
</g>
<text x="243.4" y="22" font-family="Liberation Serif, Times New Roman, serif" font-size="17" fill="#000">230 V/div</text>
<text x="622.5" y="20.8" font-family="Liberation Serif, Times New Roman, serif" font-size="17" fill="#000">5 A/div</text>
<text x="244.9" y="276.8" font-family="Liberation Serif, Times New Roman, serif" font-size="17" fill="#000">3.5 A/div</text>
<text x="609.2" y="277" font-family="Liberation Serif, Times New Roman, serif" font-size="17" fill="#000">3.5 A/div</text>
<text x="146.1" y="228.7" font-family="Liberation Serif, Times New Roman, serif" font-size="21" fill="#000">(a)</text>
<text x="508" y="223" font-family="Liberation Serif, Times New Roman, serif" font-size="21" fill="#000">(b)</text>
<text x="146.1" y="484.4" font-family="Liberation Serif, Times New Roman, serif" font-size="21" fill="#000">(c)</text>
<text x="505.8" y="484.4" font-family="Liberation Serif, Times New Roman, serif" font-size="21" fill="#000">(d)</text>
<text transform="translate(18.2 58.6) skewX(-12)" font-family="Liberation Serif, Times New Roman, serif" font-size="24.5" font-style="italic" fill="#000">V</text><text x="35.2" y="61.9" font-family="Liberation Serif, Times New Roman, serif" font-size="16" font-style="italic" fill="#000">sa</text>
<text transform="translate(74.2 62) skewX(-12)" font-family="Liberation Serif, Times New Roman, serif" font-size="24.5" font-style="italic" fill="#000">V</text><text x="91.1" y="65.4" font-family="Liberation Serif, Times New Roman, serif" font-size="16" font-style="italic" fill="#000">sb</text>
<text transform="translate(127.2 62) skewX(-12)" font-family="Liberation Serif, Times New Roman, serif" font-size="24.5" font-style="italic" fill="#000">V</text><text x="144" y="65.3" font-family="Liberation Serif, Times New Roman, serif" font-size="16" font-style="italic" fill="#000">sc</text>
<text x="387.7" y="67.7" font-family="Liberation Serif, Times New Roman, serif" font-size="24.5" font-style="italic" fill="#000">i</text><text x="394.3" y="71.3" font-family="Liberation Serif, Times New Roman, serif" font-size="16" font-style="italic" fill="#000">la</text>
<text x="444.2" y="60.8" font-family="Liberation Serif, Times New Roman, serif" font-size="24.5" font-style="italic" fill="#000">i</text><text x="450.6" y="64.5" font-family="Liberation Serif, Times New Roman, serif" font-size="16" font-style="italic" fill="#000">lb</text>
<text x="494.8" y="49.6" font-family="Liberation Serif, Times New Roman, serif" font-size="24.5" font-style="italic" fill="#000">i</text><text x="500.9" y="53.6" font-family="Liberation Serif, Times New Roman, serif" font-size="16" font-style="italic" fill="#000">lc</text>
<text x="424.1" y="118.3" font-family="Liberation Serif, Times New Roman, serif" font-size="24.5" font-style="italic" fill="#000">i</text><text x="430.5" y="121.9" font-family="Liberation Serif, Times New Roman, serif" font-size="16" font-style="italic" fill="#000">ln</text>
<text x="30.1" y="301.7" font-family="Liberation Serif, Times New Roman, serif" font-size="24.5" font-style="italic" fill="#000">i</text><text x="36.9" y="305.1" font-family="Liberation Serif, Times New Roman, serif" font-size="16" font-style="italic" fill="#000">sa</text>
<text x="87" y="301.4" font-family="Liberation Serif, Times New Roman, serif" font-size="24.5" font-style="italic" fill="#000">i</text><text x="92.6" y="305.1" font-family="Liberation Serif, Times New Roman, serif" font-size="16" font-style="italic" fill="#000">sb</text>
<text x="137.2" y="301.4" font-family="Liberation Serif, Times New Roman, serif" font-size="24.5" font-style="italic" fill="#000">i</text><text x="143.7" y="305.1" font-family="Liberation Serif, Times New Roman, serif" font-size="16" font-style="italic" fill="#000">sc</text>
<text x="162.8" y="363.7" font-family="Liberation Serif, Times New Roman, serif" font-size="24.5" font-style="italic" fill="#000">i</text><text x="169.6" y="367.7" font-family="Liberation Serif, Times New Roman, serif" font-size="16" font-style="italic" fill="#000">sn</text>
<text x="391.3" y="294" font-family="Liberation Serif, Times New Roman, serif" font-size="24.5" font-style="italic" fill="#000">i</text><text x="398.2" y="297.7" font-family="Liberation Serif, Times New Roman, serif" font-size="16" font-style="italic" fill="#000">sa</text>
<text x="446.6" y="294.5" font-family="Liberation Serif, Times New Roman, serif" font-size="24.5" font-style="italic" fill="#000">i</text><text x="452.8" y="297.4" font-family="Liberation Serif, Times New Roman, serif" font-size="16" font-style="italic" fill="#000">sb</text>
<text x="493.3" y="298" font-family="Liberation Serif, Times New Roman, serif" font-size="24.5" font-style="italic" fill="#000">i</text><text x="499.6" y="301.5" font-family="Liberation Serif, Times New Roman, serif" font-size="16" font-style="italic" fill="#000">sc</text>
<text x="542.6" y="341.4" font-family="Liberation Serif, Times New Roman, serif" font-size="24.5" font-style="italic" fill="#000">i</text><text x="549.1" y="345.4" font-family="Liberation Serif, Times New Roman, serif" font-size="16" font-style="italic" fill="#000">sn</text>
<path d="M206.5 4.1h5.6v5.2l-2.8 2.2l-2.8-2.2z" fill="#f7941d"/><path d="M207.7 5.6h3.2M209.3 5.6v4.2" stroke="#fff" stroke-width="0.9" fill="none"/>
<path d="M572.7 4h5.6v5.2l-2.8 2.2l-2.8-2.2z" fill="#f7941d"/><path d="M573.9 5.5h3.2M575.5 5.5v4.2" stroke="#fff" stroke-width="0.9" fill="none"/>
<path d="M206.8 257.9h5.6v5.2l-2.8 2.2l-2.8-2.2z" fill="#f7941d"/><path d="M208 259.4h3.2M209.6 259.4v4.2" stroke="#fff" stroke-width="0.9" fill="none"/>
<path d="M572.7 258h5.6v5.2l-2.8 2.2l-2.8-2.2z" fill="#f7941d"/><path d="M573.9 259.5h3.2M575.5 259.5v4.2" stroke="#fff" stroke-width="0.9" fill="none"/>
</svg></body></html>
